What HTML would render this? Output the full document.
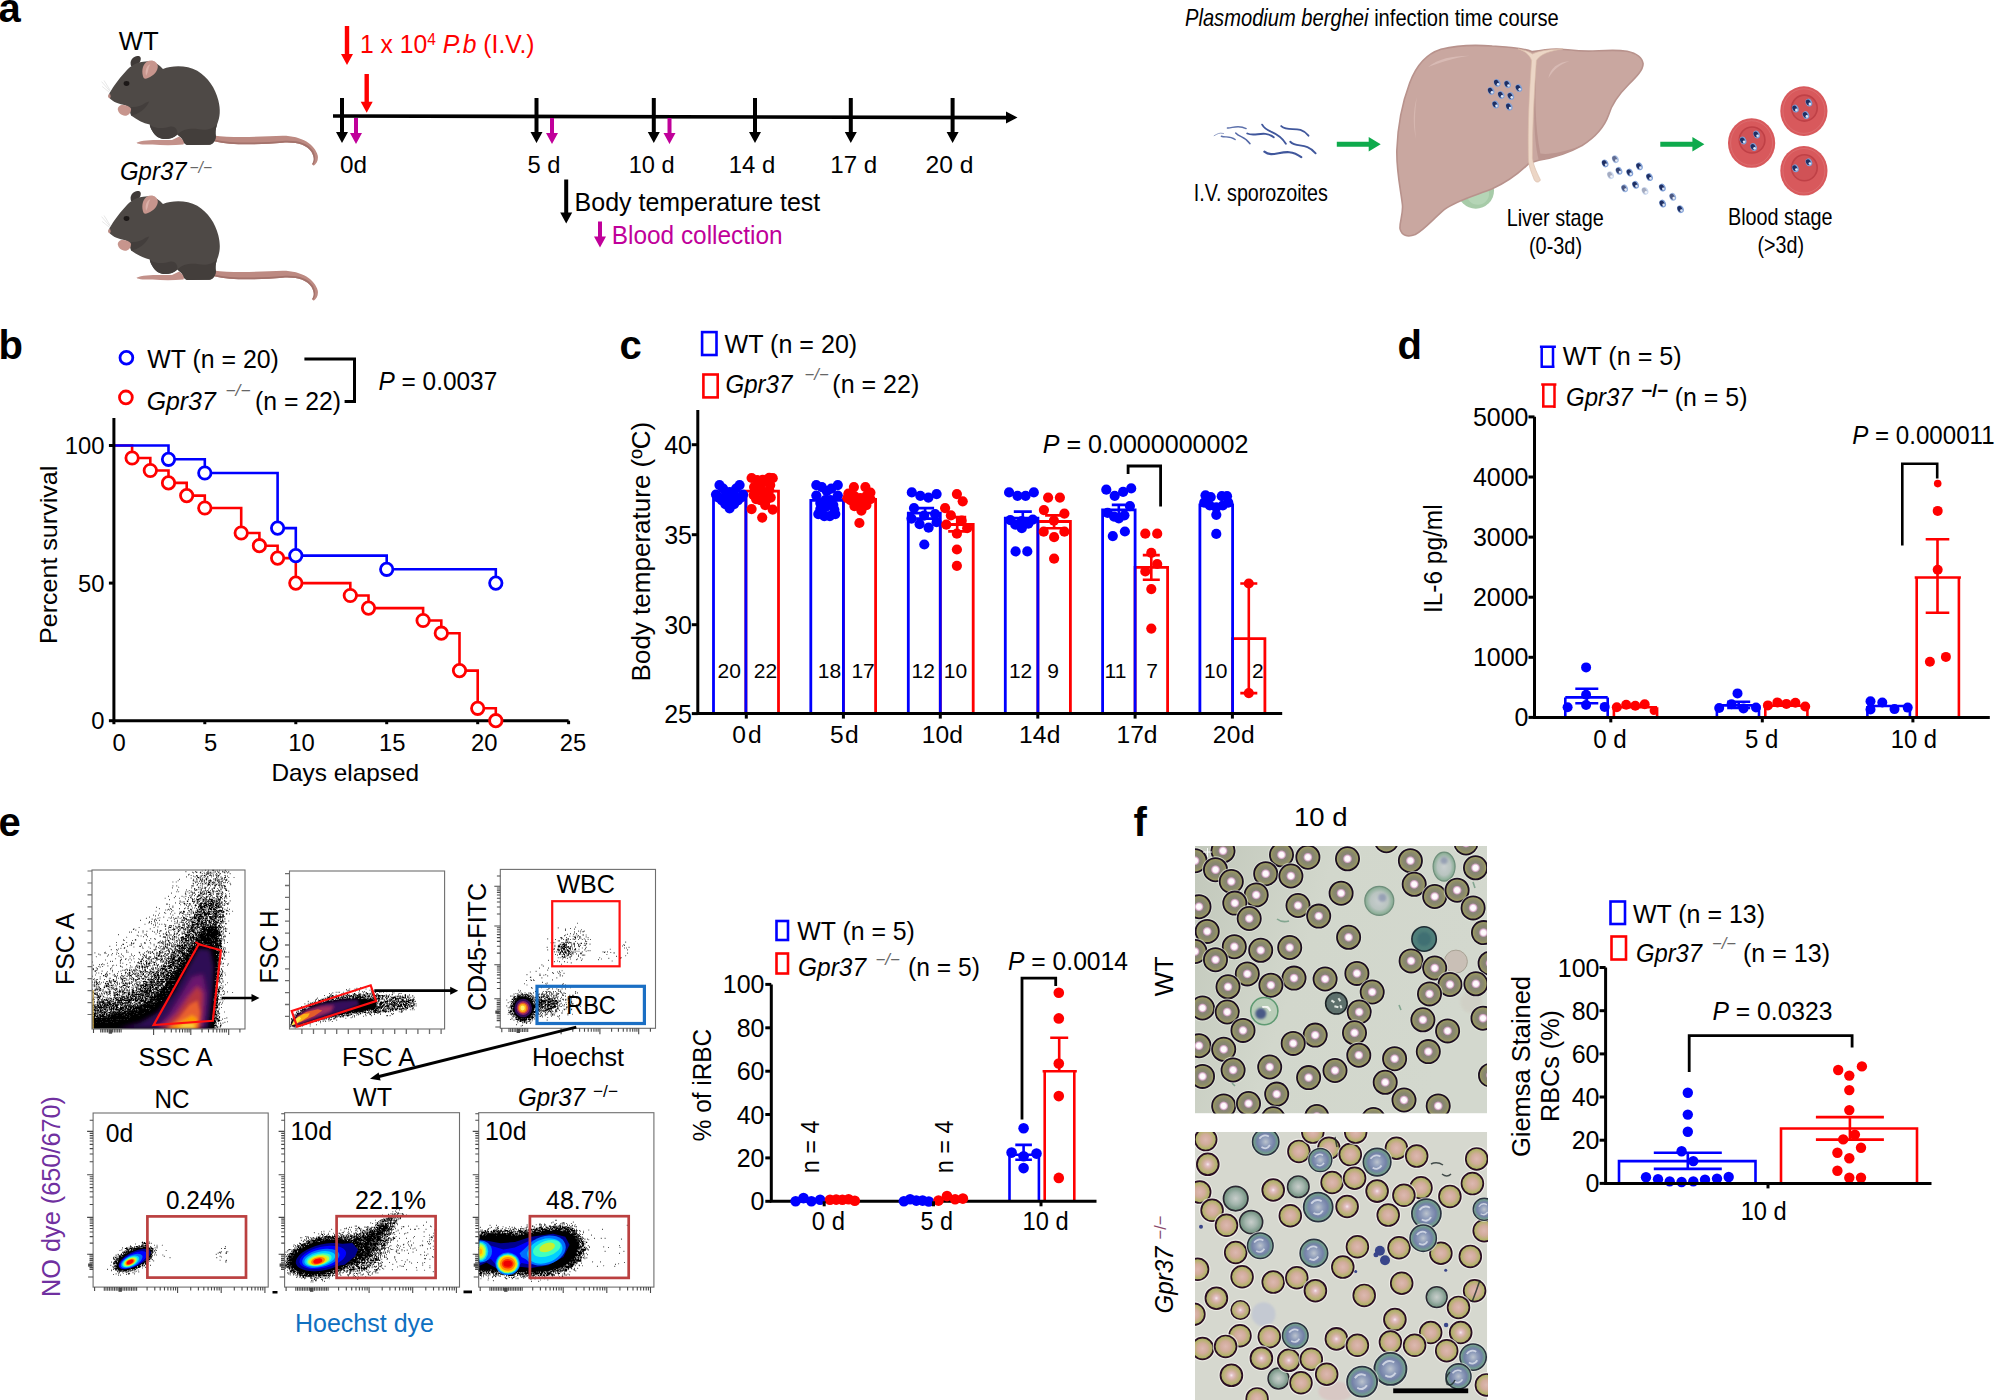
<!DOCTYPE html><html><head><meta charset="utf-8"><title>Figure</title><style>html,body{margin:0;padding:0;background:#fff}svg{display:block}text{font-family:"Liberation Sans",sans-serif}</style></head><body><svg width="1995" height="1400" viewBox="0 0 1995 1400"><rect width="1995" height="1400" fill="#fff"/>
<text x="-1.5" y="21.8" font-size="40" font-weight="bold">a</text>
<text x="118.8" y="49.5" font-size="25.6" textLength="40.0" lengthAdjust="spacingAndGlyphs">WT</text>
<g transform="translate(95 45) scale(0.12030)">
<path d="M985 752 C1150 775 1400 760 1560 755 C1720 755 1830 830 1852 920 C1858 960 1840 990 1818 1003 L1805 990 C1825 960 1822 930 1800 890 C1760 830 1680 805 1560 812 C1400 825 1150 840 990 800 Z" fill="#bd8a82"/>
<path d="M990 800 C1150 840 1400 825 1560 812 C1680 805 1760 830 1800 890 C1822 930 1825 960 1805 990 L1812 998 C1835 960 1835 925 1812 880 C1770 815 1680 790 1560 798 C1400 810 1150 825 990 785 Z" fill="#a3726b"/>
<path d="M300 175 C285 135 310 100 350 92 C378 90 385 105 378 130 L350 190 Z" fill="#3f3a38"/>
<path d="M345 812 C400 785 520 790 640 790 L700 760 L745 800 L735 828 C650 835 560 835 480 828 C420 828 360 828 345 812 Z" fill="#c3918a"/>
<path d="M113 418 C135 370 190 290 260 215 C290 180 330 150 400 140 C450 125 500 140 540 175 L565 200 C640 170 760 165 850 215 C940 270 1000 360 1025 460 C1045 540 1040 600 1015 660 C1000 700 1000 730 1005 760 C1000 800 980 825 950 830 L780 832 C750 830 740 815 735 795 C720 770 700 760 685 745 C640 790 560 790 520 765 C480 730 460 690 455 660 C400 650 350 620 300 585 L288 525 C270 505 240 495 215 492 C190 485 165 475 150 465 C125 450 113 435 113 418 Z" fill="#4e4946"/>
<path d="M685 745 C720 700 800 690 860 700 C920 710 980 700 1015 660 C1000 700 1000 730 1005 760 C1000 800 980 825 950 830 L780 832 C750 830 740 815 735 795 C720 770 700 760 685 745 Z" fill="#433e3b"/>
<path d="M455 660 C480 690 560 700 620 680 C660 670 690 700 685 745 C640 790 560 790 520 765 C480 730 460 690 455 660 Z" fill="#433e3c"/>
<path d="M300 585 C290 560 290 530 300 515 C340 520 380 510 420 480 L450 470 C430 520 380 560 340 575 Z" fill="#433e3c"/>
<path d="M405 275 C385 230 390 170 430 140 C470 115 515 135 522 175 C525 215 490 255 440 275 C425 282 412 282 405 275 Z" fill="#c7958d"/>
<path d="M425 255 C415 215 425 175 460 160 C440 190 445 225 425 255 Z" fill="#dcb1a9"/>
<ellipse cx="262" cy="320" rx="24" ry="20" fill="#1c1817"/>
<ellipse cx="120" cy="425" rx="10" ry="18" fill="#b98880"/>
<path d="M190 540 C185 515 205 498 230 498 C260 500 290 510 300 530 C300 560 285 580 260 588 C230 588 200 575 190 540 Z" fill="#c7958d"/>
<path d="M125 385 L55 305 M128 380 L75 295 M122 395 L60 345" stroke="#bbb" stroke-width="3" fill="none"/>
</g>
<text x="120.0" y="179.8" font-size="25.6" font-style="italic" textLength="66.5" lengthAdjust="spacingAndGlyphs">Gpr37</text>
<text x="189.5" y="172.5" font-size="16" fill="#666" font-style="italic" textLength="22.5" lengthAdjust="spacingAndGlyphs">−/−</text>
<g transform="translate(95 180) scale(0.12030)">
<path d="M985 752 C1150 775 1400 760 1560 755 C1720 755 1830 830 1852 920 C1858 960 1840 990 1818 1003 L1805 990 C1825 960 1822 930 1800 890 C1760 830 1680 805 1560 812 C1400 825 1150 840 990 800 Z" fill="#bd8a82"/>
<path d="M990 800 C1150 840 1400 825 1560 812 C1680 805 1760 830 1800 890 C1822 930 1825 960 1805 990 L1812 998 C1835 960 1835 925 1812 880 C1770 815 1680 790 1560 798 C1400 810 1150 825 990 785 Z" fill="#a3726b"/>
<path d="M300 175 C285 135 310 100 350 92 C378 90 385 105 378 130 L350 190 Z" fill="#3f3a38"/>
<path d="M345 812 C400 785 520 790 640 790 L700 760 L745 800 L735 828 C650 835 560 835 480 828 C420 828 360 828 345 812 Z" fill="#c3918a"/>
<path d="M113 418 C135 370 190 290 260 215 C290 180 330 150 400 140 C450 125 500 140 540 175 L565 200 C640 170 760 165 850 215 C940 270 1000 360 1025 460 C1045 540 1040 600 1015 660 C1000 700 1000 730 1005 760 C1000 800 980 825 950 830 L780 832 C750 830 740 815 735 795 C720 770 700 760 685 745 C640 790 560 790 520 765 C480 730 460 690 455 660 C400 650 350 620 300 585 L288 525 C270 505 240 495 215 492 C190 485 165 475 150 465 C125 450 113 435 113 418 Z" fill="#4e4946"/>
<path d="M685 745 C720 700 800 690 860 700 C920 710 980 700 1015 660 C1000 700 1000 730 1005 760 C1000 800 980 825 950 830 L780 832 C750 830 740 815 735 795 C720 770 700 760 685 745 Z" fill="#433e3b"/>
<path d="M455 660 C480 690 560 700 620 680 C660 670 690 700 685 745 C640 790 560 790 520 765 C480 730 460 690 455 660 Z" fill="#433e3c"/>
<path d="M300 585 C290 560 290 530 300 515 C340 520 380 510 420 480 L450 470 C430 520 380 560 340 575 Z" fill="#433e3c"/>
<path d="M405 275 C385 230 390 170 430 140 C470 115 515 135 522 175 C525 215 490 255 440 275 C425 282 412 282 405 275 Z" fill="#c7958d"/>
<path d="M425 255 C415 215 425 175 460 160 C440 190 445 225 425 255 Z" fill="#dcb1a9"/>
<ellipse cx="262" cy="320" rx="24" ry="20" fill="#1c1817"/>
<ellipse cx="120" cy="425" rx="10" ry="18" fill="#b98880"/>
<path d="M190 540 C185 515 205 498 230 498 C260 500 290 510 300 530 C300 560 285 580 260 588 C230 588 200 575 190 540 Z" fill="#c7958d"/>
<path d="M125 385 L55 305 M128 380 L75 295 M122 395 L60 345" stroke="#bbb" stroke-width="3" fill="none"/>
</g>
<path d="M333 114.2L1006 115.8V111.5L1017.5 117.5L1006 123.5V119.4L333 117.8Z" fill="#000"/>
<path d="M340.0 98.0H344.0V132.0H348.0L342.0 143.0L336.0 132.0H340.0Z" fill="#000"/>
<path d="M534.5 98.0H538.5V132.0H542.5L536.5 143.0L530.5 132.0H534.5Z" fill="#000"/>
<path d="M651.8 98.0H655.8V132.0H659.8L653.8 143.0L647.8 132.0H651.8Z" fill="#000"/>
<path d="M753.0 98.0H757.0V132.0H761.0L755.0 143.0L749.0 132.0H753.0Z" fill="#000"/>
<path d="M848.8 98.0H852.8V132.0H856.8L850.8 143.0L844.8 132.0H848.8Z" fill="#000"/>
<path d="M950.6 98.0H954.6V132.0H958.6L952.6 143.0L946.6 132.0H950.6Z" fill="#000"/>
<path d="M354.0 118.0H358.0V133.0H362.0L356.0 144.0L350.0 133.0H354.0Z" fill="#c0009a"/>
<path d="M550.0 118.0H554.0V133.0H558.0L552.0 144.0L546.0 133.0H550.0Z" fill="#c0009a"/>
<path d="M667.5 118.0H671.5V133.0H675.5L669.5 144.0L663.5 133.0H667.5Z" fill="#c0009a"/>
<path d="M344.8 26.0H349.2V54.0H353.0L347.0 65.0L341.0 54.0H344.8Z" fill="#ff0000"/>
<path d="M364.5 74.0H368.9V101.7H372.7L366.7 112.7L360.7 101.7H364.5Z" fill="#ff0000"/>
<text x="360.0" y="53.2" font-size="25.5" fill="#ff0000" textLength="174.5" lengthAdjust="spacingAndGlyphs">1 x 10<tspan dy="-8" font-size="16">4</tspan><tspan dy="8"> </tspan><tspan font-style="italic">P.b</tspan> (I.V.)</text>
<text x="340.0" y="172.5" font-size="24.5" textLength="27.0" lengthAdjust="spacingAndGlyphs">0d</text>
<text x="527.5" y="172.5" font-size="24.5" textLength="33.0" lengthAdjust="spacingAndGlyphs">5 d</text>
<text x="628.7" y="172.5" font-size="24.5" textLength="46.0" lengthAdjust="spacingAndGlyphs">10 d</text>
<text x="728.7" y="172.5" font-size="24.5" textLength="46.5" lengthAdjust="spacingAndGlyphs">14 d</text>
<text x="830.3" y="172.5" font-size="24.5" textLength="47.0" lengthAdjust="spacingAndGlyphs">17 d</text>
<text x="925.5" y="172.5" font-size="24.5" textLength="48.0" lengthAdjust="spacingAndGlyphs">20 d</text>
<path d="M564.2 179.4H568.2V212.5H572.2L566.2 223.5L560.2 212.5H564.2Z" fill="#000"/>
<text x="574.6" y="210.5" font-size="25" textLength="245.7" lengthAdjust="spacingAndGlyphs">Body temperature test</text>
<path d="M598.0 221.5H602.0V236.6H606.0L600.0 247.6L594.0 236.6H598.0Z" fill="#c0009a"/>
<text x="611.7" y="243.6" font-size="25" fill="#c0009a" textLength="171.0" lengthAdjust="spacingAndGlyphs">Blood collection</text>
<text x="1185.0" y="25.5" font-size="23.8" textLength="373.8" lengthAdjust="spacingAndGlyphs"><tspan font-style="italic">Plasmodium berghei</tspan> infection time course</text>
<g transform="translate(1180 80) scale(0.11028)" fill="none" stroke="#40579c" stroke-width="17" stroke-linecap="round">
<path d="M430 435 C470 440 520 400 600 440" stroke-width="13" opacity=".85"/>
<path d="M310 505 C340 490 350 475 395 485" stroke-width="9" opacity=".55"/>
<path d="M375 510 C410 525 450 500 500 540" stroke-width="13" opacity=".85"/>
<path d="M505 480 C540 520 590 510 635 578" stroke-width="13" opacity=".9"/>
<path d="M610 485 C680 520 760 450 850 520"/>
<path d="M745 405 C790 490 880 450 960 578"/>
<path d="M918 418 C990 480 1080 400 1165 505"/>
<path d="M1000 560 C1060 620 1140 560 1230 665"/>
<path d="M765 650 C850 720 960 590 1100 700" stroke-width="19"/>
</g>
<text x="1193.8" y="201.3" font-size="24" textLength="134.0" lengthAdjust="spacingAndGlyphs">I.V. sporozoites</text>
<path d="M1336.8 141.8V146.8H1368.7V151.6L1380.7 144.3L1368.7 137.1V141.8Z" fill="#0eaa4c"/>
<g transform="translate(1380 30) scale(0.16041)">
<circle cx="597" cy="1000" r="114" fill="#a7cba8"/>
<circle cx="610" cy="1020" r="70" fill="#b5d5b6"/>
<path d="M950 135 C880 110 800 105 700 100 C600 92 480 95 380 120 C300 145 230 210 185 330 C140 450 110 600 105 750 C102 880 130 1000 140 1090 C145 1150 120 1200 125 1240 C135 1280 170 1295 220 1275 C270 1250 320 1190 400 1120 C480 1060 600 1030 700 990 C800 945 880 880 930 830 L990 812 C1060 800 1160 775 1260 720 C1340 670 1400 600 1425 530 C1445 460 1490 400 1550 340 C1600 290 1640 250 1640 210 C1635 170 1600 145 1540 132 C1460 120 1380 130 1300 132 C1200 130 1150 118 1100 118 C1040 120 990 128 950 135 Z" fill="#c9a7a0" stroke="#b8928c" stroke-width="10"/>
<path d="M975 190 C960 400 950 650 990 812 C1060 800 1160 775 1260 720 C1150 760 1050 780 1000 770 C965 600 965 400 975 190 Z" fill="#bb958f"/>
<path d="M300 230 C360 180 450 160 560 160 C470 170 380 200 300 230 Z" fill="#d8bab4"/>
<path d="M1050 300 C1060 240 1110 200 1180 195 C1120 215 1080 250 1050 300 Z" fill="#d8bab4"/>
<path d="M230 420 C215 520 215 600 225 680 C205 600 205 500 230 420 Z" fill="#d6b7b0"/>
<path d="M860 118 C900 125 930 135 950 150 C990 130 1050 120 1140 118 C1060 130 1000 150 975 190 C960 400 950 600 950 800 C960 860 985 900 1000 935 C990 955 970 950 962 935 C945 890 925 850 925 800 C920 600 930 400 945 190 C930 150 900 130 860 118 Z" fill="#ecd6c6" stroke="#d9bba9" stroke-width="4"/>
<g opacity="1"><ellipse cx="730" cy="330" rx="20" ry="25" fill="#7f9fd6" transform="rotate(-25 730 330)"/><ellipse cx="727" cy="327" rx="14" ry="18" fill="#1f2f63" transform="rotate(-25 730 330)"/><circle cx="736" cy="338" r="8" fill="#dfe8f7"/></g>
<g opacity="1"><ellipse cx="795" cy="338" rx="20" ry="25" fill="#7f9fd6" transform="rotate(-25 795 338)"/><ellipse cx="792" cy="335" rx="14" ry="18" fill="#1f2f63" transform="rotate(-25 795 338)"/><circle cx="801" cy="346" r="8" fill="#dfe8f7"/></g>
<g opacity="1"><ellipse cx="865" cy="362" rx="20" ry="25" fill="#7f9fd6" transform="rotate(-25 865 362)"/><ellipse cx="862" cy="359" rx="14" ry="18" fill="#1f2f63" transform="rotate(-25 865 362)"/><circle cx="871" cy="370" r="8" fill="#dfe8f7"/></g>
<g opacity="1"><ellipse cx="692" cy="380" rx="20" ry="25" fill="#7f9fd6" transform="rotate(-25 692 380)"/><ellipse cx="689" cy="377" rx="14" ry="18" fill="#1f2f63" transform="rotate(-25 692 380)"/><circle cx="698" cy="388" r="8" fill="#dfe8f7"/></g>
<g opacity="1"><ellipse cx="755" cy="405" rx="20" ry="25" fill="#7f9fd6" transform="rotate(-25 755 405)"/><ellipse cx="752" cy="402" rx="14" ry="18" fill="#1f2f63" transform="rotate(-25 755 405)"/><circle cx="761" cy="413" r="8" fill="#dfe8f7"/></g>
<g opacity="1"><ellipse cx="815" cy="412" rx="20" ry="25" fill="#7f9fd6" transform="rotate(-25 815 412)"/><ellipse cx="812" cy="409" rx="14" ry="18" fill="#1f2f63" transform="rotate(-25 815 412)"/><circle cx="821" cy="420" r="8" fill="#dfe8f7"/></g>
<g opacity="1"><ellipse cx="720" cy="465" rx="20" ry="25" fill="#7f9fd6" transform="rotate(-25 720 465)"/><ellipse cx="717" cy="462" rx="14" ry="18" fill="#1f2f63" transform="rotate(-25 720 465)"/><circle cx="726" cy="473" r="8" fill="#dfe8f7"/></g>
<g opacity="1"><ellipse cx="805" cy="478" rx="20" ry="25" fill="#7f9fd6" transform="rotate(-25 805 478)"/><ellipse cx="802" cy="475" rx="14" ry="18" fill="#1f2f63" transform="rotate(-25 805 478)"/><circle cx="811" cy="486" r="8" fill="#dfe8f7"/></g>
<g opacity="1"><ellipse cx="1403" cy="832" rx="20" ry="25" fill="#7f9fd6" transform="rotate(-25 1403 832)"/><ellipse cx="1400" cy="829" rx="14" ry="18" fill="#1f2f63" transform="rotate(-25 1403 832)"/><circle cx="1409" cy="840" r="8" fill="#dfe8f7"/></g>
<g opacity="0.7"><ellipse cx="1467" cy="805" rx="20" ry="25" fill="#7f9fd6" transform="rotate(-25 1467 805)"/><ellipse cx="1464" cy="802" rx="14" ry="18" fill="#1f2f63" transform="rotate(-25 1467 805)"/><circle cx="1473" cy="813" r="8" fill="#dfe8f7"/></g>
<g opacity="0.9"><ellipse cx="1490" cy="878" rx="20" ry="25" fill="#7f9fd6" transform="rotate(-25 1490 878)"/><ellipse cx="1487" cy="875" rx="14" ry="18" fill="#1f2f63" transform="rotate(-25 1490 878)"/><circle cx="1496" cy="886" r="8" fill="#dfe8f7"/></g>
<g opacity="0.4"><ellipse cx="1437" cy="905" rx="20" ry="25" fill="#7f9fd6" transform="rotate(-25 1437 905)"/><ellipse cx="1434" cy="902" rx="14" ry="18" fill="#1f2f63" transform="rotate(-25 1437 905)"/><circle cx="1443" cy="913" r="8" fill="#dfe8f7"/></g>
<g opacity="1"><ellipse cx="1557" cy="889" rx="20" ry="25" fill="#7f9fd6" transform="rotate(-25 1557 889)"/><ellipse cx="1554" cy="886" rx="14" ry="18" fill="#1f2f63" transform="rotate(-25 1557 889)"/><circle cx="1563" cy="897" r="8" fill="#dfe8f7"/></g>
<g opacity="1"><ellipse cx="1617" cy="850" rx="20" ry="25" fill="#7f9fd6" transform="rotate(-25 1617 850)"/><ellipse cx="1614" cy="847" rx="14" ry="18" fill="#1f2f63" transform="rotate(-25 1617 850)"/><circle cx="1623" cy="858" r="8" fill="#dfe8f7"/></g>
<g opacity="1"><ellipse cx="1680" cy="917" rx="20" ry="25" fill="#7f9fd6" transform="rotate(-25 1680 917)"/><ellipse cx="1677" cy="914" rx="14" ry="18" fill="#1f2f63" transform="rotate(-25 1680 917)"/><circle cx="1686" cy="925" r="8" fill="#dfe8f7"/></g>
<g opacity="1"><ellipse cx="1593" cy="965" rx="20" ry="25" fill="#7f9fd6" transform="rotate(-25 1593 965)"/><ellipse cx="1590" cy="962" rx="14" ry="18" fill="#1f2f63" transform="rotate(-25 1593 965)"/><circle cx="1599" cy="973" r="8" fill="#dfe8f7"/></g>
<g opacity="0.8"><ellipse cx="1525" cy="987" rx="20" ry="25" fill="#7f9fd6" transform="rotate(-25 1525 987)"/><ellipse cx="1522" cy="984" rx="14" ry="18" fill="#1f2f63" transform="rotate(-25 1525 987)"/><circle cx="1531" cy="995" r="8" fill="#dfe8f7"/></g>
<g opacity="0.4"><ellipse cx="1652" cy="1003" rx="20" ry="25" fill="#7f9fd6" transform="rotate(-25 1652 1003)"/><ellipse cx="1649" cy="1000" rx="14" ry="18" fill="#1f2f63" transform="rotate(-25 1652 1003)"/><circle cx="1658" cy="1011" r="8" fill="#dfe8f7"/></g>
<g opacity="1"><ellipse cx="1760" cy="982" rx="20" ry="25" fill="#7f9fd6" transform="rotate(-25 1760 982)"/><ellipse cx="1757" cy="979" rx="14" ry="18" fill="#1f2f63" transform="rotate(-25 1760 982)"/><circle cx="1766" cy="990" r="8" fill="#dfe8f7"/></g>
<g opacity="0.8"><ellipse cx="1825" cy="1040" rx="20" ry="25" fill="#7f9fd6" transform="rotate(-25 1825 1040)"/><ellipse cx="1822" cy="1037" rx="14" ry="18" fill="#1f2f63" transform="rotate(-25 1825 1040)"/><circle cx="1831" cy="1048" r="8" fill="#dfe8f7"/></g>
<g opacity="1"><ellipse cx="1762" cy="1082" rx="20" ry="25" fill="#7f9fd6" transform="rotate(-25 1762 1082)"/><ellipse cx="1759" cy="1079" rx="14" ry="18" fill="#1f2f63" transform="rotate(-25 1762 1082)"/><circle cx="1768" cy="1090" r="8" fill="#dfe8f7"/></g>
<g opacity="1"><ellipse cx="1873" cy="1117" rx="20" ry="25" fill="#7f9fd6" transform="rotate(-25 1873 1117)"/><ellipse cx="1870" cy="1114" rx="14" ry="18" fill="#1f2f63" transform="rotate(-25 1873 1117)"/><circle cx="1879" cy="1125" r="8" fill="#dfe8f7"/></g>
</g>
<path d="M1660.3 141.7V146.7H1692.4V151.4L1704.4 144.2L1692.4 136.9V141.7Z" fill="#0eaa4c"/>
<text x="1506.7" y="225.7" font-size="24" textLength="97.0" lengthAdjust="spacingAndGlyphs">Liver stage</text>
<text x="1529.0" y="254.0" font-size="24" textLength="53.0" lengthAdjust="spacingAndGlyphs">(0-3d)</text>
<ellipse cx="1751.6" cy="143" rx="23.6" ry="24.8" fill="#d8595c"/>
<ellipse cx="1751.6" cy="143" rx="21" ry="22.3" fill="none" stroke="#e0787a" stroke-width="1" opacity=".6"/>
<ellipse cx="1752.1" cy="140" rx="12.8" ry="13" fill="#d05256" stroke="#bf4046" stroke-width="1.6"/>
<g transform="translate(1743.1 140.5) scale(0.16)">
<g opacity="1"><ellipse cx="0" cy="0" rx="20" ry="25" fill="#7f9fd6" transform="rotate(-25 0 0)"/><ellipse cx="-3" cy="-3" rx="14" ry="18" fill="#1f2f63" transform="rotate(-25 0 0)"/><circle cx="6" cy="8" r="8" fill="#dfe8f7"/></g>
</g>
<g transform="translate(1756.6 134.5) scale(0.16)">
<g opacity="1"><ellipse cx="0" cy="0" rx="20" ry="25" fill="#7f9fd6" transform="rotate(-25 0 0)"/><ellipse cx="-3" cy="-3" rx="14" ry="18" fill="#1f2f63" transform="rotate(-25 0 0)"/><circle cx="6" cy="8" r="8" fill="#dfe8f7"/></g>
</g>
<g transform="translate(1753.6 147.0) scale(0.16)">
<g opacity="1"><ellipse cx="0" cy="0" rx="20" ry="25" fill="#7f9fd6" transform="rotate(-25 0 0)"/><ellipse cx="-3" cy="-3" rx="14" ry="18" fill="#1f2f63" transform="rotate(-25 0 0)"/><circle cx="6" cy="8" r="8" fill="#dfe8f7"/></g>
</g>
<ellipse cx="1803.9" cy="111.1" rx="23.6" ry="24.8" fill="#d8595c"/>
<ellipse cx="1803.9" cy="111.1" rx="21" ry="22.3" fill="none" stroke="#e0787a" stroke-width="1" opacity=".6"/>
<ellipse cx="1804.4" cy="108.1" rx="12.8" ry="13" fill="#d05256" stroke="#bf4046" stroke-width="1.6"/>
<g transform="translate(1795.4 108.6) scale(0.16)">
<g opacity="1"><ellipse cx="0" cy="0" rx="20" ry="25" fill="#7f9fd6" transform="rotate(-25 0 0)"/><ellipse cx="-3" cy="-3" rx="14" ry="18" fill="#1f2f63" transform="rotate(-25 0 0)"/><circle cx="6" cy="8" r="8" fill="#dfe8f7"/></g>
</g>
<g transform="translate(1808.9 102.6) scale(0.16)">
<g opacity="1"><ellipse cx="0" cy="0" rx="20" ry="25" fill="#7f9fd6" transform="rotate(-25 0 0)"/><ellipse cx="-3" cy="-3" rx="14" ry="18" fill="#1f2f63" transform="rotate(-25 0 0)"/><circle cx="6" cy="8" r="8" fill="#dfe8f7"/></g>
</g>
<g transform="translate(1805.9 115.1) scale(0.16)">
<g opacity="1"><ellipse cx="0" cy="0" rx="20" ry="25" fill="#7f9fd6" transform="rotate(-25 0 0)"/><ellipse cx="-3" cy="-3" rx="14" ry="18" fill="#1f2f63" transform="rotate(-25 0 0)"/><circle cx="6" cy="8" r="8" fill="#dfe8f7"/></g>
</g>
<ellipse cx="1803.9" cy="170.8" rx="23.6" ry="24.8" fill="#d8595c"/>
<ellipse cx="1803.9" cy="170.8" rx="21" ry="22.3" fill="none" stroke="#e0787a" stroke-width="1" opacity=".6"/>
<ellipse cx="1804.4" cy="167.8" rx="12.8" ry="13" fill="#d05256" stroke="#bf4046" stroke-width="1.6"/>
<g transform="translate(1795.4 168.3) scale(0.16)">
<g opacity="1"><ellipse cx="0" cy="0" rx="20" ry="25" fill="#7f9fd6" transform="rotate(-25 0 0)"/><ellipse cx="-3" cy="-3" rx="14" ry="18" fill="#1f2f63" transform="rotate(-25 0 0)"/><circle cx="6" cy="8" r="8" fill="#dfe8f7"/></g>
</g>
<g transform="translate(1808.9 162.3) scale(0.16)">
<g opacity="1"><ellipse cx="0" cy="0" rx="20" ry="25" fill="#7f9fd6" transform="rotate(-25 0 0)"/><ellipse cx="-3" cy="-3" rx="14" ry="18" fill="#1f2f63" transform="rotate(-25 0 0)"/><circle cx="6" cy="8" r="8" fill="#dfe8f7"/></g>
</g>
<text x="1728.0" y="225.0" font-size="24" textLength="104.5" lengthAdjust="spacingAndGlyphs">Blood stage</text>
<text x="1757.5" y="252.5" font-size="24" textLength="46.5" lengthAdjust="spacingAndGlyphs">(&gt;3d)</text>
<text x="-1.5" y="359.0" font-size="40" font-weight="bold">b</text>
<circle cx="126.4" cy="357.8" r="6.4" fill="#fff" stroke="#0000ff" stroke-width="2.8"/>
<circle cx="125.9" cy="397.4" r="6.4" fill="#fff" stroke="#ff0000" stroke-width="2.8"/>
<text x="147.3" y="367.7" font-size="25.8" textLength="131.6" lengthAdjust="spacingAndGlyphs">WT (n = 20)</text>
<text x="146.7" y="410.0" font-size="25.8" font-style="italic" textLength="69.0" lengthAdjust="spacingAndGlyphs">Gpr37</text>
<text x="225.5" y="396.0" font-size="16" fill="#666" font-style="italic" textLength="25.0" lengthAdjust="spacingAndGlyphs">−/−</text>
<text x="255.0" y="410.0" font-size="25.8" textLength="86.0" lengthAdjust="spacingAndGlyphs">(n = 22)</text>
<path d="M304.4 359.1H354.5V401.6H344.6" fill="none" stroke="#000" stroke-width="3"/>
<text x="378.5" y="390.4" font-size="25.8" textLength="118.8" lengthAdjust="spacingAndGlyphs"><tspan font-style="italic">P</tspan> = 0.0037</text>
<path d="M113.9 445.5H132.1V458.0H150.3V470.5H168.5V482.9H186.7V495.6H204.8V508.0H241.2V533.0H259.4V545.7H277.6V558.1H295.8V583.1H350.3V595.5H368.5V608.1H423.1V620.5H441.3V633.2H459.5V670.6H477.7V708.3H495.8V720.7" fill="none" stroke="#ff0000" stroke-width="2.6"/>
<path d="M113.9 445.5H168.5V459.3H204.8V473.0H277.6V528.1H295.8V555.6H386.7V569.3H495.8V583.1" fill="none" stroke="#0000ff" stroke-width="2.6"/>
<path d="M113.9 418V720.7H568.6" fill="none" stroke="#000" stroke-width="3"/>
<line x1="108.9" y1="720.7" x2="113.9" y2="720.7" stroke="#000" stroke-width="3" />
<line x1="108.9" y1="583.1" x2="113.9" y2="583.1" stroke="#000" stroke-width="3" />
<line x1="108.9" y1="445.5" x2="113.9" y2="445.5" stroke="#000" stroke-width="3" />
<line x1="113.9" y1="720.7" x2="113.9" y2="724.2" stroke="#000" stroke-width="3" />
<line x1="204.8" y1="720.7" x2="204.8" y2="724.2" stroke="#000" stroke-width="3" />
<line x1="295.8" y1="720.7" x2="295.8" y2="724.2" stroke="#000" stroke-width="3" />
<line x1="386.7" y1="720.7" x2="386.7" y2="724.2" stroke="#000" stroke-width="3" />
<line x1="477.7" y1="720.7" x2="477.7" y2="724.2" stroke="#000" stroke-width="3" />
<line x1="568.6" y1="720.7" x2="568.6" y2="724.2" stroke="#000" stroke-width="3" />
<circle cx="132.1" cy="458.0" r="6.2" fill="#fff" stroke="#ff0000" stroke-width="2.8"/>
<circle cx="150.3" cy="470.5" r="6.2" fill="#fff" stroke="#ff0000" stroke-width="2.8"/>
<circle cx="168.5" cy="482.9" r="6.2" fill="#fff" stroke="#ff0000" stroke-width="2.8"/>
<circle cx="186.7" cy="495.6" r="6.2" fill="#fff" stroke="#ff0000" stroke-width="2.8"/>
<circle cx="204.8" cy="508.0" r="6.2" fill="#fff" stroke="#ff0000" stroke-width="2.8"/>
<circle cx="241.2" cy="533.0" r="6.2" fill="#fff" stroke="#ff0000" stroke-width="2.8"/>
<circle cx="259.4" cy="545.7" r="6.2" fill="#fff" stroke="#ff0000" stroke-width="2.8"/>
<circle cx="277.6" cy="558.1" r="6.2" fill="#fff" stroke="#ff0000" stroke-width="2.8"/>
<circle cx="295.8" cy="583.1" r="6.2" fill="#fff" stroke="#ff0000" stroke-width="2.8"/>
<circle cx="350.3" cy="595.5" r="6.2" fill="#fff" stroke="#ff0000" stroke-width="2.8"/>
<circle cx="368.5" cy="608.1" r="6.2" fill="#fff" stroke="#ff0000" stroke-width="2.8"/>
<circle cx="423.1" cy="620.5" r="6.2" fill="#fff" stroke="#ff0000" stroke-width="2.8"/>
<circle cx="441.3" cy="633.2" r="6.2" fill="#fff" stroke="#ff0000" stroke-width="2.8"/>
<circle cx="459.5" cy="670.6" r="6.2" fill="#fff" stroke="#ff0000" stroke-width="2.8"/>
<circle cx="477.7" cy="708.3" r="6.2" fill="#fff" stroke="#ff0000" stroke-width="2.8"/>
<circle cx="495.8" cy="720.7" r="6.2" fill="#fff" stroke="#ff0000" stroke-width="2.8"/>
<circle cx="168.5" cy="459.3" r="6.2" fill="#fff" stroke="#0000ff" stroke-width="2.8"/>
<circle cx="204.8" cy="473.0" r="6.2" fill="#fff" stroke="#0000ff" stroke-width="2.8"/>
<circle cx="277.6" cy="528.1" r="6.2" fill="#fff" stroke="#0000ff" stroke-width="2.8"/>
<circle cx="295.8" cy="555.6" r="6.2" fill="#fff" stroke="#0000ff" stroke-width="2.8"/>
<circle cx="386.7" cy="569.3" r="6.2" fill="#fff" stroke="#0000ff" stroke-width="2.8"/>
<circle cx="495.8" cy="583.1" r="6.2" fill="#fff" stroke="#0000ff" stroke-width="2.8"/>
<text x="104.5" y="454.1" font-size="23.8" text-anchor="end">100</text>
<text x="104.5" y="591.7" font-size="23.8" text-anchor="end">50</text>
<text x="104.5" y="729.3" font-size="23.8" text-anchor="end">0</text>
<text x="119.1" y="750.9" font-size="23.8" text-anchor="middle">0</text>
<text x="210.6" y="750.9" font-size="23.8" text-anchor="middle">5</text>
<text x="301.4" y="750.9" font-size="23.8" text-anchor="middle">10</text>
<text x="392.3" y="750.9" font-size="23.8" text-anchor="middle">15</text>
<text x="484.3" y="750.9" font-size="23.8" text-anchor="middle">20</text>
<text x="572.9" y="750.9" font-size="23.8" text-anchor="middle">25</text>
<text x="271.4" y="781.4" font-size="24" textLength="147.7" lengthAdjust="spacingAndGlyphs">Days elapsed</text>
<text x="56.6" y="644.0" font-size="24" textLength="178.3" lengthAdjust="spacingAndGlyphs" transform="rotate(-90 56.6 644.0)">Percent survival</text>
<text x="619.5" y="359.0" font-size="40" font-weight="bold">c</text>
<rect x="702.1" y="332.1" width="14.4" height="22.9" fill="none" stroke="#0000ff" stroke-width="2.6"/>
<rect x="703.4" y="374.5" width="14.3" height="22.9" fill="none" stroke="#ff0000" stroke-width="2.6"/>
<text x="724.6" y="352.6" font-size="25.8" textLength="132.6" lengthAdjust="spacingAndGlyphs">WT (n = 20)</text>
<text x="725.6" y="392.6" font-size="25.8" font-style="italic" textLength="66.7" lengthAdjust="spacingAndGlyphs">Gpr37</text>
<text x="804.6" y="379.5" font-size="16" fill="#666" font-style="italic" textLength="24.0" lengthAdjust="spacingAndGlyphs">−/−</text>
<text x="832.3" y="392.6" font-size="25.8" textLength="87.0" lengthAdjust="spacingAndGlyphs">(n = 22)</text>
<text x="1042.8" y="452.6" font-size="25.8" textLength="205.6" lengthAdjust="spacingAndGlyphs"><tspan font-style="italic">P</tspan> = 0.0000000002</text>
<path d="M1128.1 474V466H1160.6V506.5" fill="none" stroke="#000" stroke-width="2.8"/>
<path d="M745.9 713.6V491.1H778.5V713.6" fill="none" stroke="#ff0000" stroke-width="2.8"/>
<path d="M843.4 713.6V499.3H875.6V713.6" fill="none" stroke="#ff0000" stroke-width="2.8"/>
<path d="M940.3 713.6V524.5H973.2V713.6" fill="none" stroke="#ff0000" stroke-width="2.8"/>
<path d="M1037.9 713.6V521.5H1070.4V713.6" fill="none" stroke="#ff0000" stroke-width="2.8"/>
<path d="M1135.1 713.6V567.3H1167.6V713.6" fill="none" stroke="#ff0000" stroke-width="2.8"/>
<path d="M1232.6 713.6V638.6H1264.9V713.6" fill="none" stroke="#ff0000" stroke-width="2.8"/>
<path d="M713.5 713.6V494.6H745.9V713.6" fill="none" stroke="#0000ff" stroke-width="2.8"/>
<path d="M810.8 713.6V500.3H843.4V713.6" fill="none" stroke="#0000ff" stroke-width="2.8"/>
<path d="M908.3 713.6V513.1H940.3V713.6" fill="none" stroke="#0000ff" stroke-width="2.8"/>
<path d="M1005.3 713.6V518.1H1037.9V713.6" fill="none" stroke="#0000ff" stroke-width="2.8"/>
<path d="M1102.6 713.6V509.8H1135.1V713.6" fill="none" stroke="#0000ff" stroke-width="2.8"/>
<path d="M1199.9 713.6V504.9H1232.6V713.6" fill="none" stroke="#0000ff" stroke-width="2.8"/>
<path d="M916.1 508.1H934.1M916.1 518.6H934.1M925.1 508.1V518.6" fill="none" stroke="#0000ff" stroke-width="2.6"/>
<path d="M948.2 517.1H966.2M948.2 531.4H966.2M957.2 517.1V531.4" fill="none" stroke="#ff0000" stroke-width="2.6"/>
<path d="M1013.8 511.6H1031.8M1013.8 525.2H1031.8M1022.8 511.6V525.2" fill="none" stroke="#0000ff" stroke-width="2.6"/>
<path d="M1045.1 515.4H1063.1M1045.1 528.2H1063.1M1054.1 515.4V528.2" fill="none" stroke="#ff0000" stroke-width="2.6"/>
<path d="M1111.8 504.9H1125.8M1111.8 514.8H1125.8M1118.8 504.9V514.8" fill="none" stroke="#0000ff" stroke-width="2.6"/>
<path d="M1142.8 555.1H1159.8M1142.8 579.8H1159.8M1151.3 555.1V579.8" fill="none" stroke="#ff0000" stroke-width="2.6"/>
<path d="M1240.3 583.5H1257.3M1240.3 693.1H1257.3M1248.8 583.5V693.1" fill="none" stroke="#ff0000" stroke-width="2.6"/>
<g fill="#0000ff"><circle cx="719.5" cy="485.1" r="5.1"/><circle cx="723.1" cy="488.6" r="5.1"/><circle cx="739.6" cy="485.1" r="5.1"/><circle cx="736.1" cy="488.6" r="5.1"/><circle cx="726.3" cy="493.1" r="5.1"/><circle cx="733.1" cy="493.1" r="5.1"/><circle cx="729.6" cy="496.6" r="5.1"/><circle cx="718.0" cy="497.3" r="5.1"/><circle cx="721.9" cy="500.3" r="5.1"/><circle cx="725.3" cy="504.1" r="5.1"/><circle cx="729.6" cy="508.3" r="5.1"/><circle cx="734.1" cy="504.1" r="5.1"/><circle cx="737.9" cy="500.3" r="5.1"/><circle cx="741.3" cy="497.3" r="5.1"/><circle cx="716.0" cy="494.6" r="5.1"/><circle cx="743.1" cy="494.6" r="5.1"/><circle cx="729.6" cy="502.1" r="5.1"/><circle cx="726.1" cy="498.6" r="5.1"/><circle cx="733.1" cy="498.6" r="5.1"/><circle cx="729.6" cy="492.1" r="5.1"/></g>
<g fill="#ff0000"><circle cx="751.6" cy="478.0" r="5.1"/><circle cx="757.1" cy="480.1" r="5.1"/><circle cx="762.7" cy="479.8" r="5.1"/><circle cx="769.2" cy="477.8" r="5.1"/><circle cx="772.7" cy="478.2" r="5.1"/><circle cx="754.1" cy="487.1" r="5.1"/><circle cx="760.2" cy="485.1" r="5.1"/><circle cx="770.2" cy="485.1" r="5.1"/><circle cx="766.2" cy="481.6" r="5.1"/><circle cx="753.6" cy="495.1" r="5.1"/><circle cx="757.1" cy="491.1" r="5.1"/><circle cx="764.2" cy="493.1" r="5.1"/><circle cx="770.7" cy="497.6" r="5.1"/><circle cx="760.2" cy="500.1" r="5.1"/><circle cx="756.1" cy="499.1" r="5.1"/><circle cx="765.2" cy="505.1" r="5.1"/><circle cx="769.2" cy="490.1" r="5.1"/><circle cx="751.6" cy="509.1" r="5.1"/><circle cx="772.7" cy="509.6" r="5.1"/><circle cx="762.2" cy="517.6" r="5.1"/><circle cx="761.2" cy="490.1" r="5.1"/><circle cx="766.2" cy="500.1" r="5.1"/></g>
<g fill="#0000ff"><circle cx="816.3" cy="485.1" r="5.1"/><circle cx="821.8" cy="487.1" r="5.1"/><circle cx="837.8" cy="485.1" r="5.1"/><circle cx="831.3" cy="488.6" r="5.1"/><circle cx="826.8" cy="491.1" r="5.1"/><circle cx="816.3" cy="495.6" r="5.1"/><circle cx="837.8" cy="495.6" r="5.1"/><circle cx="830.3" cy="500.1" r="5.1"/><circle cx="820.3" cy="503.1" r="5.1"/><circle cx="833.3" cy="505.1" r="5.1"/><circle cx="825.3" cy="507.1" r="5.1"/><circle cx="818.3" cy="514.1" r="5.1"/><circle cx="824.3" cy="516.1" r="5.1"/><circle cx="829.8" cy="516.1" r="5.1"/><circle cx="835.3" cy="514.1" r="5.1"/><circle cx="825.3" cy="500.1" r="5.1"/><circle cx="820.3" cy="509.1" r="5.1"/><circle cx="834.3" cy="509.6" r="5.1"/></g>
<g fill="#ff0000"><circle cx="853.9" cy="487.1" r="5.1"/><circle cx="865.4" cy="487.1" r="5.1"/><circle cx="848.4" cy="493.6" r="5.1"/><circle cx="870.4" cy="492.6" r="5.1"/><circle cx="854.4" cy="496.1" r="5.1"/><circle cx="860.4" cy="498.1" r="5.1"/><circle cx="866.4" cy="496.1" r="5.1"/><circle cx="850.4" cy="500.1" r="5.1"/><circle cx="856.4" cy="502.1" r="5.1"/><circle cx="864.4" cy="502.1" r="5.1"/><circle cx="870.4" cy="499.1" r="5.1"/><circle cx="854.4" cy="506.1" r="5.1"/><circle cx="860.4" cy="507.1" r="5.1"/><circle cx="866.4" cy="505.1" r="5.1"/><circle cx="861.4" cy="510.6" r="5.1"/><circle cx="859.4" cy="523.0" r="5.1"/><circle cx="847.4" cy="498.1" r="5.1"/></g>
<g fill="#0000ff"><circle cx="911.8" cy="492.4" r="5.1"/><circle cx="920.3" cy="495.8" r="5.1"/><circle cx="928.4" cy="497.6" r="5.1"/><circle cx="936.6" cy="494.1" r="5.1"/><circle cx="914.0" cy="508.1" r="5.1"/><circle cx="911.5" cy="518.6" r="5.1"/><circle cx="919.6" cy="524.2" r="5.1"/><circle cx="928.6" cy="527.7" r="5.1"/><circle cx="936.6" cy="522.2" r="5.1"/><circle cx="935.1" cy="514.1" r="5.1"/><circle cx="924.1" cy="515.6" r="5.1"/><circle cx="924.3" cy="544.5" r="5.1"/></g>
<g fill="#ff0000"><circle cx="956.9" cy="494.1" r="5.1"/><circle cx="962.7" cy="501.3" r="5.1"/><circle cx="945.1" cy="508.1" r="5.1"/><circle cx="950.9" cy="515.4" r="5.1"/><circle cx="961.7" cy="520.7" r="5.1"/><circle cx="946.3" cy="524.7" r="5.1"/><circle cx="967.2" cy="528.2" r="5.1"/><circle cx="956.9" cy="533.7" r="5.1"/><circle cx="956.9" cy="549.5" r="5.1"/><circle cx="956.9" cy="565.8" r="5.1"/></g>
<g fill="#0000ff"><circle cx="1009.1" cy="492.4" r="5.1"/><circle cx="1017.5" cy="495.8" r="5.1"/><circle cx="1025.6" cy="495.8" r="5.1"/><circle cx="1033.8" cy="492.4" r="5.1"/><circle cx="1010.3" cy="520.2" r="5.1"/><circle cx="1015.3" cy="524.7" r="5.1"/><circle cx="1021.8" cy="528.2" r="5.1"/><circle cx="1028.3" cy="523.7" r="5.1"/><circle cx="1032.8" cy="519.6" r="5.1"/><circle cx="1021.8" cy="521.2" r="5.1"/><circle cx="1015.6" cy="551.4" r="5.1"/><circle cx="1027.3" cy="551.4" r="5.1"/></g>
<g fill="#ff0000"><circle cx="1048.1" cy="497.6" r="5.1"/><circle cx="1059.9" cy="497.6" r="5.1"/><circle cx="1043.9" cy="510.1" r="5.1"/><circle cx="1064.4" cy="513.6" r="5.1"/><circle cx="1053.9" cy="520.7" r="5.1"/><circle cx="1043.7" cy="531.7" r="5.1"/><circle cx="1064.4" cy="531.7" r="5.1"/><circle cx="1054.1" cy="537.2" r="5.1"/><circle cx="1054.1" cy="558.7" r="5.1"/></g>
<g fill="#0000ff"><circle cx="1106.3" cy="489.7" r="5.1"/><circle cx="1114.7" cy="495.8" r="5.1"/><circle cx="1123.1" cy="491.9" r="5.1"/><circle cx="1131.2" cy="488.4" r="5.1"/><circle cx="1129.9" cy="506.1" r="5.1"/><circle cx="1107.6" cy="512.9" r="5.1"/><circle cx="1114.1" cy="516.6" r="5.1"/><circle cx="1118.8" cy="518.5" r="5.1"/><circle cx="1124.4" cy="515.3" r="5.1"/><circle cx="1124.9" cy="531.5" r="5.1"/><circle cx="1112.8" cy="536.1" r="5.1"/></g>
<g fill="#ff0000"><circle cx="1145.3" cy="533.7" r="5.1"/><circle cx="1157.2" cy="533.7" r="5.1"/><circle cx="1151.3" cy="552.9" r="5.1"/><circle cx="1157.2" cy="564.0" r="5.1"/><circle cx="1145.3" cy="571.4" r="5.1"/><circle cx="1151.3" cy="589.1" r="5.1"/><circle cx="1151.3" cy="628.6" r="5.1"/></g>
<g fill="#0000ff"><circle cx="1205.5" cy="495.3" r="5.1"/><circle cx="1210.7" cy="497.1" r="5.1"/><circle cx="1221.8" cy="496.2" r="5.1"/><circle cx="1227.0" cy="496.2" r="5.1"/><circle cx="1204.2" cy="502.7" r="5.1"/><circle cx="1209.8" cy="505.5" r="5.1"/><circle cx="1216.3" cy="507.4" r="5.1"/><circle cx="1222.8" cy="505.5" r="5.1"/><circle cx="1228.3" cy="502.7" r="5.1"/><circle cx="1216.3" cy="514.8" r="5.1"/><circle cx="1216.3" cy="533.9" r="5.1"/></g>
<g fill="#ff0000"><circle cx="1248.8" cy="583.5" r="5.1"/><circle cx="1248.8" cy="693.1" r="5.1"/></g>
<path d="M697.8 410V713.6H1282.2" fill="none" stroke="#000" stroke-width="3"/>
<line x1="691.8" y1="444.7" x2="697.8" y2="444.7" stroke="#000" stroke-width="3" />
<text x="692.0" y="453.7" font-size="25" text-anchor="end">40</text>
<line x1="691.8" y1="534.7" x2="697.8" y2="534.7" stroke="#000" stroke-width="3" />
<text x="692.0" y="543.7" font-size="25" text-anchor="end">35</text>
<line x1="691.8" y1="624.7" x2="697.8" y2="624.7" stroke="#000" stroke-width="3" />
<text x="692.0" y="633.7" font-size="25" text-anchor="end">30</text>
<line x1="691.8" y1="713.6" x2="697.8" y2="713.6" stroke="#000" stroke-width="3" />
<text x="692.0" y="722.6" font-size="25" text-anchor="end">25</text>
<line x1="746.3" y1="713.6" x2="746.3" y2="718.6" stroke="#000" stroke-width="3" />
<line x1="843.4" y1="713.6" x2="843.4" y2="718.6" stroke="#000" stroke-width="3" />
<line x1="940.3" y1="713.6" x2="940.3" y2="718.6" stroke="#000" stroke-width="3" />
<line x1="1037.8" y1="713.6" x2="1037.8" y2="718.6" stroke="#000" stroke-width="3" />
<line x1="1135.1" y1="713.6" x2="1135.1" y2="718.6" stroke="#000" stroke-width="3" />
<line x1="1232.4" y1="713.6" x2="1232.4" y2="718.6" stroke="#000" stroke-width="3" />
<text x="732.3" y="742.9" font-size="24.6" textLength="29.4" lengthAdjust="spacing">0d</text>
<text x="830.1" y="742.9" font-size="24.6" textLength="28.5" lengthAdjust="spacing">5d</text>
<text x="921.8" y="742.9" font-size="24.6" textLength="41.1" lengthAdjust="spacing">10d</text>
<text x="1018.9" y="742.9" font-size="24.6" textLength="41.5" lengthAdjust="spacing">14d</text>
<text x="1116.5" y="742.9" font-size="24.6" textLength="41.0" lengthAdjust="spacing">17d</text>
<text x="1212.7" y="742.9" font-size="24.6" textLength="41.9" lengthAdjust="spacing">20d</text>
<text x="729.3" y="677.8" font-size="21" text-anchor="middle">20</text>
<text x="765.4" y="677.8" font-size="21" text-anchor="middle">22</text>
<text x="829.5" y="677.8" font-size="21" text-anchor="middle">18</text>
<text x="863.1" y="677.8" font-size="21" text-anchor="middle">17</text>
<text x="923.2" y="677.8" font-size="21" text-anchor="middle">12</text>
<text x="955.4" y="677.8" font-size="21" text-anchor="middle">10</text>
<text x="1020.6" y="677.8" font-size="21" text-anchor="middle">12</text>
<text x="1053.0" y="677.8" font-size="21" text-anchor="middle">9</text>
<text x="1115.5" y="677.8" font-size="21" text-anchor="middle">11</text>
<text x="1152.0" y="677.8" font-size="21" text-anchor="middle">7</text>
<text x="1215.8" y="677.8" font-size="21" text-anchor="middle">10</text>
<text x="1257.8" y="677.8" font-size="21" text-anchor="middle">2</text>
<text x="650.2" y="681.4" font-size="26" textLength="259.6" lengthAdjust="spacingAndGlyphs" transform="rotate(-90 650.2 681.4)">Body temperature (ºC)</text>
<text x="1397.5" y="358.9" font-size="40" font-weight="bold">d</text>
<path d="M1539.9 346.8H1555.9M1540.5 366.8H1554.5M1541.7 346.8V366.8M1553 346.8V368" fill="none" stroke="#0000ff" stroke-width="2.5"/>
<path d="M1541.2 384.5H1556.4M1542 406.5H1555.5M1543.3 384.5V406.5M1554.5 384.5V408" fill="none" stroke="#ff0000" stroke-width="2.5"/>
<text x="1562.7" y="364.6" font-size="25.5" textLength="119.0" lengthAdjust="spacingAndGlyphs">WT (n = 5)</text>
<text x="1566.1" y="405.7" font-size="25.5" font-style="italic" textLength="66.6" lengthAdjust="spacingAndGlyphs">Gpr37</text>
<text x="1641.2" y="397.0" font-size="19" font-weight="bold" textLength="27.0" lengthAdjust="spacingAndGlyphs">−/−</text>
<text x="1674.8" y="405.7" font-size="25.5" textLength="72.7" lengthAdjust="spacingAndGlyphs">(n = 5)</text>
<text x="1852.3" y="444.2" font-size="25.5" textLength="142.3" lengthAdjust="spacingAndGlyphs"><tspan font-style="italic">P</tspan> = 0.000011</text>
<path d="M1902.3 545.6V463.8H1937.2V478.4" fill="none" stroke="#000" stroke-width="2.6"/>
<path d="M1565.3 717.4V697.4M1565.3 697.4H1607.7M1607.7 697.4V717.4" fill="none" stroke="#0000ff" stroke-width="2.6"/>
<path d="M1613.9 717.4V707.2M1613.9 707.2H1657.1M1657.1 707.2V717.4" fill="none" stroke="#ff0000" stroke-width="2.6"/>
<path d="M1716.9 717.4V705.4M1716.9 705.4H1759.0M1759.0 705.4V717.4" fill="none" stroke="#0000ff" stroke-width="2.6"/>
<path d="M1765.3 717.4V705.7M1765.3 705.7H1807.4M1807.4 705.7V717.4" fill="none" stroke="#ff0000" stroke-width="2.6"/>
<path d="M1867.4 717.4V706.0M1867.4 706.0H1909.9M1909.9 706.0V717.4" fill="none" stroke="#0000ff" stroke-width="2.6"/>
<path d="M1916.7 717.4V577.5M1914.7 577.5H1960.9M1958.9 577.5V717.4" fill="none" stroke="#ff0000" stroke-width="2.6"/>
<path d="M1575.3 688.7H1598.3M1575.3 703.2H1598.3M1586.8 688.7V703.2" fill="none" stroke="#0000ff" stroke-width="2.6"/>
<path d="M1727.2 701.7H1750.2M1727.2 708.0H1750.2M1738.7 701.7V708.0" fill="none" stroke="#0000ff" stroke-width="2.6"/>
<path d="M1925.7 539.2H1949.3M1925.7 612.8H1949.3M1937.5 539.2V612.8" fill="none" stroke="#ff0000" stroke-width="2.6"/>
<g fill="#0000ff"><circle cx="1586.1" cy="667.4" r="5"/><circle cx="1586.1" cy="694.7" r="5"/><circle cx="1586.1" cy="705.0" r="5"/><circle cx="1567.6" cy="707.2" r="5"/><circle cx="1604.7" cy="706.9" r="5"/></g>
<g fill="#ff0000"><circle cx="1616.8" cy="707.2" r="5"/><circle cx="1626.2" cy="704.7" r="5"/><circle cx="1635.3" cy="705.7" r="5"/><circle cx="1644.7" cy="704.2" r="5"/></g>
<g fill="#ff0000"><circle cx="1653.8" cy="710.7" r="4.2"/></g>
<g fill="#0000ff"><circle cx="1737.5" cy="693.4" r="5"/><circle cx="1719.2" cy="708.0" r="5"/><circle cx="1731.5" cy="704.2" r="5"/><circle cx="1743.5" cy="708.4" r="5"/><circle cx="1756.0" cy="707.5" r="5"/></g>
<g fill="#ff0000"><circle cx="1767.9" cy="705.4" r="5"/><circle cx="1777.4" cy="702.4" r="5"/><circle cx="1786.4" cy="703.9" r="5"/><circle cx="1795.4" cy="702.7" r="5"/><circle cx="1805.2" cy="706.5" r="5"/></g>
<g fill="#0000ff"><circle cx="1870.5" cy="701.3" r="5"/><circle cx="1870.5" cy="709.5" r="5"/><circle cx="1882.3" cy="702.5" r="5"/><circle cx="1894.5" cy="709.1" r="5"/><circle cx="1907.7" cy="707.6" r="5"/></g>
<g fill="#ff0000"><circle cx="1937.7" cy="510.9" r="5"/><circle cx="1937.7" cy="569.7" r="5"/><circle cx="1929.9" cy="661.7" r="5"/><circle cx="1945.9" cy="656.9" r="5"/></g>
<g fill="#ff0000"><circle cx="1937.7" cy="483.6" r="3.8"/></g>
<path d="M1534.5 416.7V717.4H1989.8" fill="none" stroke="#000" stroke-width="3"/>
<line x1="1528.5" y1="717.4" x2="1534.5" y2="717.4" stroke="#000" stroke-width="3" />
<text x="1528.5" y="726.4" font-size="25" text-anchor="end">0</text>
<line x1="1528.5" y1="657.3" x2="1534.5" y2="657.3" stroke="#000" stroke-width="3" />
<text x="1528.5" y="666.3" font-size="25" text-anchor="end" textLength="55.5" lengthAdjust="spacingAndGlyphs">1000</text>
<line x1="1528.5" y1="597.2" x2="1534.5" y2="597.2" stroke="#000" stroke-width="3" />
<text x="1528.5" y="606.2" font-size="25" text-anchor="end" textLength="55.5" lengthAdjust="spacingAndGlyphs">2000</text>
<line x1="1528.5" y1="537.1" x2="1534.5" y2="537.1" stroke="#000" stroke-width="3" />
<text x="1528.5" y="546.1" font-size="25" text-anchor="end" textLength="55.5" lengthAdjust="spacingAndGlyphs">3000</text>
<line x1="1528.5" y1="477.0" x2="1534.5" y2="477.0" stroke="#000" stroke-width="3" />
<text x="1528.5" y="486.0" font-size="25" text-anchor="end" textLength="55.5" lengthAdjust="spacingAndGlyphs">4000</text>
<line x1="1528.5" y1="416.9" x2="1534.5" y2="416.9" stroke="#000" stroke-width="3" />
<text x="1528.5" y="425.9" font-size="25" text-anchor="end" textLength="55.5" lengthAdjust="spacingAndGlyphs">5000</text>
<line x1="1610.8" y1="717.4" x2="1610.8" y2="722.4" stroke="#000" stroke-width="3" />
<line x1="1762.3" y1="717.4" x2="1762.3" y2="722.4" stroke="#000" stroke-width="3" />
<line x1="1912.9" y1="717.4" x2="1912.9" y2="722.4" stroke="#000" stroke-width="3" />
<text x="1593.2" y="747.8" font-size="25" textLength="33.6" lengthAdjust="spacingAndGlyphs">0 d</text>
<text x="1745.1" y="747.8" font-size="25" textLength="33.3" lengthAdjust="spacingAndGlyphs">5 d</text>
<text x="1890.8" y="747.8" font-size="25" textLength="46.3" lengthAdjust="spacingAndGlyphs">10 d</text>
<text x="1441.7" y="613.1" font-size="25" textLength="108.7" lengthAdjust="spacingAndGlyphs" transform="rotate(-90 1441.7 613.1)">IL-6 pg/ml</text>
<defs><filter id="b1" x="-20%" y="-20%" width="140%" height="140%"><feGaussianBlur stdDeviation="0.7"/></filter><filter id="b03" x="-2%" y="-2%" width="104%" height="104%"><feGaussianBlur stdDeviation="0.3"/></filter><filter id="b15" x="-20%" y="-20%" width="140%" height="140%"><feGaussianBlur stdDeviation="1.5"/></filter><filter id="b2" x="-20%" y="-20%" width="140%" height="140%"><feGaussianBlur stdDeviation="2"/></filter></defs>
<text x="-1.5" y="835.7" font-size="40" font-weight="bold">e</text>
<path transform="translate(92 870) scale(0.65)" d="M174 0.5h1M179 0.5h1M185 0.5h3M192 0.5h1M196 0.5h1M205 0.5h1M169 1.5h1M187 1.5h1M189 1.5h1M196 1.5h1M200 1.5h1M204 1.5h1M144 2.5h1M159 2.5h1M178 2.5h1M189 2.5h1M193 2.5h1M201 2.5h1M206 2.5h1M210 2.5h1M154 3.5h1M160 3.5h2M166 3.5h2M172 3.5h1M177 3.5h1M179 3.5h1M181 3.5h2M184 3.5h1M189 3.5h1M194 3.5h1M201 3.5h1M203 3.5h1M210 3.5h1M156 4.5h1M166 4.5h1M176 4.5h1M181 4.5h1M187 4.5h1M195 4.5h1M204 4.5h1M208 4.5h1M169 5.5h1M173 5.5h1M177 5.5h1M179 5.5h1M181 5.5h1M184 5.5h1M191 5.5h1M197 5.5h1M212 5.5h1M149 6.5h1M175 6.5h1M178 6.5h1M182 6.5h1M192 6.5h1M196 6.5h1M148 7.5h1M176 7.5h1M186 7.5h1M190 7.5h1M152 8.5h1M160 8.5h1M169 8.5h1M172 8.5h2M180 8.5h1M182 8.5h2M191 8.5h1M194 8.5h2M204 8.5h1M156 9.5h1M161 9.5h2M166 9.5h1M168 9.5h1M172 9.5h1M174 9.5h1M186 9.5h1M191 9.5h1M193 9.5h1M205 9.5h1M208 9.5h1M145 10.5h1M158 10.5h1M177 10.5h2M183 10.5h1M194 10.5h1M198 10.5h1M162 11.5h3M166 11.5h1M172 11.5h1M191 11.5h1M198 11.5h1M204 11.5h2M210 11.5h1M218 11.5h1M152 12.5h1M164 12.5h1M169 12.5h1M175 12.5h1M192 12.5h1M200 12.5h1M203 12.5h1M160 13.5h1M166 13.5h1M175 13.5h2M178 13.5h1M187 13.5h1M189 13.5h2M199 13.5h2M134 14.5h1M156 14.5h1M161 14.5h1M167 14.5h1M170 14.5h1M175 14.5h2M187 14.5h1M192 14.5h1M195 14.5h1M198 14.5h1M203 14.5h1M207 14.5h1M166 15.5h1M169 15.5h1M173 15.5h1M181 15.5h2M189 15.5h2M192 15.5h1M194 15.5h1M201 15.5h1M205 15.5h3M132 16.5h1M155 16.5h2M161 16.5h1M168 16.5h1M172 16.5h1M176 16.5h1M179 16.5h2M183 16.5h1M193 16.5h1M196 16.5h1M158 17.5h1M165 17.5h1M169 17.5h1M182 17.5h1M187 17.5h1M193 17.5h1M199 17.5h2M210 17.5h1M124 18.5h1M129 18.5h1M160 18.5h1M162 18.5h1M168 18.5h1M172 18.5h2M179 18.5h2M184 18.5h1M190 18.5h1M194 18.5h4M199 18.5h1M205 18.5h1M159 19.5h1M176 19.5h1M180 19.5h2M185 19.5h2M188 19.5h1M194 19.5h1M202 19.5h1M204 19.5h1M208 19.5h1M155 20.5h1M163 20.5h1M166 20.5h1M169 20.5h1M174 20.5h1M179 20.5h1M187 20.5h1M199 20.5h1M212 20.5h1M156 21.5h1M169 21.5h2M172 21.5h1M175 21.5h1M178 21.5h1M181 21.5h1M184 21.5h1M187 21.5h1M190 21.5h1M192 21.5h1M195 21.5h3M199 21.5h1M162 22.5h1M178 22.5h3M185 22.5h1M191 22.5h1M213 22.5h1M161 23.5h1M166 23.5h1M179 23.5h1M188 23.5h3M194 23.5h2M198 23.5h1M202 23.5h1M124 24.5h1M130 24.5h1M153 24.5h2M156 24.5h1M169 24.5h1M177 24.5h1M182 24.5h1M189 24.5h1M196 24.5h1M199 24.5h2M203 24.5h2M189 25.5h1M203 25.5h1M205 25.5h1M133 26.5h1M163 26.5h2M166 26.5h1M169 26.5h1M173 26.5h1M175 26.5h1M188 26.5h1M196 26.5h1M198 26.5h1M200 26.5h1M203 26.5h1M123 27.5h1M153 27.5h1M174 27.5h1M180 27.5h1M187 27.5h1M200 27.5h1M157 28.5h1M170 28.5h1M173 28.5h1M187 28.5h2M193 28.5h1M203 28.5h1M205 28.5h1M158 29.5h1M164 29.5h1M167 29.5h2M174 29.5h1M179 29.5h1M184 29.5h2M197 29.5h1M199 29.5h1M206 29.5h1M131 30.5h1M145 30.5h1M157 30.5h1M160 30.5h2M194 30.5h1M205 30.5h2M149 31.5h1M159 31.5h1M168 31.5h1M174 31.5h1M177 31.5h1M182 31.5h1M185 31.5h1M187 31.5h1M195 31.5h1M206 31.5h2M152 32.5h1M166 32.5h1M171 32.5h1M173 32.5h1M176 32.5h1M179 32.5h1M185 32.5h1M187 32.5h1M191 32.5h1M193 32.5h1M196 32.5h1M198 32.5h1M210 32.5h1M130 33.5h1M133 33.5h1M144 33.5h1M147 33.5h1M169 33.5h1M176 33.5h1M181 33.5h1M186 33.5h1M189 33.5h1M192 33.5h1M196 33.5h1M200 33.5h1M152 34.5h1M154 34.5h1M157 34.5h1M163 34.5h1M166 34.5h1M170 34.5h1M176 34.5h1M178 34.5h4M186 34.5h1M200 34.5h1M122 35.5h1M143 35.5h1M149 35.5h1M156 35.5h2M167 35.5h2M172 35.5h2M182 35.5h1M184 35.5h1M194 35.5h1M198 35.5h1M201 35.5h1M143 36.5h1M154 36.5h1M166 36.5h2M169 36.5h1M175 36.5h2M182 36.5h1M186 36.5h1M191 36.5h3M196 36.5h1M199 36.5h1M205 36.5h1M211 36.5h1M144 37.5h1M154 37.5h1M159 37.5h1M169 37.5h1M171 37.5h2M175 37.5h1M180 37.5h2M186 37.5h1M194 37.5h1M200 37.5h1M152 38.5h1M154 38.5h1M163 38.5h3M167 38.5h1M169 38.5h1M179 38.5h1M182 38.5h2M191 38.5h1M193 38.5h1M199 38.5h1M206 38.5h1M150 39.5h1M157 39.5h1M164 39.5h2M167 39.5h1M184 39.5h1M199 39.5h1M205 39.5h1M117 40.5h1M128 40.5h1M138 40.5h1M144 40.5h1M152 40.5h1M162 40.5h2M169 40.5h1M176 40.5h1M178 40.5h1M182 40.5h1M191 40.5h1M193 40.5h1M195 40.5h1M197 40.5h1M200 40.5h1M205 40.5h2M211 40.5h1M141 41.5h1M152 41.5h1M161 41.5h2M167 41.5h1M171 41.5h1M175 41.5h1M177 41.5h1M180 41.5h1M185 41.5h1M192 41.5h1M204 41.5h1M206 41.5h1M126 42.5h1M148 42.5h1M151 42.5h1M168 42.5h1M173 42.5h1M176 42.5h1M186 42.5h1M188 42.5h1M193 42.5h1M197 42.5h3M204 42.5h1M112 43.5h1M134 43.5h1M153 43.5h1M166 43.5h2M170 43.5h1M172 43.5h1M175 43.5h1M180 43.5h2M184 43.5h1M186 43.5h1M193 43.5h2M203 43.5h1M207 43.5h1M143 44.5h1M154 44.5h1M157 44.5h1M160 44.5h1M164 44.5h2M167 44.5h1M174 44.5h2M181 44.5h1M189 44.5h1M191 44.5h1M195 44.5h1M197 44.5h1M200 44.5h1M119 45.5h1M148 45.5h1M154 45.5h2M161 45.5h4M170 45.5h3M176 45.5h1M178 45.5h1M180 45.5h1M182 45.5h4M192 45.5h1M194 45.5h4M154 46.5h1M161 46.5h2M167 46.5h1M170 46.5h1M173 46.5h2M178 46.5h1M181 46.5h1M183 46.5h1M185 46.5h2M188 46.5h1M192 46.5h1M194 46.5h4M203 46.5h1M135 47.5h1M146 47.5h1M154 47.5h1M158 47.5h1M164 47.5h1M171 47.5h1M176 47.5h1M178 47.5h2M183 47.5h2M187 47.5h2M190 47.5h3M203 47.5h2M212 47.5h1M141 48.5h1M146 48.5h2M154 48.5h2M157 48.5h1M162 48.5h1M165 48.5h1M170 48.5h2M174 48.5h1M176 48.5h2M180 48.5h1M182 48.5h4M188 48.5h1M190 48.5h2M193 48.5h1M196 48.5h1M206 48.5h1M135 49.5h1M138 49.5h1M141 49.5h1M156 49.5h2M161 49.5h1M163 49.5h1M170 49.5h1M173 49.5h1M176 49.5h1M179 49.5h1M185 49.5h2M188 49.5h1M190 49.5h1M195 49.5h1M198 49.5h3M205 49.5h1M128 50.5h1M162 50.5h1M167 50.5h2M170 50.5h1M173 50.5h3M178 50.5h1M181 50.5h2M184 50.5h4M190 50.5h2M193 50.5h2M196 50.5h1M210 50.5h1M134 51.5h1M141 51.5h2M146 51.5h1M150 51.5h1M156 51.5h1M161 51.5h1M166 51.5h1M169 51.5h1M172 51.5h3M178 51.5h1M180 51.5h2M183 51.5h1M191 51.5h3M195 51.5h1M197 51.5h1M199 51.5h1M203 51.5h1M206 51.5h1M208 51.5h1M114 52.5h1M116 52.5h1M144 52.5h1M149 52.5h1M151 52.5h1M163 52.5h1M165 52.5h1M167 52.5h2M171 52.5h2M175 52.5h2M178 52.5h2M182 52.5h3M186 52.5h2M189 52.5h1M191 52.5h1M193 52.5h1M195 52.5h1M200 52.5h1M208 52.5h2M119 53.5h1M136 53.5h1M142 53.5h1M159 53.5h1M165 53.5h2M168 53.5h1M174 53.5h1M177 53.5h1M182 53.5h2M185 53.5h1M190 53.5h1M193 53.5h1M195 53.5h3M204 53.5h1M145 54.5h1M150 54.5h1M158 54.5h3M165 54.5h3M172 54.5h5M179 54.5h4M184 54.5h1M186 54.5h1M189 54.5h4M194 54.5h2M201 54.5h1M203 54.5h1M124 55.5h1M148 55.5h1M153 55.5h1M164 55.5h3M168 55.5h2M171 55.5h3M176 55.5h1M178 55.5h1M180 55.5h1M182 55.5h2M185 55.5h3M191 55.5h2M194 55.5h2M197 55.5h1M199 55.5h1M119 56.5h1M147 56.5h1M159 56.5h1M163 56.5h2M167 56.5h2M170 56.5h2M173 56.5h1M175 56.5h1M177 56.5h2M181 56.5h1M185 56.5h1M188 56.5h1M191 56.5h5M197 56.5h1M99 57.5h1M124 57.5h1M163 57.5h1M166 57.5h4M172 57.5h3M178 57.5h1M180 57.5h2M183 57.5h3M189 57.5h3M193 57.5h2M196 57.5h2M199 57.5h1M143 58.5h1M148 58.5h1M154 58.5h1M157 58.5h1M164 58.5h1M166 58.5h2M169 58.5h2M172 58.5h1M174 58.5h1M176 58.5h1M180 58.5h2M183 58.5h1M186 58.5h2M190 58.5h2M195 58.5h1M200 58.5h2M208 58.5h1M103 59.5h1M120 59.5h1M134 59.5h1M142 59.5h1M147 59.5h1M160 59.5h1M167 59.5h2M178 59.5h1M180 59.5h3M184 59.5h1M186 59.5h1M188 59.5h1M191 59.5h1M193 59.5h1M200 59.5h1M117 60.5h1M122 60.5h1M151 60.5h2M162 60.5h1M164 60.5h3M169 60.5h4M175 60.5h1M179 60.5h1M181 60.5h4M186 60.5h5M200 60.5h1M204 60.5h1M211 60.5h1M113 61.5h1M116 61.5h1M119 61.5h1M153 61.5h1M164 61.5h1M168 61.5h1M171 61.5h1M173 61.5h2M178 61.5h2M183 61.5h1M186 61.5h1M188 61.5h1M196 61.5h2M200 61.5h1M207 61.5h1M124 62.5h1M148 62.5h1M150 62.5h1M153 62.5h1M161 62.5h2M164 62.5h1M167 62.5h2M170 62.5h2M175 62.5h1M183 62.5h1M188 62.5h1M190 62.5h3M194 62.5h7M206 62.5h1M208 62.5h1M98 63.5h1M140 63.5h2M153 63.5h1M155 63.5h1M159 63.5h1M161 63.5h2M164 63.5h1M167 63.5h1M171 63.5h3M178 63.5h4M185 63.5h1M187 63.5h5M194 63.5h6M201 63.5h2M210 63.5h1M216 63.5h1M122 64.5h1M135 64.5h1M137 64.5h1M140 64.5h3M150 64.5h1M155 64.5h1M162 64.5h7M171 64.5h1M173 64.5h1M176 64.5h1M178 64.5h3M182 64.5h2M186 64.5h2M189 64.5h1M192 64.5h2M195 64.5h1M199 64.5h1M201 64.5h3M111 65.5h1M136 65.5h1M147 65.5h1M152 65.5h1M156 65.5h1M159 65.5h3M165 65.5h1M170 65.5h5M177 65.5h1M179 65.5h2M186 65.5h2M189 65.5h1M191 65.5h2M194 65.5h2M199 65.5h2M202 65.5h1M103 66.5h1M113 66.5h1M127 66.5h1M134 66.5h1M138 66.5h3M147 66.5h1M155 66.5h2M158 66.5h1M166 66.5h1M168 66.5h2M172 66.5h1M174 66.5h1M176 66.5h2M181 66.5h1M183 66.5h1M185 66.5h1M188 66.5h1M190 66.5h3M195 66.5h1M197 66.5h1M120 67.5h1M134 67.5h1M152 67.5h1M162 67.5h2M166 67.5h1M170 67.5h1M172 67.5h10M185 67.5h1M187 67.5h6M195 67.5h1M206 67.5h2M211 67.5h1M141 68.5h1M144 68.5h1M147 68.5h1M149 68.5h1M157 68.5h1M159 68.5h2M162 68.5h1M164 68.5h2M167 68.5h2M170 68.5h1M172 68.5h1M175 68.5h1M178 68.5h3M182 68.5h2M187 68.5h1M189 68.5h3M196 68.5h1M198 68.5h1M200 68.5h1M202 68.5h1M94 69.5h1M102 69.5h1M124 69.5h1M150 69.5h1M157 69.5h2M160 69.5h2M163 69.5h1M166 69.5h2M172 69.5h3M176 69.5h1M178 69.5h1M186 69.5h2M190 69.5h1M193 69.5h2M197 69.5h1M202 69.5h1M97 70.5h1M139 70.5h1M144 70.5h1M157 70.5h2M160 70.5h3M165 70.5h5M172 70.5h1M174 70.5h2M179 70.5h1M185 70.5h1M188 70.5h5M197 70.5h1M200 70.5h3M132 71.5h1M146 71.5h1M155 71.5h1M160 71.5h1M164 71.5h3M168 71.5h3M172 71.5h1M176 71.5h2M180 71.5h4M185 71.5h2M188 71.5h4M193 71.5h1M195 71.5h2M198 71.5h1M200 71.5h1M203 71.5h1M88 72.5h1M110 72.5h1M122 72.5h1M140 72.5h1M150 72.5h1M152 72.5h1M157 72.5h4M163 72.5h2M167 72.5h1M171 72.5h1M176 72.5h2M181 72.5h2M184 72.5h2M187 72.5h1M189 72.5h3M193 72.5h1M196 72.5h2M199 72.5h2M202 72.5h1M104 73.5h1M118 73.5h1M125 73.5h1M132 73.5h1M137 73.5h1M141 73.5h2M151 73.5h2M154 73.5h3M158 73.5h1M162 73.5h2M165 73.5h1M167 73.5h5M174 73.5h1M176 73.5h2M180 73.5h1M183 73.5h2M186 73.5h1M190 73.5h2M194 73.5h2M197 73.5h2M200 73.5h1M83 74.5h1M101 74.5h1M121 74.5h1M128 74.5h1M130 74.5h1M135 74.5h1M140 74.5h1M143 74.5h1M145 74.5h1M154 74.5h1M157 74.5h4M163 74.5h4M168 74.5h1M170 74.5h3M174 74.5h4M181 74.5h4M186 74.5h1M188 74.5h3M204 74.5h1M92 75.5h1M97 75.5h1M126 75.5h1M142 75.5h1M144 75.5h2M153 75.5h1M155 75.5h1M158 75.5h1M161 75.5h1M163 75.5h1M165 75.5h3M174 75.5h1M182 75.5h5M191 75.5h1M195 75.5h1M197 75.5h1M200 75.5h1M96 76.5h1M126 76.5h1M138 76.5h1M145 76.5h2M148 76.5h2M151 76.5h3M161 76.5h4M169 76.5h2M173 76.5h1M176 76.5h2M184 76.5h6M193 76.5h1M195 76.5h1M197 76.5h1M200 76.5h1M204 76.5h1M74 77.5h1M96 77.5h1M99 77.5h1M103 77.5h1M116 77.5h1M131 77.5h1M139 77.5h2M142 77.5h1M147 77.5h1M149 77.5h1M157 77.5h1M161 77.5h5M168 77.5h1M171 77.5h1M173 77.5h3M177 77.5h2M180 77.5h2M187 77.5h3M194 77.5h2M200 77.5h2M122 78.5h1M137 78.5h1M149 78.5h1M151 78.5h2M154 78.5h1M156 78.5h1M159 78.5h1M163 78.5h1M166 78.5h1M170 78.5h1M175 78.5h1M179 78.5h1M181 78.5h1M183 78.5h2M186 78.5h1M191 78.5h1M193 78.5h2M198 78.5h1M210 78.5h1M88 79.5h1M91 79.5h1M96 79.5h1M127 79.5h1M131 79.5h1M145 79.5h1M149 79.5h1M153 79.5h2M156 79.5h1M161 79.5h1M163 79.5h3M168 79.5h3M174 79.5h1M176 79.5h1M179 79.5h3M183 79.5h1M186 79.5h2M189 79.5h3M197 79.5h4M202 79.5h1M204 79.5h1M88 80.5h1M135 80.5h1M137 80.5h1M139 80.5h2M143 80.5h1M148 80.5h1M153 80.5h6M162 80.5h2M167 80.5h2M170 80.5h1M172 80.5h3M176 80.5h1M180 80.5h4M187 80.5h2M191 80.5h4M199 80.5h1M87 81.5h1M97 81.5h1M100 81.5h1M129 81.5h1M131 81.5h1M150 81.5h1M153 81.5h1M157 81.5h1M159 81.5h1M163 81.5h1M165 81.5h1M167 81.5h3M171 81.5h1M174 81.5h2M179 81.5h2M182 81.5h2M189 81.5h2M196 81.5h1M199 81.5h2M202 81.5h1M91 82.5h1M127 82.5h1M141 82.5h1M145 82.5h2M150 82.5h1M154 82.5h1M160 82.5h4M165 82.5h1M167 82.5h4M172 82.5h1M176 82.5h1M180 82.5h1M182 82.5h1M184 82.5h1M186 82.5h2M189 82.5h1M191 82.5h1M193 82.5h1M196 82.5h2M205 82.5h2M81 83.5h1M103 83.5h1M107 83.5h1M111 83.5h1M133 83.5h2M139 83.5h1M142 83.5h1M145 83.5h1M147 83.5h1M154 83.5h3M158 83.5h3M163 83.5h2M166 83.5h2M171 83.5h2M174 83.5h3M185 83.5h1M187 83.5h2M190 83.5h2M196 83.5h1M198 83.5h1M94 84.5h1M97 84.5h1M113 84.5h1M140 84.5h1M142 84.5h1M147 84.5h1M149 84.5h1M153 84.5h6M161 84.5h4M167 84.5h2M170 84.5h2M173 84.5h2M177 84.5h3M181 84.5h2M185 84.5h2M188 84.5h4M97 85.5h1M119 85.5h2M122 85.5h1M125 85.5h1M139 85.5h1M141 85.5h1M148 85.5h2M151 85.5h1M153 85.5h3M158 85.5h1M162 85.5h2M167 85.5h2M171 85.5h1M174 85.5h1M176 85.5h2M179 85.5h1M181 85.5h3M185 85.5h2M188 85.5h2M194 85.5h3M199 85.5h1M112 86.5h2M122 86.5h1M128 86.5h1M132 86.5h4M147 86.5h2M154 86.5h3M158 86.5h1M160 86.5h1M163 86.5h1M166 86.5h8M175 86.5h1M177 86.5h1M181 86.5h3M186 86.5h1M188 86.5h4M194 86.5h3M203 86.5h1M101 87.5h1M118 87.5h1M129 87.5h1M135 87.5h1M142 87.5h1M145 87.5h1M149 87.5h1M152 87.5h2M156 87.5h1M158 87.5h1M161 87.5h3M165 87.5h1M169 87.5h1M171 87.5h1M173 87.5h2M177 87.5h1M179 87.5h9M189 87.5h3M193 87.5h1M195 87.5h1M197 87.5h1M200 87.5h2M72 88.5h1M95 88.5h1M119 88.5h3M129 88.5h1M132 88.5h1M137 88.5h3M146 88.5h2M149 88.5h1M152 88.5h1M154 88.5h2M158 88.5h2M162 88.5h4M169 88.5h5M175 88.5h4M181 88.5h13M196 88.5h3M117 89.5h1M125 89.5h1M129 89.5h1M131 89.5h1M134 89.5h1M137 89.5h1M139 89.5h3M146 89.5h1M148 89.5h1M151 89.5h5M157 89.5h4M162 89.5h1M167 89.5h1M169 89.5h5M175 89.5h2M178 89.5h9M188 89.5h5M194 89.5h1M199 89.5h1M202 89.5h1M205 89.5h1M64 90.5h1M89 90.5h1M113 90.5h1M125 90.5h1M127 90.5h1M136 90.5h1M143 90.5h2M146 90.5h1M152 90.5h2M155 90.5h1M159 90.5h2M162 90.5h1M165 90.5h2M168 90.5h2M171 90.5h6M178 90.5h4M183 90.5h5M189 90.5h3M194 90.5h2M197 90.5h1M204 90.5h2M207 90.5h1M63 91.5h1M113 91.5h1M123 91.5h1M126 91.5h2M133 91.5h1M140 91.5h1M142 91.5h1M149 91.5h1M151 91.5h1M154 91.5h1M156 91.5h2M160 91.5h1M168 91.5h24M194 91.5h1M197 91.5h1M202 91.5h1M67 92.5h1M100 92.5h1M118 92.5h1M121 92.5h1M125 92.5h1M132 92.5h1M135 92.5h1M143 92.5h1M146 92.5h1M148 92.5h1M150 92.5h1M153 92.5h2M156 92.5h1M164 92.5h1M166 92.5h1M168 92.5h1M171 92.5h4M176 92.5h10M187 92.5h7M196 92.5h1M78 93.5h1M100 93.5h1M105 93.5h2M134 93.5h1M141 93.5h1M149 93.5h1M152 93.5h7M161 93.5h2M166 93.5h3M171 93.5h22M194 93.5h1M201 93.5h1M205 93.5h1M78 94.5h1M84 94.5h1M93 94.5h1M104 94.5h1M117 94.5h1M127 94.5h1M132 94.5h2M141 94.5h1M146 94.5h1M150 94.5h2M153 94.5h4M162 94.5h1M166 94.5h1M168 94.5h7M176 94.5h9M186 94.5h9M196 94.5h1M198 94.5h2M201 94.5h1M205 94.5h2M57 95.5h1M60 95.5h1M71 95.5h1M96 95.5h1M100 95.5h1M114 95.5h1M117 95.5h1M132 95.5h1M138 95.5h1M142 95.5h1M146 95.5h5M156 95.5h2M159 95.5h1M162 95.5h5M168 95.5h1M170 95.5h2M173 95.5h2M177 95.5h17M195 95.5h2M199 95.5h1M78 96.5h1M114 96.5h1M119 96.5h1M126 96.5h1M144 96.5h1M146 96.5h2M150 96.5h1M155 96.5h4M161 96.5h2M165 96.5h11M177 96.5h13M191 96.5h7M202 96.5h1M103 97.5h1M113 97.5h1M126 97.5h1M130 97.5h2M138 97.5h1M140 97.5h1M142 97.5h1M151 97.5h1M153 97.5h1M158 97.5h3M162 97.5h1M164 97.5h2M167 97.5h3M171 97.5h4M176 97.5h6M183 97.5h12M196 97.5h1M201 97.5h1M211 97.5h1M83 98.5h1M98 98.5h1M109 98.5h2M113 98.5h1M119 98.5h1M126 98.5h2M138 98.5h2M142 98.5h2M147 98.5h3M152 98.5h1M159 98.5h1M164 98.5h2M167 98.5h10M179 98.5h7M187 98.5h6M194 98.5h2M197 98.5h1M201 98.5h1M40 99.5h1M81 99.5h1M114 99.5h2M121 99.5h1M126 99.5h1M130 99.5h1M134 99.5h1M143 99.5h3M147 99.5h1M149 99.5h2M154 99.5h2M158 99.5h1M160 99.5h2M163 99.5h2M166 99.5h8M175 99.5h19M195 99.5h2M198 99.5h1M201 99.5h1M69 100.5h1M83 100.5h1M114 100.5h1M118 100.5h1M121 100.5h1M125 100.5h1M133 100.5h1M144 100.5h3M148 100.5h1M150 100.5h1M152 100.5h1M155 100.5h2M159 100.5h1M161 100.5h1M163 100.5h1M165 100.5h7M173 100.5h19M194 100.5h5M204 100.5h1M71 101.5h1M75 101.5h1M104 101.5h2M116 101.5h1M118 101.5h1M144 101.5h2M147 101.5h1M149 101.5h1M155 101.5h2M160 101.5h1M162 101.5h15M178 101.5h6M186 101.5h3M190 101.5h3M194 101.5h1M196 101.5h1M199 101.5h1M79 102.5h1M85 102.5h1M110 102.5h1M112 102.5h1M123 102.5h1M126 102.5h2M129 102.5h1M139 102.5h2M143 102.5h3M147 102.5h2M151 102.5h2M154 102.5h3M162 102.5h1M164 102.5h1M166 102.5h10M177 102.5h3M181 102.5h9M191 102.5h4M196 102.5h1M199 102.5h1M202 102.5h2M205 102.5h1M53 103.5h1M109 103.5h1M111 103.5h2M119 103.5h1M126 103.5h1M132 103.5h1M137 103.5h2M140 103.5h1M144 103.5h1M146 103.5h2M150 103.5h1M152 103.5h1M154 103.5h1M157 103.5h5M163 103.5h6M170 103.5h1M172 103.5h4M177 103.5h7M185 103.5h1M187 103.5h1M189 103.5h3M194 103.5h1M199 103.5h1M202 103.5h1M113 104.5h1M116 104.5h1M119 104.5h1M124 104.5h1M126 104.5h1M129 104.5h1M136 104.5h6M147 104.5h2M150 104.5h8M160 104.5h2M163 104.5h1M165 104.5h16M183 104.5h10M194 104.5h1M90 105.5h1M96 105.5h1M120 105.5h1M124 105.5h1M133 105.5h1M137 105.5h1M140 105.5h1M142 105.5h4M148 105.5h1M150 105.5h2M155 105.5h3M159 105.5h4M164 105.5h1M167 105.5h16M184 105.5h2M187 105.5h9M197 105.5h1M199 105.5h1M201 105.5h1M97 106.5h1M116 106.5h1M121 106.5h1M123 106.5h1M126 106.5h1M139 106.5h3M144 106.5h2M148 106.5h1M152 106.5h2M155 106.5h1M157 106.5h1M162 106.5h29M192 106.5h2M195 106.5h2M198 106.5h1M48 107.5h1M66 107.5h2M83 107.5h1M113 107.5h1M124 107.5h1M126 107.5h1M132 107.5h1M134 107.5h1M137 107.5h2M141 107.5h1M143 107.5h1M145 107.5h1M148 107.5h2M151 107.5h2M156 107.5h1M158 107.5h6M165 107.5h1M167 107.5h16M184 107.5h1M186 107.5h2M189 107.5h4M195 107.5h1M201 107.5h1M203 107.5h1M49 108.5h1M62 108.5h1M88 108.5h1M115 108.5h1M117 108.5h2M129 108.5h1M137 108.5h2M141 108.5h1M143 108.5h2M146 108.5h2M149 108.5h1M152 108.5h2M155 108.5h1M158 108.5h1M160 108.5h18M179 108.5h5M186 108.5h2M189 108.5h5M195 108.5h4M105 109.5h1M108 109.5h1M113 109.5h1M117 109.5h1M130 109.5h2M134 109.5h1M136 109.5h1M139 109.5h1M141 109.5h1M143 109.5h1M145 109.5h2M148 109.5h1M153 109.5h3M160 109.5h2M163 109.5h7M171 109.5h10M182 109.5h13M196 109.5h2M199 109.5h1M203 109.5h1M103 110.5h1M109 110.5h1M112 110.5h1M118 110.5h1M127 110.5h1M138 110.5h2M141 110.5h1M143 110.5h1M145 110.5h1M148 110.5h2M152 110.5h1M156 110.5h1M158 110.5h3M162 110.5h5M168 110.5h2M171 110.5h6M178 110.5h14M193 110.5h1M195 110.5h1M197 110.5h2M37 111.5h1M53 111.5h1M60 111.5h1M80 111.5h1M89 111.5h1M102 111.5h1M106 111.5h1M119 111.5h1M123 111.5h1M127 111.5h1M130 111.5h1M134 111.5h1M137 111.5h1M141 111.5h2M144 111.5h1M147 111.5h1M151 111.5h1M153 111.5h2M157 111.5h1M159 111.5h11M171 111.5h21M193 111.5h1M195 111.5h1M208 111.5h1M60 112.5h1M64 112.5h1M80 112.5h1M82 112.5h1M101 112.5h1M104 112.5h1M107 112.5h2M110 112.5h1M113 112.5h1M119 112.5h2M134 112.5h2M137 112.5h1M140 112.5h2M146 112.5h2M153 112.5h2M156 112.5h4M161 112.5h2M164 112.5h3M168 112.5h3M173 112.5h12M187 112.5h7M196 112.5h3M203 112.5h1M61 113.5h1M63 113.5h1M75 113.5h1M90 113.5h1M116 113.5h1M122 113.5h1M125 113.5h1M131 113.5h1M142 113.5h1M145 113.5h1M148 113.5h2M151 113.5h2M155 113.5h33M189 113.5h2M192 113.5h5M198 113.5h2M47 114.5h2M95 114.5h1M109 114.5h1M113 114.5h1M115 114.5h1M118 114.5h1M126 114.5h1M128 114.5h1M139 114.5h1M142 114.5h2M146 114.5h1M148 114.5h1M150 114.5h1M152 114.5h1M154 114.5h1M157 114.5h2M160 114.5h15M176 114.5h1M178 114.5h1M181 114.5h4M186 114.5h2M189 114.5h5M195 114.5h1M197 114.5h1M37 115.5h1M58 115.5h1M60 115.5h1M76 115.5h1M112 115.5h1M116 115.5h1M118 115.5h2M122 115.5h1M124 115.5h1M126 115.5h1M130 115.5h2M133 115.5h3M137 115.5h3M141 115.5h5M149 115.5h1M152 115.5h3M157 115.5h2M160 115.5h7M168 115.5h7M176 115.5h10M187 115.5h1M189 115.5h10M45 116.5h1M95 116.5h1M103 116.5h1M112 116.5h1M126 116.5h1M131 116.5h2M134 116.5h1M137 116.5h2M141 116.5h5M147 116.5h3M151 116.5h5M157 116.5h15M173 116.5h10M184 116.5h1M186 116.5h12M27 117.5h1M54 117.5h1M73 117.5h2M99 117.5h1M106 117.5h1M109 117.5h1M112 117.5h2M115 117.5h1M122 117.5h1M124 117.5h1M128 117.5h1M130 117.5h2M133 117.5h1M135 117.5h2M139 117.5h1M141 117.5h2M144 117.5h1M150 117.5h2M153 117.5h1M155 117.5h4M161 117.5h14M176 117.5h3M180 117.5h9M190 117.5h3M194 117.5h2M197 117.5h3M64 118.5h1M77 118.5h1M87 118.5h1M98 118.5h1M105 118.5h1M123 118.5h1M125 118.5h1M127 118.5h2M131 118.5h1M133 118.5h3M138 118.5h5M144 118.5h2M147 118.5h1M149 118.5h1M153 118.5h9M163 118.5h5M169 118.5h2M173 118.5h6M180 118.5h3M184 118.5h11M197 118.5h1M201 118.5h1M50 119.5h1M98 119.5h1M102 119.5h1M110 119.5h1M112 119.5h1M114 119.5h1M116 119.5h1M128 119.5h1M135 119.5h1M137 119.5h4M144 119.5h1M146 119.5h1M150 119.5h2M153 119.5h28M182 119.5h10M193 119.5h3M198 119.5h1M204 119.5h1M44 120.5h1M49 120.5h1M78 120.5h1M89 120.5h1M104 120.5h1M109 120.5h1M111 120.5h1M115 120.5h1M118 120.5h1M121 120.5h1M128 120.5h1M133 120.5h3M137 120.5h1M139 120.5h6M147 120.5h34M182 120.5h14M198 120.5h2M202 120.5h1M40 121.5h1M97 121.5h1M107 121.5h2M111 121.5h1M118 121.5h1M120 121.5h1M126 121.5h4M134 121.5h5M141 121.5h2M147 121.5h50M198 121.5h1M205 121.5h1M29 122.5h1M37 122.5h1M95 122.5h1M98 122.5h1M110 122.5h1M117 122.5h1M122 122.5h1M130 122.5h2M139 122.5h1M142 122.5h1M145 122.5h1M148 122.5h2M153 122.5h8M162 122.5h34M198 122.5h1M202 122.5h1M39 123.5h1M53 123.5h1M96 123.5h1M105 123.5h1M107 123.5h1M116 123.5h1M123 123.5h2M128 123.5h1M133 123.5h2M136 123.5h2M140 123.5h2M144 123.5h4M149 123.5h43M193 123.5h4M200 123.5h1M203 123.5h1M53 124.5h1M85 124.5h1M114 124.5h1M117 124.5h1M119 124.5h1M127 124.5h1M129 124.5h1M131 124.5h5M138 124.5h3M146 124.5h3M151 124.5h3M155 124.5h36M194 124.5h1M197 124.5h1M83 125.5h1M87 125.5h1M89 125.5h1M93 125.5h1M103 125.5h2M108 125.5h1M112 125.5h1M118 125.5h1M123 125.5h1M126 125.5h2M130 125.5h1M132 125.5h1M135 125.5h3M142 125.5h1M145 125.5h1M147 125.5h8M156 125.5h2M159 125.5h35M195 125.5h2M200 125.5h1M203 125.5h2M20 126.5h1M38 126.5h1M53 126.5h1M55 126.5h1M72 126.5h1M87 126.5h1M92 126.5h2M99 126.5h1M105 126.5h2M110 126.5h1M119 126.5h1M123 126.5h3M132 126.5h4M137 126.5h3M142 126.5h1M145 126.5h1M148 126.5h44M193 126.5h5M201 126.5h1M203 126.5h1M206 126.5h1M210 126.5h1M4 127.5h1M19 127.5h1M73 127.5h1M80 127.5h1M86 127.5h1M90 127.5h1M100 127.5h1M103 127.5h1M105 127.5h2M108 127.5h1M119 127.5h1M122 127.5h1M124 127.5h4M130 127.5h1M134 127.5h1M137 127.5h7M145 127.5h1M150 127.5h6M157 127.5h1M159 127.5h37M204 127.5h1M21 128.5h1M31 128.5h1M40 128.5h1M89 128.5h1M94 128.5h1M99 128.5h1M113 128.5h1M116 128.5h2M124 128.5h1M127 128.5h2M130 128.5h1M133 128.5h2M136 128.5h1M138 128.5h2M141 128.5h3M146 128.5h2M149 128.5h43M193 128.5h1M195 128.5h1M202 128.5h1M10 129.5h1M37 129.5h1M45 129.5h1M60 129.5h1M78 129.5h1M95 129.5h1M99 129.5h1M101 129.5h1M103 129.5h2M111 129.5h2M117 129.5h1M121 129.5h1M124 129.5h1M127 129.5h2M133 129.5h1M136 129.5h1M139 129.5h12M152 129.5h39M192 129.5h3M196 129.5h2M12 130.5h1M25 130.5h1M30 130.5h1M74 130.5h1M79 130.5h1M83 130.5h1M104 130.5h1M114 130.5h1M116 130.5h1M121 130.5h5M127 130.5h1M130 130.5h2M133 130.5h1M138 130.5h5M146 130.5h3M150 130.5h2M153 130.5h38M192 130.5h3M197 130.5h2M202 130.5h2M47 131.5h1M61 131.5h1M65 131.5h1M80 131.5h1M99 131.5h1M101 131.5h3M106 131.5h1M110 131.5h1M114 131.5h1M116 131.5h1M126 131.5h1M131 131.5h3M136 131.5h1M138 131.5h2M142 131.5h4M148 131.5h5M154 131.5h41M196 131.5h2M23 132.5h1M41 132.5h1M81 132.5h1M83 132.5h1M96 132.5h1M101 132.5h3M106 132.5h2M109 132.5h1M112 132.5h1M120 132.5h1M122 132.5h1M125 132.5h1M128 132.5h2M138 132.5h3M144 132.5h50M195 132.5h1M197 132.5h2M203 132.5h1M6 133.5h1M48 133.5h1M58 133.5h1M63 133.5h1M77 133.5h1M88 133.5h1M90 133.5h1M105 133.5h1M111 133.5h1M117 133.5h2M121 133.5h1M123 133.5h1M126 133.5h3M131 133.5h2M134 133.5h2M137 133.5h2M140 133.5h9M150 133.5h44M195 133.5h1M44 134.5h1M79 134.5h1M82 134.5h2M87 134.5h1M89 134.5h1M96 134.5h1M99 134.5h1M107 134.5h1M113 134.5h1M121 134.5h2M124 134.5h4M129 134.5h1M134 134.5h3M141 134.5h2M144 134.5h5M150 134.5h2M153 134.5h42M83 135.5h1M97 135.5h4M115 135.5h1M117 135.5h2M121 135.5h1M124 135.5h2M127 135.5h1M132 135.5h5M140 135.5h11M152 135.5h40M193 135.5h2M196 135.5h1M199 135.5h3M36 136.5h1M52 136.5h1M58 136.5h1M64 136.5h1M71 136.5h1M77 136.5h2M85 136.5h4M93 136.5h3M105 136.5h1M107 136.5h2M111 136.5h2M116 136.5h2M119 136.5h9M133 136.5h2M136 136.5h4M142 136.5h4M147 136.5h47M195 136.5h1M200 136.5h1M45 137.5h1M51 137.5h1M73 137.5h1M76 137.5h2M91 137.5h1M99 137.5h2M102 137.5h2M106 137.5h2M112 137.5h1M114 137.5h1M117 137.5h1M120 137.5h1M123 137.5h3M127 137.5h1M130 137.5h1M132 137.5h4M137 137.5h2M140 137.5h1M143 137.5h53M197 137.5h1M200 137.5h1M204 137.5h1M20 138.5h1M44 138.5h1M56 138.5h1M60 138.5h1M76 138.5h1M87 138.5h1M89 138.5h1M91 138.5h1M100 138.5h1M108 138.5h1M114 138.5h1M120 138.5h1M122 138.5h3M126 138.5h1M128 138.5h1M131 138.5h1M133 138.5h1M135 138.5h4M140 138.5h53M196 138.5h2M43 139.5h1M79 139.5h1M83 139.5h1M91 139.5h1M98 139.5h1M105 139.5h2M110 139.5h1M114 139.5h2M119 139.5h2M122 139.5h2M127 139.5h6M134 139.5h2M137 139.5h6M144 139.5h5M150 139.5h46M28 140.5h1M31 140.5h1M74 140.5h3M82 140.5h1M84 140.5h1M91 140.5h1M110 140.5h1M113 140.5h1M115 140.5h1M117 140.5h2M124 140.5h2M127 140.5h2M132 140.5h4M137 140.5h3M141 140.5h1M144 140.5h48M193 140.5h1M195 140.5h1M0 141.5h1M43 141.5h1M65 141.5h1M71 141.5h1M88 141.5h2M93 141.5h2M97 141.5h1M105 141.5h1M107 141.5h3M118 141.5h2M121 141.5h4M126 141.5h2M130 141.5h2M133 141.5h1M137 141.5h1M140 141.5h8M149 141.5h2M152 141.5h44M197 141.5h1M199 141.5h1M58 142.5h1M70 142.5h2M75 142.5h1M83 142.5h2M95 142.5h2M112 142.5h1M114 142.5h1M117 142.5h1M120 142.5h3M124 142.5h2M127 142.5h1M130 142.5h1M132 142.5h1M135 142.5h3M139 142.5h54M195 142.5h1M23 143.5h1M43 143.5h1M47 143.5h1M72 143.5h2M79 143.5h1M83 143.5h1M87 143.5h3M91 143.5h1M95 143.5h1M99 143.5h1M111 143.5h1M113 143.5h3M117 143.5h3M123 143.5h1M126 143.5h3M130 143.5h3M135 143.5h1M138 143.5h7M146 143.5h47M194 143.5h2M202 143.5h1M16 144.5h1M75 144.5h2M79 144.5h1M83 144.5h2M86 144.5h3M99 144.5h1M111 144.5h1M114 144.5h1M117 144.5h1M123 144.5h3M127 144.5h1M129 144.5h1M131 144.5h1M133 144.5h1M135 144.5h60M197 144.5h2M201 144.5h1M209 144.5h1M11 145.5h1M14 145.5h1M18 145.5h1M53 145.5h1M80 145.5h1M84 145.5h1M95 145.5h2M102 145.5h1M109 145.5h1M114 145.5h1M120 145.5h3M124 145.5h2M127 145.5h1M129 145.5h1M132 145.5h4M138 145.5h5M144 145.5h49M194 145.5h2M2 146.5h1M33 146.5h1M37 146.5h1M68 146.5h1M70 146.5h1M81 146.5h1M86 146.5h1M88 146.5h1M95 146.5h1M98 146.5h1M100 146.5h2M107 146.5h1M110 146.5h1M118 146.5h2M121 146.5h1M123 146.5h1M126 146.5h3M131 146.5h1M133 146.5h1M135 146.5h57M193 146.5h2M196 146.5h1M208 146.5h1M24 147.5h1M31 147.5h1M43 147.5h1M59 147.5h1M68 147.5h1M72 147.5h1M76 147.5h2M83 147.5h1M89 147.5h1M93 147.5h1M100 147.5h1M106 147.5h1M109 147.5h1M111 147.5h3M116 147.5h6M124 147.5h2M129 147.5h1M131 147.5h1M134 147.5h5M140 147.5h53M194 147.5h1M10 148.5h1M16 148.5h1M44 148.5h1M67 148.5h1M73 148.5h1M76 148.5h1M78 148.5h1M83 148.5h1M85 148.5h2M104 148.5h1M107 148.5h1M110 148.5h2M113 148.5h2M116 148.5h2M119 148.5h1M122 148.5h1M127 148.5h2M130 148.5h2M133 148.5h3M137 148.5h57M201 148.5h1M12 149.5h1M46 149.5h1M61 149.5h1M69 149.5h2M72 149.5h1M76 149.5h3M80 149.5h3M84 149.5h2M100 149.5h1M109 149.5h1M111 149.5h3M116 149.5h1M118 149.5h6M126 149.5h2M129 149.5h6M136 149.5h53M190 149.5h3M194 149.5h1M6 150.5h1M30 150.5h1M58 150.5h1M66 150.5h1M73 150.5h1M77 150.5h1M80 150.5h1M92 150.5h1M94 150.5h1M97 150.5h2M104 150.5h1M106 150.5h1M108 150.5h1M118 150.5h1M120 150.5h3M126 150.5h2M129 150.5h1M131 150.5h2M134 150.5h1M136 150.5h55M193 150.5h1M195 150.5h1M1 151.5h1M8 151.5h1M28 151.5h1M72 151.5h1M77 151.5h1M85 151.5h1M91 151.5h1M102 151.5h1M106 151.5h6M115 151.5h1M117 151.5h3M123 151.5h1M126 151.5h1M128 151.5h1M130 151.5h63M194 151.5h1M196 151.5h1M199 151.5h1M1 152.5h2M53 152.5h1M67 152.5h1M77 152.5h1M82 152.5h1M93 152.5h2M98 152.5h1M100 152.5h1M105 152.5h1M108 152.5h8M124 152.5h1M126 152.5h2M132 152.5h62M196 152.5h1M199 152.5h1M1 153.5h1M8 153.5h1M28 153.5h1M51 153.5h1M54 153.5h1M57 153.5h1M60 153.5h1M64 153.5h1M68 153.5h1M80 153.5h1M88 153.5h1M90 153.5h1M92 153.5h1M94 153.5h1M102 153.5h1M104 153.5h1M107 153.5h1M109 153.5h1M121 153.5h1M125 153.5h1M127 153.5h1M130 153.5h62M193 153.5h4M199 153.5h1M6 154.5h1M31 154.5h1M47 154.5h1M50 154.5h1M54 154.5h1M57 154.5h2M63 154.5h1M65 154.5h1M67 154.5h1M70 154.5h1M73 154.5h1M81 154.5h2M102 154.5h1M105 154.5h1M108 154.5h1M112 154.5h3M118 154.5h5M127 154.5h1M129 154.5h8M138 154.5h3M142 154.5h51M194 154.5h1M196 154.5h1M200 154.5h1M4 155.5h2M15 155.5h1M44 155.5h1M61 155.5h1M74 155.5h1M78 155.5h1M89 155.5h2M95 155.5h1M100 155.5h2M103 155.5h1M106 155.5h1M108 155.5h1M111 155.5h1M113 155.5h4M121 155.5h2M125 155.5h5M131 155.5h59M191 155.5h1M194 155.5h2M23 156.5h1M31 156.5h1M40 156.5h1M62 156.5h1M65 156.5h1M67 156.5h1M72 156.5h1M75 156.5h2M79 156.5h1M81 156.5h5M89 156.5h1M91 156.5h2M98 156.5h2M106 156.5h1M111 156.5h1M114 156.5h1M116 156.5h2M119 156.5h1M123 156.5h2M126 156.5h2M129 156.5h4M134 156.5h4M139 156.5h53M193 156.5h2M197 156.5h1M200 156.5h2M51 157.5h2M57 157.5h2M62 157.5h1M74 157.5h1M77 157.5h1M81 157.5h1M86 157.5h1M88 157.5h2M93 157.5h3M98 157.5h1M101 157.5h2M105 157.5h2M109 157.5h3M113 157.5h1M117 157.5h2M120 157.5h2M123 157.5h1M125 157.5h1M127 157.5h7M135 157.5h55M191 157.5h2M195 157.5h1M6 158.5h1M10 158.5h1M22 158.5h1M56 158.5h3M64 158.5h1M68 158.5h1M70 158.5h1M75 158.5h1M89 158.5h1M92 158.5h1M95 158.5h1M98 158.5h3M102 158.5h1M105 158.5h4M115 158.5h6M123 158.5h4M128 158.5h9M138 158.5h55M194 158.5h2M199 158.5h2M204 158.5h1M14 159.5h1M22 159.5h1M27 159.5h1M39 159.5h1M45 159.5h1M51 159.5h1M54 159.5h1M58 159.5h1M63 159.5h1M66 159.5h1M71 159.5h1M75 159.5h1M78 159.5h2M84 159.5h1M88 159.5h1M91 159.5h1M95 159.5h1M97 159.5h1M100 159.5h1M105 159.5h1M107 159.5h4M112 159.5h1M115 159.5h1M117 159.5h1M121 159.5h2M124 159.5h69M196 159.5h1M20 160.5h1M23 160.5h1M34 160.5h1M57 160.5h1M62 160.5h1M65 160.5h1M67 160.5h1M70 160.5h1M75 160.5h1M78 160.5h2M86 160.5h1M89 160.5h1M94 160.5h1M96 160.5h1M98 160.5h1M100 160.5h3M105 160.5h2M110 160.5h1M112 160.5h1M114 160.5h4M120 160.5h1M122 160.5h2M126 160.5h1M128 160.5h67M196 160.5h1M198 160.5h2M5 161.5h1M21 161.5h1M32 161.5h1M55 161.5h3M60 161.5h1M67 161.5h1M73 161.5h1M77 161.5h2M82 161.5h1M86 161.5h2M91 161.5h1M94 161.5h2M101 161.5h1M105 161.5h2M108 161.5h2M113 161.5h1M115 161.5h2M121 161.5h1M123 161.5h2M126 161.5h6M133 161.5h56M190 161.5h1M192 161.5h1M194 161.5h2M198 161.5h1M200 161.5h1M205 161.5h1M17 162.5h2M23 162.5h1M35 162.5h1M39 162.5h1M45 162.5h2M50 162.5h1M58 162.5h3M70 162.5h2M80 162.5h1M86 162.5h1M96 162.5h3M100 162.5h4M105 162.5h2M110 162.5h2M114 162.5h6M121 162.5h5M127 162.5h8M136 162.5h55M192 162.5h1M197 162.5h1M0 163.5h1M20 163.5h2M34 163.5h1M36 163.5h1M48 163.5h1M53 163.5h2M67 163.5h3M74 163.5h2M80 163.5h1M85 163.5h1M89 163.5h1M91 163.5h3M95 163.5h3M99 163.5h1M102 163.5h2M106 163.5h2M110 163.5h1M112 163.5h4M117 163.5h2M120 163.5h5M126 163.5h3M130 163.5h65M197 163.5h2M200 163.5h1M12 164.5h1M22 164.5h1M37 164.5h1M43 164.5h1M47 164.5h1M57 164.5h1M60 164.5h1M72 164.5h1M76 164.5h1M81 164.5h3M92 164.5h1M96 164.5h1M99 164.5h1M101 164.5h1M103 164.5h1M106 164.5h1M109 164.5h3M117 164.5h2M120 164.5h3M124 164.5h3M128 164.5h66M195 164.5h1M37 165.5h1M44 165.5h1M62 165.5h1M70 165.5h1M84 165.5h1M87 165.5h1M91 165.5h1M96 165.5h3M101 165.5h2M104 165.5h1M108 165.5h1M110 165.5h2M113 165.5h4M120 165.5h1M122 165.5h68M191 165.5h1M193 165.5h2M196 165.5h1M26 166.5h1M28 166.5h1M37 166.5h1M40 166.5h1M48 166.5h4M59 166.5h1M63 166.5h1M72 166.5h1M76 166.5h1M79 166.5h1M81 166.5h1M94 166.5h3M98 166.5h2M101 166.5h3M110 166.5h2M113 166.5h9M123 166.5h7M131 166.5h64M196 166.5h1M199 166.5h1M3 167.5h1M12 167.5h1M44 167.5h3M53 167.5h1M57 167.5h1M60 167.5h1M63 167.5h2M71 167.5h3M77 167.5h3M81 167.5h1M87 167.5h1M89 167.5h1M91 167.5h1M101 167.5h2M107 167.5h1M112 167.5h1M115 167.5h1M117 167.5h1M119 167.5h5M125 167.5h66M194 167.5h1M196 167.5h1M198 167.5h1M200 167.5h1M2 168.5h1M6 168.5h1M8 168.5h1M19 168.5h1M32 168.5h2M47 168.5h1M61 168.5h1M66 168.5h1M69 168.5h2M82 168.5h1M85 168.5h3M89 168.5h1M91 168.5h3M95 168.5h1M97 168.5h2M100 168.5h3M104 168.5h7M112 168.5h5M118 168.5h2M121 168.5h4M126 168.5h3M130 168.5h61M192 168.5h2M26 169.5h1M37 169.5h1M46 169.5h2M52 169.5h1M55 169.5h1M63 169.5h1M66 169.5h3M86 169.5h1M88 169.5h1M90 169.5h2M93 169.5h3M100 169.5h1M105 169.5h2M108 169.5h1M113 169.5h3M119 169.5h4M124 169.5h2M128 169.5h61M190 169.5h4M195 169.5h1M4 170.5h1M6 170.5h1M26 170.5h2M29 170.5h1M32 170.5h2M35 170.5h1M49 170.5h2M63 170.5h1M75 170.5h1M81 170.5h1M88 170.5h1M90 170.5h1M93 170.5h1M96 170.5h1M99 170.5h1M101 170.5h2M107 170.5h1M109 170.5h1M112 170.5h1M114 170.5h1M116 170.5h5M123 170.5h1M126 170.5h63M190 170.5h1M193 170.5h1M196 170.5h1M201 170.5h1M6 171.5h1M11 171.5h1M22 171.5h2M34 171.5h1M36 171.5h1M46 171.5h1M60 171.5h1M66 171.5h1M72 171.5h1M78 171.5h5M84 171.5h1M89 171.5h1M91 171.5h2M94 171.5h1M99 171.5h5M105 171.5h8M115 171.5h1M117 171.5h73M191 171.5h4M196 171.5h1M0 172.5h1M4 172.5h1M6 172.5h2M17 172.5h1M26 172.5h1M28 172.5h2M35 172.5h1M39 172.5h1M47 172.5h1M57 172.5h1M62 172.5h1M68 172.5h1M70 172.5h1M72 172.5h1M79 172.5h1M83 172.5h1M86 172.5h1M90 172.5h3M95 172.5h2M99 172.5h2M102 172.5h3M106 172.5h1M108 172.5h4M114 172.5h15M130 172.5h62M193 172.5h1M197 172.5h1M201 172.5h1M3 173.5h1M7 173.5h1M9 173.5h1M11 173.5h1M14 173.5h1M28 173.5h1M37 173.5h1M45 173.5h1M51 173.5h2M55 173.5h1M60 173.5h1M74 173.5h1M82 173.5h4M88 173.5h10M99 173.5h1M102 173.5h1M108 173.5h2M114 173.5h4M121 173.5h2M125 173.5h63M189 173.5h3M193 173.5h1M196 173.5h1M208 173.5h1M8 174.5h1M20 174.5h2M23 174.5h1M25 174.5h1M29 174.5h1M34 174.5h1M39 174.5h1M42 174.5h1M47 174.5h2M51 174.5h2M55 174.5h1M57 174.5h2M60 174.5h1M67 174.5h1M73 174.5h1M79 174.5h2M89 174.5h1M91 174.5h2M97 174.5h1M100 174.5h2M103 174.5h1M105 174.5h4M113 174.5h77M192 174.5h1M199 174.5h1M3 175.5h1M6 175.5h2M12 175.5h1M21 175.5h1M24 175.5h2M39 175.5h1M42 175.5h1M50 175.5h1M53 175.5h2M57 175.5h1M65 175.5h1M68 175.5h2M79 175.5h1M81 175.5h4M87 175.5h1M89 175.5h1M92 175.5h1M94 175.5h1M98 175.5h3M102 175.5h1M105 175.5h2M108 175.5h1M112 175.5h1M114 175.5h4M119 175.5h5M125 175.5h67M193 175.5h1M1 176.5h1M7 176.5h1M9 176.5h2M25 176.5h1M32 176.5h1M36 176.5h1M39 176.5h1M62 176.5h1M65 176.5h1M69 176.5h3M73 176.5h1M75 176.5h1M77 176.5h1M85 176.5h2M88 176.5h4M93 176.5h1M95 176.5h3M102 176.5h2M106 176.5h3M112 176.5h5M118 176.5h6M125 176.5h63M189 176.5h3M205 176.5h1M4 177.5h1M21 177.5h2M24 177.5h1M27 177.5h1M29 177.5h2M32 177.5h1M47 177.5h5M62 177.5h1M69 177.5h1M71 177.5h1M74 177.5h1M76 177.5h4M81 177.5h4M86 177.5h1M88 177.5h1M90 177.5h4M95 177.5h3M99 177.5h2M102 177.5h4M107 177.5h1M110 177.5h1M112 177.5h6M119 177.5h71M192 177.5h1M198 177.5h1M1 178.5h1M3 178.5h1M7 178.5h1M19 178.5h1M22 178.5h3M27 178.5h1M31 178.5h1M35 178.5h1M37 178.5h1M53 178.5h2M63 178.5h1M66 178.5h1M71 178.5h2M74 178.5h3M78 178.5h2M81 178.5h3M85 178.5h1M88 178.5h1M90 178.5h1M92 178.5h1M96 178.5h1M100 178.5h2M105 178.5h1M108 178.5h3M112 178.5h3M116 178.5h3M120 178.5h69M192 178.5h2M201 178.5h1M4 179.5h1M7 179.5h1M10 179.5h1M21 179.5h2M24 179.5h2M42 179.5h1M45 179.5h2M52 179.5h1M55 179.5h1M57 179.5h1M69 179.5h1M74 179.5h1M80 179.5h3M85 179.5h2M88 179.5h3M92 179.5h3M102 179.5h1M104 179.5h1M110 179.5h2M113 179.5h3M118 179.5h72M191 179.5h1M193 179.5h1M196 179.5h1M7 180.5h1M11 180.5h1M18 180.5h2M27 180.5h1M30 180.5h1M33 180.5h1M43 180.5h1M45 180.5h1M48 180.5h1M55 180.5h2M61 180.5h1M66 180.5h1M68 180.5h2M75 180.5h2M78 180.5h2M83 180.5h1M86 180.5h1M88 180.5h3M92 180.5h3M97 180.5h4M102 180.5h1M106 180.5h2M109 180.5h85M197 180.5h1M201 180.5h1M10 181.5h1M18 181.5h1M29 181.5h1M31 181.5h1M37 181.5h1M45 181.5h1M51 181.5h2M63 181.5h1M71 181.5h1M75 181.5h1M79 181.5h1M82 181.5h1M85 181.5h2M88 181.5h2M91 181.5h1M94 181.5h1M97 181.5h6M106 181.5h6M113 181.5h2M117 181.5h75M195 181.5h2M198 181.5h1M7 182.5h1M12 182.5h2M24 182.5h1M31 182.5h1M33 182.5h1M36 182.5h1M38 182.5h1M49 182.5h1M63 182.5h1M68 182.5h2M72 182.5h1M74 182.5h2M77 182.5h1M80 182.5h4M85 182.5h3M89 182.5h2M94 182.5h1M96 182.5h1M98 182.5h2M101 182.5h1M106 182.5h1M108 182.5h8M117 182.5h6M124 182.5h65M190 182.5h3M195 182.5h1M200 182.5h1M0 183.5h1M4 183.5h3M8 183.5h2M11 183.5h2M25 183.5h2M29 183.5h1M33 183.5h2M37 183.5h1M42 183.5h1M46 183.5h1M49 183.5h2M53 183.5h1M57 183.5h1M61 183.5h3M68 183.5h2M71 183.5h4M78 183.5h1M84 183.5h1M86 183.5h1M92 183.5h8M103 183.5h18M122 183.5h69M193 183.5h2M198 183.5h1M6 184.5h1M8 184.5h1M12 184.5h1M15 184.5h1M17 184.5h1M26 184.5h1M35 184.5h1M38 184.5h1M45 184.5h1M54 184.5h1M61 184.5h1M68 184.5h1M72 184.5h1M74 184.5h2M78 184.5h1M81 184.5h2M85 184.5h2M88 184.5h3M93 184.5h1M98 184.5h4M103 184.5h1M105 184.5h13M119 184.5h70M194 184.5h2M3 185.5h1M5 185.5h1M11 185.5h1M13 185.5h1M36 185.5h1M42 185.5h2M46 185.5h1M48 185.5h1M50 185.5h1M53 185.5h1M55 185.5h1M57 185.5h1M62 185.5h3M67 185.5h2M74 185.5h5M80 185.5h1M83 185.5h3M87 185.5h5M94 185.5h1M100 185.5h4M105 185.5h2M108 185.5h5M114 185.5h4M119 185.5h73M194 185.5h2M202 185.5h1M9 186.5h1M16 186.5h1M20 186.5h1M26 186.5h3M39 186.5h1M41 186.5h1M57 186.5h1M64 186.5h1M67 186.5h1M69 186.5h1M71 186.5h1M74 186.5h3M78 186.5h2M81 186.5h3M87 186.5h1M89 186.5h1M94 186.5h2M97 186.5h1M103 186.5h8M112 186.5h1M114 186.5h1M116 186.5h75M193 186.5h2M196 186.5h1M200 186.5h1M0 187.5h2M18 187.5h1M22 187.5h1M24 187.5h1M26 187.5h1M33 187.5h1M38 187.5h1M41 187.5h4M46 187.5h3M55 187.5h1M61 187.5h3M70 187.5h1M72 187.5h2M76 187.5h2M79 187.5h2M82 187.5h4M87 187.5h5M96 187.5h2M99 187.5h2M102 187.5h1M104 187.5h86M191 187.5h2M194 187.5h3M203 187.5h1M208 187.5h1M2 188.5h1M7 188.5h1M21 188.5h2M24 188.5h1M35 188.5h1M37 188.5h1M41 188.5h1M46 188.5h1M49 188.5h3M53 188.5h1M55 188.5h1M57 188.5h1M61 188.5h5M67 188.5h2M70 188.5h1M73 188.5h1M81 188.5h1M83 188.5h3M92 188.5h4M98 188.5h1M100 188.5h3M104 188.5h12M117 188.5h73M191 188.5h2M216 188.5h1M0 189.5h1M3 189.5h1M5 189.5h1M8 189.5h1M14 189.5h1M18 189.5h1M26 189.5h3M33 189.5h2M36 189.5h1M49 189.5h1M55 189.5h2M58 189.5h1M61 189.5h3M65 189.5h1M67 189.5h2M73 189.5h1M75 189.5h1M77 189.5h1M79 189.5h2M82 189.5h2M85 189.5h4M91 189.5h1M94 189.5h2M99 189.5h4M104 189.5h11M116 189.5h72M190 189.5h1M192 189.5h1M194 189.5h1M3 190.5h2M6 190.5h1M8 190.5h1M11 190.5h1M15 190.5h1M19 190.5h1M22 190.5h2M34 190.5h1M38 190.5h2M42 190.5h1M46 190.5h1M48 190.5h1M50 190.5h1M52 190.5h1M55 190.5h3M61 190.5h1M63 190.5h1M65 190.5h1M68 190.5h1M70 190.5h2M74 190.5h4M79 190.5h1M82 190.5h6M89 190.5h1M91 190.5h3M95 190.5h6M102 190.5h6M109 190.5h4M114 190.5h78M195 190.5h1M203 190.5h1M5 191.5h1M7 191.5h1M15 191.5h1M25 191.5h1M27 191.5h1M34 191.5h1M36 191.5h2M40 191.5h1M47 191.5h1M55 191.5h4M61 191.5h2M65 191.5h10M76 191.5h2M81 191.5h3M87 191.5h2M91 191.5h1M95 191.5h1M97 191.5h1M99 191.5h89M189 191.5h2M193 191.5h1M198 191.5h1M202 191.5h1M8 192.5h1M12 192.5h1M33 192.5h2M38 192.5h2M42 192.5h1M55 192.5h2M60 192.5h2M63 192.5h1M66 192.5h1M68 192.5h1M71 192.5h1M76 192.5h4M82 192.5h2M85 192.5h1M87 192.5h2M91 192.5h2M95 192.5h3M99 192.5h15M115 192.5h78M198 192.5h1M2 193.5h1M7 193.5h1M9 193.5h2M15 193.5h1M23 193.5h1M28 193.5h1M34 193.5h3M39 193.5h1M41 193.5h1M44 193.5h1M46 193.5h1M52 193.5h2M58 193.5h1M61 193.5h5M68 193.5h1M71 193.5h1M73 193.5h5M79 193.5h2M86 193.5h1M90 193.5h2M98 193.5h7M106 193.5h86M194 193.5h1M10 194.5h1M12 194.5h2M17 194.5h1M45 194.5h2M48 194.5h2M52 194.5h1M55 194.5h1M58 194.5h2M62 194.5h1M64 194.5h3M68 194.5h1M70 194.5h1M72 194.5h3M78 194.5h1M80 194.5h1M82 194.5h6M89 194.5h1M92 194.5h2M95 194.5h14M110 194.5h78M190 194.5h2M193 194.5h2M1 195.5h1M4 195.5h1M8 195.5h2M11 195.5h2M18 195.5h1M34 195.5h2M41 195.5h1M46 195.5h3M50 195.5h1M53 195.5h4M58 195.5h2M61 195.5h1M63 195.5h1M66 195.5h3M71 195.5h1M73 195.5h2M77 195.5h2M80 195.5h1M82 195.5h1M87 195.5h12M100 195.5h3M104 195.5h86M192 195.5h2M4 196.5h1M6 196.5h1M8 196.5h3M21 196.5h1M23 196.5h1M26 196.5h1M33 196.5h1M35 196.5h1M37 196.5h3M42 196.5h2M45 196.5h2M49 196.5h2M54 196.5h2M58 196.5h1M60 196.5h1M67 196.5h2M70 196.5h2M75 196.5h1M81 196.5h2M85 196.5h1M87 196.5h1M89 196.5h6M96 196.5h13M110 196.5h81M197 196.5h1M204 196.5h1M1 197.5h2M11 197.5h1M16 197.5h1M28 197.5h2M35 197.5h2M40 197.5h1M43 197.5h2M46 197.5h1M49 197.5h1M51 197.5h1M53 197.5h1M55 197.5h1M58 197.5h1M60 197.5h3M66 197.5h3M70 197.5h2M73 197.5h2M76 197.5h3M81 197.5h4M91 197.5h2M95 197.5h2M99 197.5h87M187 197.5h3M191 197.5h3M8 198.5h1M12 198.5h1M16 198.5h1M22 198.5h1M24 198.5h3M29 198.5h2M33 198.5h1M35 198.5h1M37 198.5h2M44 198.5h4M49 198.5h2M52 198.5h1M54 198.5h3M59 198.5h1M63 198.5h4M70 198.5h3M77 198.5h1M81 198.5h5M87 198.5h5M93 198.5h97M193 198.5h2M200 198.5h1M203 198.5h1M0 199.5h4M9 199.5h2M14 199.5h1M16 199.5h1M18 199.5h2M21 199.5h2M32 199.5h2M37 199.5h4M43 199.5h1M46 199.5h3M52 199.5h1M56 199.5h3M60 199.5h2M63 199.5h2M66 199.5h2M69 199.5h1M71 199.5h1M73 199.5h1M75 199.5h2M79 199.5h1M82 199.5h1M84 199.5h1M87 199.5h1M89 199.5h98M188 199.5h1M190 199.5h3M195 199.5h1M198 199.5h1M0 200.5h1M18 200.5h1M20 200.5h1M22 200.5h3M28 200.5h2M36 200.5h2M39 200.5h8M49 200.5h7M57 200.5h4M62 200.5h3M66 200.5h5M73 200.5h7M81 200.5h3M86 200.5h1M89 200.5h3M93 200.5h2M96 200.5h2M99 200.5h7M107 200.5h80M188 200.5h6M8 201.5h2M11 201.5h1M14 201.5h4M23 201.5h1M26 201.5h4M31 201.5h1M33 201.5h1M36 201.5h1M41 201.5h1M44 201.5h1M48 201.5h1M51 201.5h1M55 201.5h4M60 201.5h1M66 201.5h5M74 201.5h2M77 201.5h2M80 201.5h1M85 201.5h2M88 201.5h6M95 201.5h1M97 201.5h9M107 201.5h87M201 201.5h1M3 202.5h1M9 202.5h1M11 202.5h1M13 202.5h1M16 202.5h3M23 202.5h1M25 202.5h2M30 202.5h1M32 202.5h1M39 202.5h2M42 202.5h1M44 202.5h2M52 202.5h1M55 202.5h4M66 202.5h1M68 202.5h1M72 202.5h1M75 202.5h3M79 202.5h4M85 202.5h9M95 202.5h1M97 202.5h3M101 202.5h89M192 202.5h1M1 203.5h1M3 203.5h1M7 203.5h2M12 203.5h5M18 203.5h1M20 203.5h1M24 203.5h4M30 203.5h1M32 203.5h1M35 203.5h2M40 203.5h1M42 203.5h3M47 203.5h1M52 203.5h1M54 203.5h1M56 203.5h2M59 203.5h2M65 203.5h2M73 203.5h2M83 203.5h7M92 203.5h5M98 203.5h91M190 203.5h1M192 203.5h2M197 203.5h1M8 204.5h2M11 204.5h2M15 204.5h3M19 204.5h1M22 204.5h2M25 204.5h4M32 204.5h1M34 204.5h3M38 204.5h5M44 204.5h3M49 204.5h5M55 204.5h2M58 204.5h1M60 204.5h1M64 204.5h1M70 204.5h5M79 204.5h13M93 204.5h1M96 204.5h2M99 204.5h95M196 204.5h1M200 204.5h1M9 205.5h1M11 205.5h2M17 205.5h2M20 205.5h1M23 205.5h1M25 205.5h4M31 205.5h4M36 205.5h1M38 205.5h1M43 205.5h1M46 205.5h3M50 205.5h1M52 205.5h1M54 205.5h1M59 205.5h1M62 205.5h1M67 205.5h2M70 205.5h1M73 205.5h2M77 205.5h1M79 205.5h1M81 205.5h1M83 205.5h4M88 205.5h2M91 205.5h101M195 205.5h1M1 206.5h3M7 206.5h2M11 206.5h3M16 206.5h1M18 206.5h2M21 206.5h2M24 206.5h1M27 206.5h4M32 206.5h1M34 206.5h1M38 206.5h1M41 206.5h1M47 206.5h1M50 206.5h3M56 206.5h2M59 206.5h1M61 206.5h1M65 206.5h2M68 206.5h1M70 206.5h1M72 206.5h1M74 206.5h2M77 206.5h1M79 206.5h5M86 206.5h3M90 206.5h8M99 206.5h92M193 206.5h1M199 206.5h1M5 207.5h1M8 207.5h1M10 207.5h1M13 207.5h1M15 207.5h2M19 207.5h2M23 207.5h2M26 207.5h3M30 207.5h1M33 207.5h1M35 207.5h7M43 207.5h4M54 207.5h1M56 207.5h1M58 207.5h1M64 207.5h1M66 207.5h1M69 207.5h1M72 207.5h1M75 207.5h2M78 207.5h5M84 207.5h6M91 207.5h1M93 207.5h3M97 207.5h95M194 207.5h1M196 207.5h1M0 208.5h4M8 208.5h3M12 208.5h2M15 208.5h1M18 208.5h3M22 208.5h4M30 208.5h3M36 208.5h2M39 208.5h1M45 208.5h2M50 208.5h2M53 208.5h2M57 208.5h1M59 208.5h2M63 208.5h2M66 208.5h1M70 208.5h1M72 208.5h1M74 208.5h2M77 208.5h4M82 208.5h7M90 208.5h103M0 209.5h1M4 209.5h1M7 209.5h4M13 209.5h2M17 209.5h1M19 209.5h4M28 209.5h1M31 209.5h3M35 209.5h1M37 209.5h3M46 209.5h1M48 209.5h3M52 209.5h2M55 209.5h3M59 209.5h1M61 209.5h2M64 209.5h4M69 209.5h1M71 209.5h1M73 209.5h22M96 209.5h93M190 209.5h1M193 209.5h1M0 210.5h2M3 210.5h4M9 210.5h1M11 210.5h5M17 210.5h3M21 210.5h1M23 210.5h1M25 210.5h3M29 210.5h2M34 210.5h1M36 210.5h3M43 210.5h2M46 210.5h1M50 210.5h4M56 210.5h9M67 210.5h10M78 210.5h109M188 210.5h1M191 210.5h3M0 211.5h1M2 211.5h1M4 211.5h1M7 211.5h1M9 211.5h8M21 211.5h3M26 211.5h1M32 211.5h3M37 211.5h1M39 211.5h2M43 211.5h1M45 211.5h4M53 211.5h1M56 211.5h1M59 211.5h3M63 211.5h2M66 211.5h3M71 211.5h3M75 211.5h3M79 211.5h9M89 211.5h105M199 211.5h1M0 212.5h1M4 212.5h2M7 212.5h2M11 212.5h1M15 212.5h1M17 212.5h1M19 212.5h2M24 212.5h1M26 212.5h2M29 212.5h2M32 212.5h2M37 212.5h2M43 212.5h7M51 212.5h3M55 212.5h1M58 212.5h2M61 212.5h1M63 212.5h15M79 212.5h4M84 212.5h2M88 212.5h101M191 212.5h2M195 212.5h1M0 213.5h1M2 213.5h1M4 213.5h1M6 213.5h1M11 213.5h4M17 213.5h1M19 213.5h2M22 213.5h1M30 213.5h2M34 213.5h1M36 213.5h1M38 213.5h1M41 213.5h3M48 213.5h1M53 213.5h2M56 213.5h1M60 213.5h2M63 213.5h6M70 213.5h1M74 213.5h7M82 213.5h1M85 213.5h103M189 213.5h2M195 213.5h1M2 214.5h3M6 214.5h1M8 214.5h1M10 214.5h1M13 214.5h1M15 214.5h1M18 214.5h4M24 214.5h1M26 214.5h1M28 214.5h3M32 214.5h2M35 214.5h6M43 214.5h4M50 214.5h2M54 214.5h6M62 214.5h4M67 214.5h3M71 214.5h18M90 214.5h96M187 214.5h2M190 214.5h1M195 214.5h1M0 215.5h7M8 215.5h3M12 215.5h2M15 215.5h2M20 215.5h1M23 215.5h1M27 215.5h1M29 215.5h2M33 215.5h1M37 215.5h1M39 215.5h1M41 215.5h3M46 215.5h4M52 215.5h1M54 215.5h1M56 215.5h2M59 215.5h1M61 215.5h2M64 215.5h2M67 215.5h3M72 215.5h16M89 215.5h100M190 215.5h2M0 216.5h1M5 216.5h1M7 216.5h4M12 216.5h4M17 216.5h1M20 216.5h1M22 216.5h3M27 216.5h1M33 216.5h1M36 216.5h2M40 216.5h1M42 216.5h1M44 216.5h1M46 216.5h4M51 216.5h2M55 216.5h1M57 216.5h7M65 216.5h2M68 216.5h21M90 216.5h99M190 216.5h1M193 216.5h2M0 217.5h1M4 217.5h1M8 217.5h1M10 217.5h1M12 217.5h2M15 217.5h1M19 217.5h1M22 217.5h1M28 217.5h2M32 217.5h1M34 217.5h1M39 217.5h1M41 217.5h2M45 217.5h1M49 217.5h6M56 217.5h14M71 217.5h120M193 217.5h2M0 218.5h2M4 218.5h3M11 218.5h2M14 218.5h1M17 218.5h2M20 218.5h2M23 218.5h1M28 218.5h1M30 218.5h8M40 218.5h6M47 218.5h1M50 218.5h2M54 218.5h8M63 218.5h5M69 218.5h121M192 218.5h1M203 218.5h1M0 219.5h3M4 219.5h1M8 219.5h2M11 219.5h1M13 219.5h1M15 219.5h2M18 219.5h4M25 219.5h4M30 219.5h1M32 219.5h2M35 219.5h2M38 219.5h3M42 219.5h3M46 219.5h1M48 219.5h5M54 219.5h4M59 219.5h6M66 219.5h14M81 219.5h107M190 219.5h1M192 219.5h1M194 219.5h1M0 220.5h2M3 220.5h4M8 220.5h1M10 220.5h1M14 220.5h1M18 220.5h2M22 220.5h2M26 220.5h1M28 220.5h2M31 220.5h1M33 220.5h2M36 220.5h3M40 220.5h4M45 220.5h7M53 220.5h15M70 220.5h8M79 220.5h111M192 220.5h1M194 220.5h1M196 220.5h1M0 221.5h2M4 221.5h5M10 221.5h1M13 221.5h1M16 221.5h3M21 221.5h1M26 221.5h1M28 221.5h1M30 221.5h1M32 221.5h4M37 221.5h8M46 221.5h14M61 221.5h130M192 221.5h1M196 221.5h1M0 222.5h5M11 222.5h2M15 222.5h2M18 222.5h2M21 222.5h3M25 222.5h3M29 222.5h1M31 222.5h2M34 222.5h15M50 222.5h4M55 222.5h8M64 222.5h128M0 223.5h1M3 223.5h1M5 223.5h1M8 223.5h2M11 223.5h1M13 223.5h2M16 223.5h2M22 223.5h2M25 223.5h3M29 223.5h7M38 223.5h5M46 223.5h3M50 223.5h9M60 223.5h15M76 223.5h113M190 223.5h1M193 223.5h2M3 224.5h3M7 224.5h3M11 224.5h3M15 224.5h4M21 224.5h1M23 224.5h15M39 224.5h7M47 224.5h10M58 224.5h14M73 224.5h112M186 224.5h1M188 224.5h1M191 224.5h1M0 225.5h5M6 225.5h4M12 225.5h9M22 225.5h1M24 225.5h4M29 225.5h23M54 225.5h4M59 225.5h129M189 225.5h1M191 225.5h1M193 225.5h1M196 225.5h1M0 226.5h2M3 226.5h2M6 226.5h1M8 226.5h6M15 226.5h8M24 226.5h3M28 226.5h8M37 226.5h6M45 226.5h10M56 226.5h131M195 226.5h1M1 227.5h3M6 227.5h1M8 227.5h3M12 227.5h2M17 227.5h1M19 227.5h2M22 227.5h4M27 227.5h30M58 227.5h129M188 227.5h4M196 227.5h1M207 227.5h1M0 228.5h13M14 228.5h38M53 228.5h137M191 228.5h3M204 228.5h1M0 229.5h7M8 229.5h6M15 229.5h13M29 229.5h2M32 229.5h6M39 229.5h5M45 229.5h9M55 229.5h135M192 229.5h1M194 229.5h1M200 229.5h1M0 230.5h22M23 230.5h17M41 230.5h8M50 230.5h138M189 230.5h1M191 230.5h1M193 230.5h1M195 230.5h1M0 231.5h4M6 231.5h1M8 231.5h36M46 231.5h140M187 231.5h3M194 231.5h1M196 231.5h1M198 231.5h1M0 232.5h16M17 232.5h12M30 232.5h8M39 232.5h147M187 232.5h4M193 232.5h1M195 232.5h1M0 233.5h4M5 233.5h17M23 233.5h5M29 233.5h158M188 233.5h2M194 233.5h1M208 233.5h1M0 234.5h6M7 234.5h6M14 234.5h7M22 234.5h1M24 234.5h9M34 234.5h155M190 234.5h1M204 234.5h1M0 235.5h2M3 235.5h187M191 235.5h1M197 235.5h1M201 235.5h1M0 236.5h6M7 236.5h182M194 236.5h1M0 237.5h188M189 237.5h1M198 237.5h1M0 238.5h188M189 238.5h1M191 238.5h1M0 239.5h192M197 239.5h2M0 240.5h1M2 240.5h186M191 240.5h1M193 240.5h1M197 240.5h1M0 241.5h189M193 241.5h1M195 241.5h1M197 241.5h1M0 242.5h188M190 242.5h1M192 242.5h1M0 243.5h2M3 243.5h186M190 243.5h1" stroke="#000" stroke-width="1.77" fill="none" filter="url(#b03)"/>
<clipPath id="c1"><rect x="92" y="870" width="153" height="159"/></clipPath>
<g clip-path="url(#c1)" filter="url(#b2)">
<polygon points="117.7,1028.6 139.9,1022.7 158.2,1012.3 173.9,992.7 186.9,969.1 198.7,948.2 210.4,949.5 213.7,966.5 212.4,992.7 209.8,1016.2 207.8,1028.6" fill="#2f0a55" />
<polygon points="155.6,1028.6 168.6,1014.9 181.7,994.0 192.1,977.0 202.6,974.4 206.5,992.7 205.2,1012.3 202.6,1028.6" fill="#6a176e" />
<polygon points="160.8,1028.6 176.5,1013.6 188.2,996.6 197.4,986.1 202.6,992.7 201.9,1012.3 200.0,1028.6" fill="#b5353f" />
</g><g clip-path="url(#c1)" filter="url(#b15)">
<polygon points="166.0,1028.6 179.1,1017.5 189.5,1004.4 197.4,1000.5 200.0,1012.3 198.7,1028.6" fill="#e8602d" />
<polygon points="169.9,1028.6 181.7,1020.8 192.1,1014.9 197.4,1018.8 196.1,1028.6" fill="#fb9b06" />
<polygon points="176.5,1028.6 184.3,1024.0 193.5,1023.4 194.8,1028.6" fill="#f7d03c" />
</g>
<line x1="93.0" y1="1029.0" x2="93.0" y2="990.0" stroke="#d8b04a" stroke-width="1.4" />
<polygon points="153.6,1025.1 198.7,944.3 220.9,950.2 212.8,1020.8" fill="none" stroke="#ff1010" stroke-width="2.2" />
<line x1="195.4" y1="942.0" x2="200.0" y2="944.6" stroke="#ff1010" stroke-width="2" />
<rect x="92.0" y="870.0" width="153.0" height="159.0" fill="none" stroke="#6e6e6e" stroke-width="1.1"/>
<path d="M92 871.0h-4.5M92 883.0h-4.5M92 894.9h-4.5M92 906.9h-4.5M92 918.8h-4.5M92 930.8h-4.5M92 942.8h-4.5M92 954.7h-4.5M92 966.7h-4.5M92 978.6h-4.5M92 990.6h-4.5M92 1002.6h-4.5M92 1014.5h-4.5" fill="none" stroke="#6e6e6e" stroke-width="1.2"/>
<rect x="108.7" y="1029.5" width="3.4" height="4.2" fill="#4a4a4a"/>
<path d="M93.5 1029v4M100.7 1029v3.6M102.4 1029v3.6M104.1 1029v3.6M105.8 1029v3.6M107.5 1029v3.6M109.2 1029v3.6M110.9 1029v3.6M112.6 1029v3.6M114.3 1029v3.6M116.0 1029v3.6M117.7 1029v3.6M119.4 1029v3.6M121.1 1029v3.6M153.6 1029v6M164.8 1029v3.4M171.3 1029v3.4M176.0 1029v3.4M179.6 1029v3.4M182.5 1029v3.4M185.0 1029v3.4M187.2 1029v3.4M189.1 1029v3.4M190.8 1029v6M202.0 1029v3.4M208.5 1029v3.4M213.2 1029v3.4M216.8 1029v3.4M219.7 1029v3.4M222.2 1029v3.4M224.4 1029v3.4M226.3 1029v3.4M228.7 1029v6M239.9 1029v3.4" fill="none" stroke="#4a4a4a" stroke-width="1.1"/>
<path transform="translate(289 871) scale(0.65)" d="M110 179.5h1M104 180.5h1M93 181.5h1M101 181.5h1M118 181.5h1M88 182.5h1M103 182.5h1M126 182.5h1M91 183.5h1M103 183.5h1M108 183.5h1M124 183.5h1M89 184.5h1M93 184.5h1M98 184.5h1M102 184.5h1M108 184.5h1M129 184.5h1M133 184.5h1M145 184.5h1M154 184.5h1M113 185.5h1M116 185.5h1M127 185.5h1M132 185.5h1M150 185.5h1M72 186.5h1M75 186.5h1M77 186.5h1M83 186.5h1M126 186.5h1M132 186.5h2M139 186.5h1M141 186.5h1M145 186.5h1M159 186.5h1M67 187.5h1M107 187.5h1M114 187.5h1M118 187.5h2M161 187.5h1M62 188.5h1M81 188.5h1M100 188.5h2M120 188.5h2M124 188.5h1M127 188.5h1M129 188.5h1M136 188.5h1M170 188.5h1M172 188.5h1M65 189.5h1M89 189.5h2M98 189.5h1M108 189.5h3M118 189.5h1M120 189.5h1M125 189.5h1M128 189.5h2M134 189.5h1M136 189.5h1M159 189.5h1M168 189.5h1M63 190.5h1M72 190.5h1M89 190.5h1M92 190.5h1M99 190.5h5M106 190.5h3M112 190.5h1M114 190.5h3M118 190.5h1M121 190.5h1M123 190.5h1M127 190.5h2M134 190.5h1M136 190.5h2M149 190.5h1M154 190.5h1M158 190.5h1M178 190.5h2M185 190.5h1M54 191.5h1M66 191.5h2M74 191.5h1M78 191.5h1M80 191.5h1M84 191.5h1M86 191.5h1M88 191.5h2M91 191.5h2M95 191.5h2M99 191.5h1M101 191.5h1M104 191.5h3M109 191.5h1M115 191.5h2M121 191.5h1M127 191.5h1M129 191.5h6M136 191.5h1M138 191.5h3M142 191.5h3M147 191.5h1M150 191.5h1M178 191.5h1M190 191.5h1M62 192.5h2M65 192.5h1M68 192.5h1M72 192.5h1M74 192.5h1M76 192.5h1M80 192.5h1M83 192.5h1M89 192.5h1M92 192.5h3M98 192.5h2M101 192.5h1M104 192.5h1M106 192.5h1M108 192.5h3M113 192.5h1M117 192.5h2M121 192.5h4M127 192.5h1M130 192.5h1M134 192.5h1M137 192.5h3M143 192.5h1M145 192.5h2M150 192.5h1M152 192.5h2M164 192.5h1M167 192.5h2M170 192.5h2M174 192.5h1M179 192.5h1M182 192.5h1M184 192.5h1M59 193.5h1M66 193.5h2M82 193.5h3M88 193.5h3M94 193.5h4M99 193.5h1M101 193.5h2M104 193.5h2M107 193.5h2M110 193.5h1M112 193.5h1M114 193.5h1M116 193.5h2M120 193.5h1M123 193.5h1M126 193.5h1M131 193.5h2M134 193.5h2M137 193.5h2M140 193.5h1M144 193.5h1M149 193.5h2M152 193.5h2M156 193.5h1M162 193.5h1M164 193.5h1M166 193.5h1M170 193.5h1M172 193.5h1M178 193.5h1M182 193.5h1M190 193.5h1M60 194.5h3M65 194.5h1M67 194.5h1M69 194.5h5M75 194.5h2M78 194.5h1M80 194.5h1M82 194.5h2M85 194.5h3M89 194.5h2M93 194.5h1M98 194.5h2M101 194.5h1M103 194.5h5M109 194.5h6M116 194.5h1M118 194.5h1M122 194.5h1M128 194.5h1M130 194.5h4M137 194.5h1M141 194.5h1M143 194.5h1M148 194.5h1M153 194.5h1M157 194.5h1M159 194.5h5M172 194.5h1M174 194.5h3M178 194.5h2M182 194.5h2M187 194.5h1M192 194.5h1M43 195.5h1M55 195.5h1M58 195.5h5M69 195.5h1M72 195.5h2M75 195.5h2M79 195.5h1M81 195.5h3M87 195.5h1M90 195.5h1M92 195.5h2M97 195.5h1M99 195.5h1M101 195.5h5M108 195.5h3M115 195.5h1M120 195.5h1M124 195.5h3M129 195.5h2M135 195.5h1M137 195.5h3M144 195.5h1M150 195.5h2M158 195.5h1M160 195.5h1M163 195.5h2M167 195.5h1M169 195.5h4M175 195.5h1M177 195.5h1M179 195.5h1M185 195.5h1M53 196.5h1M56 196.5h1M58 196.5h4M67 196.5h1M73 196.5h2M77 196.5h1M79 196.5h1M81 196.5h3M85 196.5h1M88 196.5h8M97 196.5h4M102 196.5h2M105 196.5h2M108 196.5h3M112 196.5h1M114 196.5h5M120 196.5h3M124 196.5h1M128 196.5h1M134 196.5h1M136 196.5h4M142 196.5h3M149 196.5h1M155 196.5h1M159 196.5h3M164 196.5h3M168 196.5h1M170 196.5h1M172 196.5h1M180 196.5h1M183 196.5h1M191 196.5h1M42 197.5h1M50 197.5h2M53 197.5h1M56 197.5h1M58 197.5h2M62 197.5h1M64 197.5h1M66 197.5h3M71 197.5h1M74 197.5h1M76 197.5h5M82 197.5h13M96 197.5h24M121 197.5h1M123 197.5h6M130 197.5h6M141 197.5h1M144 197.5h1M146 197.5h1M150 197.5h1M154 197.5h1M156 197.5h3M163 197.5h2M167 197.5h2M172 197.5h1M174 197.5h2M181 197.5h1M183 197.5h1M186 197.5h1M190 197.5h1M192 197.5h1M40 198.5h1M45 198.5h1M48 198.5h1M50 198.5h7M60 198.5h2M65 198.5h1M68 198.5h1M71 198.5h2M74 198.5h1M76 198.5h1M78 198.5h54M133 198.5h2M137 198.5h3M152 198.5h1M154 198.5h1M156 198.5h2M165 198.5h1M167 198.5h1M173 198.5h2M176 198.5h1M180 198.5h2M183 198.5h2M186 198.5h4M191 198.5h1M40 199.5h1M46 199.5h3M51 199.5h1M53 199.5h1M55 199.5h3M59 199.5h2M63 199.5h1M65 199.5h2M68 199.5h66M137 199.5h1M146 199.5h1M151 199.5h1M155 199.5h1M158 199.5h1M160 199.5h1M162 199.5h2M167 199.5h2M174 199.5h2M178 199.5h1M183 199.5h1M185 199.5h3M190 199.5h2M29 200.5h1M40 200.5h1M45 200.5h2M52 200.5h2M56 200.5h1M58 200.5h8M67 200.5h64M132 200.5h1M134 200.5h2M138 200.5h1M141 200.5h1M147 200.5h6M154 200.5h1M156 200.5h1M159 200.5h2M162 200.5h1M165 200.5h1M168 200.5h2M171 200.5h3M176 200.5h3M180 200.5h5M189 200.5h2M192 200.5h1M194 200.5h1M38 201.5h1M47 201.5h3M52 201.5h2M56 201.5h2M59 201.5h73M133 201.5h3M137 201.5h1M142 201.5h1M144 201.5h2M147 201.5h1M149 201.5h2M154 201.5h1M158 201.5h1M164 201.5h1M166 201.5h2M169 201.5h1M171 201.5h1M173 201.5h3M177 201.5h3M189 201.5h1M36 202.5h1M39 202.5h1M41 202.5h1M45 202.5h1M50 202.5h1M53 202.5h81M135 202.5h1M140 202.5h6M148 202.5h1M151 202.5h1M157 202.5h2M160 202.5h4M166 202.5h1M170 202.5h2M173 202.5h1M175 202.5h1M178 202.5h1M180 202.5h1M183 202.5h3M187 202.5h1M189 202.5h1M191 202.5h1M29 203.5h1M32 203.5h3M40 203.5h1M44 203.5h1M46 203.5h1M48 203.5h87M136 203.5h1M139 203.5h1M142 203.5h3M147 203.5h1M149 203.5h1M151 203.5h1M154 203.5h1M159 203.5h1M163 203.5h1M165 203.5h2M169 203.5h1M172 203.5h1M175 203.5h2M179 203.5h1M181 203.5h2M186 203.5h1M188 203.5h2M193 203.5h1M24 204.5h1M36 204.5h1M38 204.5h1M41 204.5h9M51 204.5h83M136 204.5h1M138 204.5h1M140 204.5h3M147 204.5h1M150 204.5h2M153 204.5h1M155 204.5h3M159 204.5h1M161 204.5h2M164 204.5h3M170 204.5h1M172 204.5h1M175 204.5h2M179 204.5h3M186 204.5h1M191 204.5h1M193 204.5h1M195 204.5h1M29 205.5h1M31 205.5h1M33 205.5h1M36 205.5h1M40 205.5h2M43 205.5h1M45 205.5h90M139 205.5h4M145 205.5h2M151 205.5h1M154 205.5h1M156 205.5h3M160 205.5h1M162 205.5h2M167 205.5h2M171 205.5h3M175 205.5h4M181 205.5h1M183 205.5h2M186 205.5h1M192 205.5h1M27 206.5h1M32 206.5h2M38 206.5h97M139 206.5h1M141 206.5h1M144 206.5h1M147 206.5h1M150 206.5h1M153 206.5h2M158 206.5h3M163 206.5h1M165 206.5h1M167 206.5h1M171 206.5h1M173 206.5h1M176 206.5h2M179 206.5h3M183 206.5h1M185 206.5h1M188 206.5h1M191 206.5h1M28 207.5h5M35 207.5h100M136 207.5h1M139 207.5h2M143 207.5h3M147 207.5h1M149 207.5h5M158 207.5h1M160 207.5h3M164 207.5h1M167 207.5h7M178 207.5h2M182 207.5h1M185 207.5h1M187 207.5h4M192 207.5h1M195 207.5h1M19 208.5h1M30 208.5h2M33 208.5h102M137 208.5h1M140 208.5h1M142 208.5h1M148 208.5h2M151 208.5h2M160 208.5h3M166 208.5h1M168 208.5h3M173 208.5h2M177 208.5h2M182 208.5h1M185 208.5h1M188 208.5h2M19 209.5h1M27 209.5h1M32 209.5h102M135 209.5h5M141 209.5h4M147 209.5h1M153 209.5h2M156 209.5h2M159 209.5h1M161 209.5h2M167 209.5h1M171 209.5h1M174 209.5h1M178 209.5h2M181 209.5h1M184 209.5h1M186 209.5h1M20 210.5h1M26 210.5h1M29 210.5h1M31 210.5h1M33 210.5h100M134 210.5h2M137 210.5h6M146 210.5h1M149 210.5h1M151 210.5h2M159 210.5h1M161 210.5h2M164 210.5h1M166 210.5h1M169 210.5h1M175 210.5h1M178 210.5h5M189 210.5h1M191 210.5h1M20 211.5h1M24 211.5h1M30 211.5h97M128 211.5h5M134 211.5h3M141 211.5h2M145 211.5h1M151 211.5h1M154 211.5h1M158 211.5h2M161 211.5h1M166 211.5h2M172 211.5h1M174 211.5h1M176 211.5h1M181 211.5h2M190 211.5h1M20 212.5h1M22 212.5h4M28 212.5h103M132 212.5h3M136 212.5h1M138 212.5h1M145 212.5h2M148 212.5h2M152 212.5h2M155 212.5h3M159 212.5h3M163 212.5h3M169 212.5h3M173 212.5h1M175 212.5h1M177 212.5h1M13 213.5h1M21 213.5h3M26 213.5h94M121 213.5h1M123 213.5h1M126 213.5h5M133 213.5h1M137 213.5h1M140 213.5h1M143 213.5h1M148 213.5h2M156 213.5h1M158 213.5h1M163 213.5h4M169 213.5h1M172 213.5h1M179 213.5h2M186 213.5h1M189 213.5h1M192 213.5h1M17 214.5h1M19 214.5h2M23 214.5h92M116 214.5h3M120 214.5h2M123 214.5h1M126 214.5h1M131 214.5h5M137 214.5h1M143 214.5h4M155 214.5h1M158 214.5h2M164 214.5h1M173 214.5h1M175 214.5h1M12 215.5h1M14 215.5h1M18 215.5h2M21 215.5h78M100 215.5h14M115 215.5h1M117 215.5h1M122 215.5h1M124 215.5h1M129 215.5h2M132 215.5h2M136 215.5h1M139 215.5h3M145 215.5h6M152 215.5h1M156 215.5h1M160 215.5h1M14 216.5h1M20 216.5h86M108 216.5h1M110 216.5h6M117 216.5h1M122 216.5h1M125 216.5h2M130 216.5h4M135 216.5h1M137 216.5h2M141 216.5h1M143 216.5h1M145 216.5h2M148 216.5h2M152 216.5h2M155 216.5h1M169 216.5h1M172 216.5h3M11 217.5h1M17 217.5h1M20 217.5h68M89 217.5h7M97 217.5h4M103 217.5h2M106 217.5h1M108 217.5h2M113 217.5h1M115 217.5h4M122 217.5h1M127 217.5h1M130 217.5h1M132 217.5h3M137 217.5h1M139 217.5h1M148 217.5h1M172 217.5h1M12 218.5h1M14 218.5h1M16 218.5h1M18 218.5h77M97 218.5h1M99 218.5h6M106 218.5h1M113 218.5h1M118 218.5h1M120 218.5h2M123 218.5h2M126 218.5h1M131 218.5h1M135 218.5h3M140 218.5h1M12 219.5h74M87 219.5h5M95 219.5h1M105 219.5h1M109 219.5h2M157 219.5h1M160 219.5h1M10 220.5h1M12 220.5h71M95 220.5h2M107 220.5h1M117 220.5h1M124 220.5h2M131 220.5h1M140 220.5h1M159 220.5h1M8 221.5h1M10 221.5h1M12 221.5h65M80 221.5h1M85 221.5h1M87 221.5h2M90 221.5h5M98 221.5h1M103 221.5h1M106 221.5h1M10 222.5h62M77 222.5h1M80 222.5h1M82 222.5h3M87 222.5h1M89 222.5h3M100 222.5h1M118 222.5h1M126 222.5h1M150 222.5h2M155 222.5h1M7 223.5h1M13 223.5h52M66 223.5h3M72 223.5h2M76 223.5h1M79 223.5h1M82 223.5h1M90 223.5h1M114 223.5h1M8 224.5h1M10 224.5h44M55 224.5h2M58 224.5h1M60 224.5h1M62 224.5h3M67 224.5h1M69 224.5h1M71 224.5h1M74 224.5h1M78 224.5h2M81 224.5h1M83 224.5h1M97 224.5h1M100 224.5h1M6 225.5h2M9 225.5h45M55 225.5h2M58 225.5h1M60 225.5h1M62 225.5h1M65 225.5h1M71 225.5h2M95 225.5h1M8 226.5h41M50 226.5h2M54 226.5h2M57 226.5h1M60 226.5h1M69 226.5h1M87 226.5h1M3 227.5h2M6 227.5h38M45 227.5h1M49 227.5h6M57 227.5h1M62 227.5h1M68 227.5h1M70 227.5h1M6 228.5h37M44 228.5h6M60 228.5h1M63 228.5h1M65 228.5h1M4 229.5h33M39 229.5h1M41 229.5h1M43 229.5h1M45 229.5h1M47 229.5h1M55 229.5h1M63 229.5h1M73 229.5h1M4 230.5h33M39 230.5h1M45 230.5h1M52 230.5h1M61 230.5h1M4 231.5h29M34 231.5h1M36 231.5h2M40 231.5h1M42 231.5h1M48 231.5h1M52 231.5h1M56 231.5h1M66 231.5h1M3 232.5h25M29 232.5h1M31 232.5h1M36 232.5h1M4 233.5h20M25 233.5h2M32 233.5h1M48 233.5h1M3 234.5h19M23 234.5h2M3 235.5h19M23 235.5h1M26 235.5h1M32 235.5h1M2 236.5h1M4 236.5h10M15 236.5h1M20 236.5h3M42 236.5h1M4 237.5h10M16 237.5h3M2 238.5h1M4 238.5h3M8 238.5h1M10 238.5h1M12 238.5h2M15 238.5h3M20 238.5h1M32 238.5h1M2 239.5h1M7 239.5h2M10 239.5h2M9 241.5h1" stroke="#000" stroke-width="1.77" fill="none" filter="url(#b03)"/>
<clipPath id="c2"><rect x="289.5" y="871" width="155.10000000000002" height="158"/></clipPath>
<g clip-path="url(#c2)" filter="url(#b15)">
<polygon points="291.7,1025.4 296.2,1015.9 307.1,1008.7 323.3,1003.3 341.4,1000.6 357.6,999.7 359.4,1005.1 343.2,1011.4 325.1,1016.8 307.1,1022.3 296.2,1025.9" fill="#36095c" />
<polygon points="292.6,1025.0 297.1,1016.4 307.1,1010.5 320.6,1006.5 334.1,1005.6 330.5,1011.4 316.1,1016.8 302.6,1022.3" fill="#a02c5c" />
</g><g clip-path="url(#c2)" filter="url(#b1)">
<polygon points="293.1,1024.5 297.6,1016.8 306.2,1011.9 317.9,1009.2 322.4,1010.5 314.3,1015.9 302.6,1020.9" fill="#e35b2c" />
<polygon points="293.5,1024.2 297.1,1017.7 303.5,1014.1 309.8,1013.2 308.0,1016.8 300.8,1021.4" fill="#fbb318" />
<polygon points="291.3,1025.4 294.4,1019.6 299.4,1016.8 301.2,1018.6 297.1,1023.6" fill="#fcf04a" />
</g>
<polygon points="291.7,1011.0 370.7,985.3 376.1,1001.1 297.1,1026.6" fill="none" stroke="#ff1010" stroke-width="2.2" />
<rect x="289.5" y="871.0" width="155.1" height="158.0" fill="none" stroke="#6e6e6e" stroke-width="1.1"/>
<path d="M301.9 1029v5M313.5 1029v5M325.1 1029v5M336.7 1029v5M348.3 1029v5M359.9 1029v5M371.5 1029v5M383.1 1029v5M394.7 1029v5M406.3 1029v5M417.9 1029v5M429.5 1029v5M441.1 1029v5" fill="none" stroke="#6e6e6e" stroke-width="1.3"/>
<path d="M289.5 1016.4h-4.5M289.5 1004.5h-4.5M289.5 992.6h-4.5M289.5 980.7h-4.5M289.5 968.8h-4.5M289.5 956.9h-4.5M289.5 945.0h-4.5M289.5 933.1h-4.5M289.5 921.2h-4.5M289.5 909.3h-4.5M289.5 897.4h-4.5M289.5 885.5h-4.5M289.5 873.6h-4.5" fill="none" stroke="#6e6e6e" stroke-width="1.3"/>
<path transform="translate(500 869) scale(0.65)" d="M119 83.5h1M116 89.5h1M89 90.5h1M108 91.5h1M100 92.5h1M114 92.5h1M125 93.5h1M100 94.5h1M120 95.5h1M123 95.5h1M129 95.5h1M114 96.5h1M126 96.5h1M128 96.5h1M114 98.5h1M123 98.5h1M108 99.5h1M117 99.5h1M103 100.5h1M113 100.5h1M100 101.5h1M118 101.5h1M127 101.5h2M132 101.5h1M99 102.5h1M120 102.5h1M107 103.5h1M112 103.5h1M116 103.5h1M114 104.5h1M119 104.5h1M122 104.5h2M132 104.5h1M93 105.5h2M102 105.5h1M115 105.5h2M135 105.5h1M96 106.5h1M122 106.5h1M124 106.5h1M73 107.5h1M94 107.5h1M104 107.5h2M112 107.5h1M116 107.5h1M129 107.5h1M85 108.5h1M97 108.5h1M102 108.5h1M108 108.5h1M112 108.5h1M114 108.5h1M120 108.5h1M126 108.5h1M135 108.5h1M139 108.5h1M101 109.5h2M104 109.5h1M131 109.5h1M89 110.5h1M91 110.5h1M116 111.5h1M131 111.5h1M133 111.5h1M100 112.5h1M102 112.5h3M106 112.5h1M193 112.5h1M78 113.5h1M82 113.5h1M84 113.5h1M94 113.5h1M96 113.5h2M100 113.5h1M102 113.5h1M107 113.5h3M99 114.5h1M105 114.5h1M113 114.5h2M119 114.5h1M124 114.5h2M130 114.5h1M133 114.5h1M92 115.5h1M97 115.5h2M102 115.5h1M110 115.5h1M113 115.5h2M121 115.5h1M132 115.5h1M138 115.5h1M93 116.5h1M95 116.5h3M99 116.5h3M120 116.5h1M190 116.5h1M84 117.5h1M90 117.5h2M95 117.5h1M98 117.5h3M102 117.5h1M110 117.5h1M114 117.5h1M123 117.5h1M129 117.5h1M131 117.5h1M191 117.5h1M80 118.5h1M89 118.5h3M95 118.5h1M99 118.5h1M102 118.5h1M120 118.5h2M188 118.5h1M84 119.5h1M89 119.5h4M94 119.5h2M97 119.5h3M101 119.5h1M104 119.5h2M108 119.5h1M110 119.5h1M114 119.5h1M122 119.5h1M72 120.5h1M92 120.5h1M96 120.5h1M99 120.5h3M103 120.5h1M105 120.5h1M107 120.5h1M132 120.5h1M198 120.5h1M89 121.5h1M92 121.5h1M94 121.5h4M102 121.5h1M105 121.5h1M108 121.5h1M111 121.5h1M126 121.5h1M191 121.5h1M194 121.5h1M83 122.5h1M94 122.5h1M96 122.5h4M102 122.5h1M106 122.5h3M116 122.5h1M131 122.5h1M82 123.5h2M88 123.5h2M93 123.5h1M97 123.5h2M101 123.5h1M111 123.5h1M115 123.5h1M121 123.5h1M169 123.5h1M73 124.5h1M88 124.5h4M94 124.5h1M97 124.5h1M99 124.5h1M101 124.5h1M103 124.5h2M108 124.5h1M114 124.5h1M116 124.5h1M130 124.5h1M196 124.5h1M90 125.5h2M94 125.5h2M101 125.5h1M103 125.5h3M135 125.5h1M138 125.5h1M90 126.5h1M94 126.5h1M96 126.5h1M99 126.5h2M104 126.5h4M110 126.5h1M112 126.5h1M118 126.5h1M121 126.5h1M132 126.5h1M83 127.5h1M87 127.5h1M93 127.5h1M95 127.5h2M99 127.5h1M101 127.5h1M105 127.5h2M110 127.5h1M115 127.5h1M126 127.5h1M158 127.5h1M161 127.5h1M165 127.5h1M90 128.5h1M92 128.5h2M95 128.5h1M98 128.5h1M100 128.5h2M105 128.5h1M108 128.5h1M112 128.5h1M115 128.5h1M160 128.5h1M170 128.5h1M175 128.5h1M92 129.5h2M97 129.5h1M100 129.5h1M102 129.5h1M106 129.5h1M111 129.5h1M123 129.5h1M125 129.5h1M175 129.5h1M196 129.5h1M91 130.5h1M97 130.5h2M102 130.5h1M104 130.5h2M107 130.5h1M109 130.5h1M112 130.5h1M117 130.5h1M124 130.5h1M85 131.5h1M91 131.5h2M95 131.5h1M98 131.5h2M108 131.5h1M164 131.5h1M88 132.5h1M99 132.5h1M104 132.5h2M110 132.5h1M120 132.5h1M126 132.5h1M128 132.5h1M130 132.5h1M99 133.5h1M101 133.5h1M103 133.5h1M193 133.5h1M95 134.5h2M99 134.5h1M101 134.5h1M109 134.5h1M120 134.5h1M179 134.5h1M95 135.5h1M98 135.5h2M106 135.5h1M108 135.5h1M89 136.5h1M92 136.5h1M97 136.5h1M100 136.5h1M123 136.5h1M153 136.5h1M185 136.5h2M103 137.5h1M167 137.5h1M185 137.5h1M96 138.5h1M108 138.5h1M119 138.5h1M126 138.5h1M156 138.5h1M117 139.5h1M151 139.5h1M74 140.5h1M125 140.5h1M88 141.5h1M172 141.5h1M83 142.5h1M91 142.5h1M99 142.5h1M103 143.5h1M109 144.5h1M94 146.5h1M64 147.5h1M66 149.5h1M60 152.5h1M74 152.5h1M73 155.5h1M95 156.5h1M55 157.5h1M91 157.5h1M46 158.5h1M88 158.5h1M80 159.5h1M92 159.5h1M82 160.5h1M90 160.5h1M98 160.5h1M61 161.5h1M41 162.5h1M70 162.5h1M92 162.5h1M60 163.5h1M62 163.5h1M67 163.5h1M73 164.5h1M92 164.5h1M96 164.5h1M46 166.5h2M64 167.5h1M87 167.5h1M47 170.5h1M51 170.5h1M80 170.5h1M40 171.5h1M48 171.5h1M52 171.5h1M65 174.5h1M72 175.5h1M37 176.5h1M70 176.5h1M97 176.5h1M96 177.5h1M41 178.5h1M71 178.5h1M100 178.5h1M72 180.5h1M75 180.5h1M67 181.5h1M101 181.5h1M48 182.5h1M63 182.5h1M108 182.5h1M49 183.5h1M76 183.5h1M74 184.5h1M80 184.5h1M87 184.5h1M95 184.5h1M100 184.5h1M72 185.5h1M90 185.5h1M28 186.5h1M89 186.5h1M93 186.5h1M31 187.5h1M54 188.5h2M66 188.5h1M70 188.5h1M74 188.5h1M76 188.5h1M82 188.5h1M85 188.5h1M90 188.5h1M92 188.5h1M116 188.5h1M29 189.5h1M71 189.5h2M77 189.5h1M93 189.5h1M116 189.5h1M32 190.5h1M38 190.5h1M44 190.5h1M46 190.5h1M51 190.5h1M65 190.5h1M71 190.5h1M76 190.5h1M79 190.5h1M82 190.5h1M87 190.5h1M94 190.5h1M98 190.5h1M119 190.5h1M24 191.5h1M27 191.5h1M34 191.5h1M47 191.5h1M71 191.5h1M79 191.5h1M90 191.5h1M98 191.5h1M100 191.5h1M116 191.5h1M21 192.5h1M32 192.5h1M34 192.5h1M40 192.5h1M44 192.5h1M48 192.5h1M58 192.5h1M60 192.5h1M63 192.5h1M65 192.5h1M67 192.5h1M70 192.5h1M76 192.5h1M80 192.5h1M86 192.5h1M88 192.5h2M96 192.5h1M26 193.5h1M28 193.5h2M33 193.5h1M35 193.5h1M37 193.5h6M57 193.5h1M59 193.5h1M64 193.5h1M68 193.5h1M72 193.5h1M79 193.5h1M26 194.5h1M29 194.5h1M31 194.5h1M34 194.5h1M36 194.5h1M39 194.5h1M42 194.5h2M46 194.5h1M49 194.5h1M56 194.5h1M67 194.5h1M71 194.5h1M73 194.5h1M78 194.5h1M82 194.5h1M84 194.5h1M86 194.5h1M96 194.5h2M107 194.5h1M111 194.5h1M113 194.5h1M16 195.5h1M18 195.5h1M21 195.5h1M27 195.5h4M32 195.5h1M34 195.5h1M38 195.5h2M41 195.5h1M43 195.5h3M47 195.5h1M49 195.5h1M51 195.5h1M59 195.5h1M63 195.5h1M66 195.5h1M68 195.5h1M73 195.5h3M82 195.5h1M87 195.5h1M100 195.5h1M22 196.5h3M26 196.5h1M29 196.5h5M35 196.5h7M43 196.5h3M48 196.5h1M58 196.5h1M61 196.5h1M65 196.5h3M69 196.5h1M71 196.5h1M79 196.5h1M84 196.5h1M87 196.5h1M89 196.5h1M107 196.5h1M117 196.5h1M21 197.5h2M27 197.5h14M42 197.5h2M47 197.5h1M50 197.5h1M52 197.5h1M54 197.5h2M60 197.5h2M63 197.5h2M66 197.5h1M69 197.5h1M71 197.5h3M81 197.5h1M87 197.5h1M94 197.5h1M20 198.5h3M25 198.5h15M41 198.5h4M46 198.5h2M49 198.5h4M55 198.5h1M58 198.5h1M63 198.5h1M72 198.5h2M75 198.5h2M82 198.5h1M84 198.5h2M88 198.5h1M104 198.5h1M117 198.5h1M21 199.5h1M23 199.5h2M26 199.5h22M50 199.5h1M55 199.5h2M61 199.5h1M68 199.5h2M74 199.5h1M76 199.5h2M79 199.5h2M83 199.5h1M88 199.5h1M93 199.5h1M105 199.5h1M109 199.5h1M18 200.5h2M21 200.5h3M25 200.5h21M47 200.5h4M53 200.5h1M55 200.5h3M59 200.5h2M62 200.5h3M74 200.5h3M80 200.5h1M84 200.5h1M96 200.5h2M101 200.5h1M10 201.5h1M20 201.5h1M23 201.5h2M26 201.5h24M51 201.5h1M53 201.5h2M56 201.5h1M58 201.5h3M64 201.5h1M67 201.5h1M69 201.5h6M76 201.5h4M81 201.5h1M89 201.5h1M97 201.5h1M100 201.5h2M104 201.5h1M106 201.5h1M109 201.5h1M20 202.5h2M23 202.5h1M25 202.5h25M51 202.5h1M54 202.5h2M58 202.5h1M60 202.5h1M62 202.5h5M68 202.5h2M71 202.5h2M80 202.5h3M84 202.5h4M92 202.5h1M17 203.5h1M20 203.5h29M50 203.5h2M53 203.5h1M58 203.5h2M61 203.5h1M64 203.5h7M72 203.5h1M74 203.5h6M82 203.5h3M86 203.5h2M90 203.5h2M93 203.5h1M109 203.5h1M15 204.5h1M18 204.5h2M23 204.5h28M52 204.5h1M57 204.5h1M59 204.5h2M63 204.5h7M73 204.5h3M77 204.5h2M80 204.5h1M85 204.5h1M87 204.5h2M110 204.5h1M12 205.5h1M19 205.5h2M22 205.5h28M53 205.5h1M59 205.5h6M66 205.5h1M69 205.5h2M73 205.5h4M82 205.5h2M87 205.5h3M101 205.5h1M105 205.5h1M109 205.5h1M17 206.5h1M20 206.5h2M23 206.5h28M60 206.5h1M62 206.5h3M66 206.5h1M68 206.5h2M72 206.5h3M77 206.5h5M83 206.5h2M86 206.5h3M94 206.5h1M17 207.5h2M20 207.5h32M53 207.5h3M59 207.5h1M61 207.5h1M63 207.5h1M65 207.5h1M67 207.5h1M69 207.5h1M74 207.5h1M79 207.5h2M82 207.5h2M85 207.5h3M92 207.5h1M109 207.5h1M111 207.5h2M20 208.5h32M54 208.5h1M56 208.5h1M58 208.5h4M63 208.5h3M67 208.5h1M70 208.5h2M73 208.5h5M79 208.5h2M82 208.5h1M88 208.5h1M99 208.5h1M102 208.5h1M108 208.5h1M16 209.5h1M19 209.5h38M58 209.5h3M62 209.5h3M69 209.5h2M72 209.5h1M74 209.5h3M79 209.5h1M81 209.5h1M83 209.5h2M88 209.5h1M91 209.5h1M96 209.5h1M117 209.5h1M10 210.5h1M16 210.5h4M21 210.5h33M57 210.5h1M59 210.5h1M61 210.5h1M63 210.5h1M65 210.5h1M68 210.5h3M72 210.5h4M77 210.5h1M79 210.5h1M81 210.5h1M83 210.5h3M90 210.5h1M98 210.5h1M107 210.5h3M15 211.5h1M17 211.5h1M19 211.5h32M52 211.5h5M60 211.5h2M63 211.5h1M65 211.5h3M73 211.5h1M75 211.5h1M78 211.5h1M82 211.5h1M84 211.5h1M86 211.5h1M88 211.5h1M92 211.5h1M94 211.5h1M115 211.5h1M123 211.5h1M17 212.5h2M21 212.5h34M57 212.5h1M59 212.5h1M62 212.5h5M69 212.5h1M72 212.5h1M77 212.5h1M79 212.5h3M83 212.5h3M102 212.5h2M12 213.5h1M14 213.5h1M16 213.5h1M20 213.5h35M59 213.5h2M64 213.5h1M66 213.5h1M68 213.5h1M70 213.5h1M73 213.5h2M77 213.5h1M79 213.5h2M82 213.5h1M84 213.5h1M88 213.5h2M102 213.5h1M17 214.5h2M20 214.5h33M55 214.5h3M59 214.5h1M62 214.5h1M65 214.5h1M68 214.5h1M70 214.5h1M74 214.5h6M81 214.5h1M88 214.5h2M19 215.5h34M55 215.5h1M58 215.5h2M61 215.5h1M63 215.5h1M69 215.5h1M71 215.5h5M77 215.5h1M79 215.5h1M87 215.5h1M89 215.5h1M98 215.5h1M101 215.5h1M110 215.5h1M17 216.5h1M20 216.5h30M51 216.5h2M55 216.5h2M58 216.5h3M67 216.5h1M72 216.5h1M74 216.5h1M76 216.5h1M79 216.5h1M85 216.5h1M87 216.5h1M99 216.5h1M109 216.5h1M13 217.5h1M16 217.5h2M19 217.5h33M54 217.5h3M58 217.5h3M62 217.5h2M65 217.5h1M67 217.5h1M69 217.5h3M73 217.5h1M76 217.5h1M78 217.5h1M85 217.5h2M91 217.5h1M15 218.5h1M21 218.5h31M54 218.5h1M59 218.5h2M63 218.5h1M65 218.5h2M68 218.5h1M71 218.5h1M75 218.5h2M80 218.5h1M85 218.5h2M96 218.5h1M15 219.5h4M20 219.5h36M57 219.5h1M61 219.5h1M67 219.5h1M69 219.5h1M74 219.5h1M77 219.5h2M81 219.5h1M85 219.5h1M87 219.5h1M106 219.5h1M13 220.5h2M16 220.5h1M22 220.5h29M52 220.5h3M63 220.5h1M69 220.5h1M73 220.5h1M19 221.5h1M21 221.5h31M59 221.5h1M62 221.5h1M70 221.5h1M73 221.5h1M78 221.5h2M84 221.5h1M94 221.5h1M96 221.5h1M15 222.5h1M18 222.5h2M22 222.5h28M51 222.5h1M58 222.5h1M62 222.5h1M65 222.5h1M81 222.5h1M104 222.5h1M12 223.5h1M16 223.5h2M19 223.5h31M51 223.5h3M55 223.5h1M57 223.5h1M59 223.5h2M69 223.5h1M71 223.5h2M111 223.5h1M17 224.5h1M22 224.5h29M52 224.5h1M63 224.5h1M69 224.5h1M78 224.5h1M80 224.5h2M83 224.5h1M104 224.5h1M20 225.5h1M24 225.5h24M52 225.5h1M54 225.5h1M64 225.5h1M69 225.5h1M91 225.5h1M19 226.5h1M22 226.5h1M24 226.5h24M49 226.5h2M52 226.5h1M61 226.5h2M79 226.5h1M88 226.5h1M20 227.5h1M24 227.5h1M26 227.5h20M47 227.5h4M52 227.5h1M55 227.5h1M65 227.5h1M90 227.5h1M24 228.5h2M28 228.5h17M46 228.5h1M48 228.5h4M73 228.5h1M18 229.5h1M23 229.5h1M25 229.5h1M27 229.5h15M45 229.5h2M48 229.5h1M50 229.5h1M57 229.5h1M18 230.5h1M25 230.5h1M27 230.5h5M34 230.5h1M36 230.5h3M40 230.5h2M43 230.5h2M49 230.5h2M53 230.5h1M91 230.5h1M16 231.5h1M24 231.5h5M30 231.5h6M37 231.5h1M39 231.5h3M43 231.5h5M21 232.5h1M27 232.5h2M30 232.5h3M34 232.5h5M45 232.5h2M72 232.5h1M30 233.5h6M37 233.5h4M45 233.5h1M49 233.5h1M26 234.5h1M30 234.5h3M35 234.5h1M37 234.5h2M41 234.5h1M43 234.5h1M45 234.5h1M37 235.5h2M47 235.5h1M27 236.5h1M34 236.5h2M38 236.5h1M40 236.5h2M40 237.5h1M46 237.5h1M25 239.5h1M34 240.5h1M32 241.5h1M39 245.5h1" stroke="#000" stroke-width="1.77" fill="none" filter="url(#b03)"/>
<g filter="url(#b1)">
<ellipse cx="523.2" cy="1008.0" rx="8.8" ry="9.2" fill="#2d0a54" transform="rotate(0 523.2 1008.0)" />
<ellipse cx="523.2" cy="1008.0" rx="6.6" ry="6.9" fill="#8b2268" transform="rotate(0 523.2 1008.0)" />
<ellipse cx="522.9" cy="1008.0" rx="5.2" ry="5.4" fill="#e55c2a" transform="rotate(0 522.9 1008.0)" />
<ellipse cx="522.7" cy="1008.0" rx="3.7" ry="3.9" fill="#fcb216" transform="rotate(0 522.7 1008.0)" />
<ellipse cx="522.6" cy="1008.0" rx="2.2" ry="2.4" fill="#fcf26a" transform="rotate(0 522.6 1008.0)" />
</g>
<rect x="552.2" y="901.2" width="67.4" height="65.1" fill="none" stroke="#ff1010" stroke-width="2.2"/>
<rect x="537.0" y="986.3" width="107.4" height="37.2" fill="none" stroke="#1b6fc4" stroke-width="3.2"/>
<text x="556.4" y="892.5" font-size="25" textLength="58.5" lengthAdjust="spacingAndGlyphs">WBC</text>
<text x="566.2" y="1013.7" font-size="25.4" textLength="49.6" lengthAdjust="spacingAndGlyphs">RBC</text>
<rect x="500.3" y="869.4" width="155.2" height="158.9" fill="none" stroke="#6e6e6e" stroke-width="1.1"/>
<rect x="516.6" y="1028.8" width="3.4" height="4.2" fill="#4a4a4a"/>
<path d="M501.8 1028.3v4M509.0 1028.3v3.6M510.7 1028.3v3.6M512.4 1028.3v3.6M514.1 1028.3v3.6M515.8 1028.3v3.6M517.5 1028.3v3.6M519.2 1028.3v3.6M520.9 1028.3v3.6M522.6 1028.3v3.6M524.3 1028.3v3.6M526.0 1028.3v3.6M527.7 1028.3v3.6M561.1 1028.3v6M572.8 1028.3v3.4M579.6 1028.3v3.4M584.5 1028.3v3.4M588.2 1028.3v3.4M591.3 1028.3v3.4M593.9 1028.3v3.4M596.1 1028.3v3.4M598.1 1028.3v3.4M599.9 1028.3v6M611.6 1028.3v3.4M618.4 1028.3v3.4M623.3 1028.3v3.4M627.0 1028.3v3.4M630.1 1028.3v3.4M632.7 1028.3v3.4M634.9 1028.3v3.4M636.9 1028.3v3.4M638.7 1028.3v6M650.4 1028.3v3.4" fill="none" stroke="#4a4a4a" stroke-width="1.1"/>
<rect x="495.3" y="1010.5" width="4.2" height="3.2" fill="#4a4a4a"/>
<path d="M500.3 999.0h-3.6M500.3 1000.8h-3.6M500.3 1002.6h-3.6M500.3 1004.4h-3.6M500.3 1006.2h-3.6M500.3 1008.0h-3.6M500.3 1009.8h-3.6M500.3 1011.6h-3.6M500.3 1013.4h-3.6M500.3 1015.2h-3.6M500.3 1017.0h-3.6M500.3 1018.8h-3.6M500.3 1020.6h-3.6M500.3 1027.0h-5M500.3 998.7h-6M500.3 988.5h-3.4M500.3 982.5h-3.4M500.3 978.2h-3.4M500.3 974.9h-3.4M500.3 972.2h-3.4M500.3 970.0h-3.4M500.3 968.0h-3.4M500.3 966.3h-3.4M500.3 964.7h-6M500.3 953.1h-3.4M500.3 946.2h-3.4M500.3 941.4h-3.4M500.3 937.6h-3.4M500.3 934.6h-3.4M500.3 932.0h-3.4M500.3 929.8h-3.4M500.3 927.8h-3.4M500.3 926.0h-6M500.3 914.0h-3.4M500.3 907.0h-3.4M500.3 902.0h-3.4M500.3 898.2h-3.4M500.3 895.0h-3.4M500.3 892.4h-3.4M500.3 890.1h-3.4M500.3 888.0h-3.4M500.3 886.2h-6M500.3 876.0h-3.4" fill="none" stroke="#4a4a4a" stroke-width="1.1"/>
<path transform="translate(93 1113) scale(0.65)" d="M76 198.5h1M86 198.5h1M75 199.5h2M78 199.5h2M78 200.5h4M84 200.5h1M86 200.5h1M89 200.5h1M65 201.5h1M76 201.5h2M75 202.5h1M81 202.5h1M77 203.5h1M79 203.5h2M83 203.5h1M94 203.5h1M98 203.5h1M106 203.5h1M57 204.5h1M70 204.5h2M74 204.5h4M79 204.5h5M85 204.5h1M58 205.5h1M64 205.5h1M66 205.5h3M71 205.5h1M73 205.5h3M77 205.5h1M82 205.5h3M88 205.5h1M98 205.5h1M203 205.5h1M55 206.5h1M57 206.5h1M59 206.5h1M63 206.5h2M67 206.5h6M74 206.5h1M76 206.5h1M78 206.5h4M88 206.5h2M45 207.5h1M51 207.5h2M60 207.5h2M67 207.5h1M70 207.5h1M72 207.5h1M76 207.5h11M90 207.5h1M95 207.5h1M98 207.5h1M49 208.5h2M52 208.5h1M55 208.5h1M57 208.5h3M62 208.5h26M89 208.5h1M91 208.5h2M197 208.5h1M202 208.5h2M51 209.5h3M56 209.5h1M58 209.5h3M62 209.5h2M65 209.5h24M90 209.5h3M44 210.5h1M52 210.5h4M58 210.5h2M61 210.5h26M88 210.5h1M90 210.5h1M92 210.5h1M96 210.5h1M41 211.5h1M49 211.5h1M52 211.5h1M54 211.5h2M58 211.5h2M61 211.5h31M94 211.5h1M97 211.5h1M112 211.5h1M51 212.5h2M54 212.5h2M57 212.5h33M91 212.5h1M94 212.5h1M47 213.5h2M50 213.5h1M52 213.5h6M59 213.5h30M90 213.5h1M92 213.5h1M197 213.5h1M205 213.5h1M207 213.5h1M45 214.5h1M47 214.5h3M51 214.5h2M54 214.5h36M91 214.5h2M96 214.5h1M194 214.5h1M196 214.5h1M46 215.5h2M50 215.5h1M52 215.5h37M91 215.5h1M192 215.5h1M196 215.5h1M204 215.5h2M43 216.5h1M47 216.5h1M49 216.5h3M53 216.5h38M95 216.5h1M38 217.5h1M43 217.5h2M47 217.5h44M189 217.5h1M35 218.5h1M39 218.5h1M42 218.5h3M46 218.5h44M94 218.5h1M97 218.5h1M107 218.5h1M35 219.5h1M40 219.5h1M42 219.5h1M44 219.5h46M91 219.5h1M38 220.5h1M40 220.5h3M44 220.5h1M46 220.5h43M90 220.5h1M109 220.5h1M195 220.5h1M32 221.5h1M35 221.5h1M40 221.5h2M43 221.5h48M197 221.5h1M31 222.5h1M34 222.5h2M38 222.5h1M40 222.5h46M87 222.5h1M89 222.5h1M118 222.5h1M190 222.5h1M36 223.5h1M38 223.5h1M42 223.5h42M86 223.5h3M31 224.5h2M36 224.5h47M84 224.5h2M89 224.5h1M33 225.5h1M35 225.5h1M37 225.5h1M39 225.5h49M91 225.5h1M35 226.5h3M40 226.5h43M84 226.5h2M195 226.5h1M205 226.5h1M34 227.5h1M38 227.5h42M81 227.5h2M93 227.5h1M204 227.5h1M33 228.5h4M38 228.5h44M87 228.5h1M28 229.5h1M32 229.5h2M35 229.5h2M38 229.5h43M83 229.5h2M204 229.5h1M31 230.5h1M34 230.5h45M80 230.5h2M83 230.5h1M32 231.5h2M35 231.5h44M80 231.5h1M31 232.5h1M33 232.5h1M36 232.5h38M75 232.5h1M80 232.5h3M84 232.5h1M36 233.5h38M76 233.5h2M27 234.5h1M34 234.5h1M36 234.5h36M75 234.5h2M79 234.5h1M88 234.5h1M32 235.5h36M69 235.5h4M76 235.5h1M78 235.5h1M30 236.5h1M35 236.5h33M69 236.5h5M31 237.5h1M37 237.5h31M69 237.5h3M80 237.5h1M33 238.5h30M64 238.5h1M67 238.5h2M76 238.5h1M32 239.5h1M34 239.5h23M58 239.5h7M66 239.5h1M22 240.5h1M31 240.5h1M34 240.5h2M38 240.5h18M57 240.5h1M61 240.5h1M65 240.5h1M28 241.5h1M34 241.5h3M39 241.5h1M41 241.5h9M51 241.5h2M54 241.5h3M60 241.5h1M63 241.5h2M69 241.5h1M28 242.5h1M38 242.5h1M40 242.5h1M42 242.5h1M44 242.5h1M47 242.5h6M57 242.5h1M59 242.5h1M61 242.5h1M37 243.5h1M40 243.5h4M46 243.5h2M51 243.5h1M54 243.5h2M57 243.5h1M66 243.5h1M38 244.5h1M45 244.5h1M49 244.5h1M53 244.5h1M64 244.5h1M70 244.5h1M40 245.5h1M51 245.5h1M61 245.5h1M39 246.5h1M46 246.5h1M54 246.5h1M56 246.5h1M35 247.5h1M54 247.5h2M63 247.5h1M31 248.5h1M51 248.5h1M39 249.5h1M42 249.5h1" stroke="#000" stroke-width="1.77" fill="none" filter="url(#b03)"/>
<ellipse cx="134.6" cy="1259.0" rx="17.6" ry="7.4" fill="#00008f" transform="rotate(-27 134.6 1259.0)" />
<ellipse cx="133.1" cy="1260.0" rx="15.2" ry="6.3" fill="#0000ff" transform="rotate(-27 133.1 1260.0)" />
<ellipse cx="131.6" cy="1261.0" rx="11.9" ry="5.5" fill="#0070ff" transform="rotate(-27 131.6 1261.0)" />
<ellipse cx="130.6" cy="1261.5" rx="9.5" ry="4.8" fill="#00d0ff" transform="rotate(-27 130.6 1261.5)" />
<ellipse cx="130.3" cy="1261.7" rx="8.1" ry="4.1" fill="#40ffc0" transform="rotate(-27 130.3 1261.7)" />
<ellipse cx="130.2" cy="1261.8" rx="6.9" ry="3.5" fill="#b0ff50" transform="rotate(-27 130.2 1261.8)" />
<ellipse cx="130.1" cy="1261.9" rx="5.7" ry="3.0" fill="#ffe000" transform="rotate(-27 130.1 1261.9)" />
<ellipse cx="130.1" cy="1262.0" rx="4.8" ry="2.6" fill="#ff8000" transform="rotate(-27 130.1 1262.0)" />
<ellipse cx="130.1" cy="1262.0" rx="3.6" ry="1.9" fill="#ff0000" transform="rotate(-27 130.1 1262.0)" />
<rect x="147.4" y="1216.4" width="98.6" height="61.2" fill="none" stroke="#bb4040" stroke-width="2.7"/>
<rect x="93.1" y="1113.0" width="175.1" height="174.1" fill="none" stroke="#6e6e6e" stroke-width="1.1"/>
<rect x="118.5" y="1287.6" width="3.4" height="4.2" fill="#4a4a4a"/>
<path d="M94.6 1287.1v4M104.3 1287.1v3.6M106.0 1287.1v3.6M107.7 1287.1v3.6M109.4 1287.1v3.6M111.1 1287.1v3.6M112.8 1287.1v3.6M114.5 1287.1v3.6M116.2 1287.1v3.6M117.9 1287.1v3.6M119.6 1287.1v3.6M121.3 1287.1v3.6M123.0 1287.1v3.6M124.7 1287.1v3.6M126.4 1287.1v3.6M128.1 1287.1v3.6M129.8 1287.1v3.6M131.5 1287.1v3.6M133.2 1287.1v3.6M134.9 1287.1v3.6M136.6 1287.1v3.6M147.1 1287.1v3.4M154.8 1287.1v3.4M160.2 1287.1v3.4M164.5 1287.1v3.4M167.9 1287.1v3.4M170.8 1287.1v3.4M173.4 1287.1v3.4M175.6 1287.1v3.4M177.6 1287.1v6M190.7 1287.1v3.4M198.4 1287.1v3.4M203.8 1287.1v3.4M208.1 1287.1v3.4M211.5 1287.1v3.4M214.4 1287.1v3.4M217.0 1287.1v3.4M219.2 1287.1v3.4M221.2 1287.1v6M234.3 1287.1v3.4M242.0 1287.1v3.4M247.4 1287.1v3.4M251.7 1287.1v3.4M255.1 1287.1v3.4M258.0 1287.1v3.4M260.6 1287.1v3.4M262.8 1287.1v3.4M264.9 1287.1v6" fill="none" stroke="#4a4a4a" stroke-width="1.1"/>
<rect x="88.1" y="1263.5" width="4.2" height="3.2" fill="#4a4a4a"/>
<path d="M93.1 1255.0h-3.6M93.1 1256.8h-3.6M93.1 1258.6h-3.6M93.1 1260.4h-3.6M93.1 1262.2h-3.6M93.1 1264.0h-3.6M93.1 1265.8h-3.6M93.1 1267.6h-3.6M93.1 1269.4h-3.6M93.1 1277.0h-5M93.1 1254.2h-6M93.1 1243.1h-3.4M93.1 1236.6h-3.4M93.1 1232.0h-3.4M93.1 1228.5h-3.4M93.1 1225.6h-3.4M93.1 1223.1h-3.4M93.1 1221.0h-3.4M93.1 1219.1h-3.4M93.1 1217.4h-6M93.1 1204.5h-3.4M93.1 1197.0h-3.4M93.1 1191.7h-3.4M93.1 1187.6h-3.4M93.1 1184.2h-3.4M93.1 1181.3h-3.4M93.1 1178.8h-3.4M93.1 1176.7h-3.4M93.1 1174.7h-6M93.1 1161.7h-3.4M93.1 1154.0h-3.4M93.1 1148.6h-3.4M93.1 1144.4h-3.4M93.1 1141.0h-3.4M93.1 1138.1h-3.4M93.1 1135.6h-3.4M93.1 1133.4h-3.4M93.1 1131.4h-6M93.1 1120.3h-3.4" fill="none" stroke="#4a4a4a" stroke-width="1.1"/>
<text x="105.8" y="1141.5" font-size="25.5" textLength="27.5" lengthAdjust="spacingAndGlyphs">0d</text>
<text x="166.0" y="1209.0" font-size="25.5" textLength="69.0" lengthAdjust="spacingAndGlyphs">0.24%</text>
<path transform="translate(284 1112) scale(0.65)" d="M174 148.5h1M173 149.5h1M177 150.5h1M171 152.5h1M167 153.5h1M173 154.5h1M175 155.5h2M164 156.5h1M166 156.5h1M169 156.5h1M171 156.5h1M174 156.5h1M178 156.5h1M181 156.5h2M160 157.5h1M166 157.5h1M170 157.5h1M183 157.5h1M151 158.5h1M161 158.5h1M168 158.5h1M170 158.5h1M172 158.5h1M174 158.5h2M182 158.5h1M188 158.5h1M152 159.5h1M163 159.5h2M167 159.5h4M177 159.5h1M158 160.5h3M163 160.5h2M167 160.5h1M170 160.5h3M174 160.5h1M161 161.5h2M167 161.5h2M174 161.5h2M160 162.5h1M163 162.5h1M165 162.5h1M167 162.5h1M169 162.5h1M171 162.5h1M174 162.5h1M178 162.5h2M158 163.5h1M162 163.5h3M167 163.5h1M172 163.5h1M176 163.5h1M179 163.5h1M153 164.5h1M155 164.5h1M157 164.5h1M159 164.5h3M165 164.5h2M169 164.5h1M178 164.5h1M149 165.5h1M151 165.5h1M153 165.5h3M158 165.5h1M162 165.5h1M164 165.5h2M169 165.5h1M173 165.5h1M175 165.5h1M140 166.5h1M159 166.5h6M166 166.5h1M168 166.5h2M172 166.5h1M147 167.5h3M151 167.5h1M153 167.5h5M159 167.5h1M163 167.5h1M165 167.5h1M170 167.5h2M173 167.5h1M145 168.5h1M151 168.5h2M156 168.5h1M158 168.5h1M171 168.5h1M173 168.5h1M150 169.5h2M153 169.5h1M160 169.5h2M163 169.5h2M168 169.5h1M170 169.5h2M173 169.5h1M219 169.5h1M133 170.5h1M141 170.5h1M143 170.5h2M146 170.5h1M148 170.5h1M155 170.5h1M159 170.5h1M163 170.5h1M165 170.5h1M167 170.5h1M169 170.5h2M136 171.5h1M143 171.5h1M148 171.5h1M150 171.5h2M153 171.5h1M155 171.5h2M158 171.5h3M162 171.5h3M167 171.5h4M173 171.5h1M144 172.5h1M149 172.5h1M155 172.5h4M160 172.5h1M163 172.5h1M166 172.5h1M170 172.5h1M174 172.5h1M141 173.5h2M146 173.5h1M148 173.5h1M150 173.5h4M155 173.5h1M158 173.5h1M164 173.5h1M166 173.5h1M174 173.5h1M140 174.5h1M143 174.5h3M147 174.5h1M149 174.5h1M151 174.5h3M155 174.5h3M159 174.5h2M163 174.5h1M214 174.5h1M109 175.5h1M111 175.5h1M145 175.5h2M148 175.5h11M160 175.5h1M163 175.5h2M166 175.5h3M170 175.5h1M191 175.5h1M204 175.5h1M225 175.5h1M124 176.5h1M128 176.5h2M141 176.5h1M146 176.5h14M161 176.5h1M164 176.5h2M168 176.5h1M181 176.5h1M183 176.5h2M226 176.5h1M100 177.5h1M103 177.5h1M114 177.5h2M124 177.5h1M126 177.5h1M134 177.5h1M136 177.5h1M138 177.5h2M141 177.5h4M146 177.5h4M152 177.5h8M161 177.5h2M164 177.5h1M166 177.5h1M170 177.5h1M96 178.5h1M128 178.5h1M130 178.5h1M132 178.5h1M134 178.5h1M144 178.5h2M148 178.5h2M152 178.5h5M159 178.5h1M161 178.5h2M164 178.5h1M93 179.5h1M95 179.5h1M110 179.5h1M112 179.5h1M115 179.5h2M118 179.5h1M128 179.5h1M133 179.5h2M139 179.5h2M143 179.5h2M146 179.5h13M160 179.5h1M162 179.5h1M164 179.5h2M171 179.5h1M180 179.5h1M207 179.5h1M73 180.5h1M99 180.5h1M127 180.5h2M131 180.5h1M137 180.5h1M140 180.5h1M142 180.5h2M145 180.5h3M150 180.5h6M157 180.5h1M159 180.5h3M163 180.5h1M166 180.5h1M168 180.5h1M194 180.5h1M200 180.5h1M202 180.5h1M218 180.5h1M87 181.5h1M102 181.5h1M111 181.5h1M117 181.5h2M121 181.5h1M126 181.5h1M130 181.5h1M132 181.5h4M139 181.5h1M141 181.5h6M149 181.5h9M160 181.5h3M164 181.5h3M175 181.5h1M231 181.5h1M110 182.5h1M117 182.5h1M122 182.5h2M128 182.5h1M132 182.5h1M135 182.5h2M138 182.5h2M141 182.5h1M143 182.5h1M146 182.5h3M151 182.5h6M158 182.5h2M161 182.5h1M175 182.5h1M61 183.5h1M70 183.5h1M82 183.5h1M92 183.5h1M99 183.5h1M113 183.5h1M120 183.5h1M123 183.5h1M125 183.5h2M128 183.5h1M130 183.5h2M133 183.5h3M137 183.5h4M142 183.5h14M158 183.5h1M160 183.5h1M165 183.5h1M172 183.5h1M57 184.5h1M103 184.5h1M118 184.5h1M120 184.5h1M123 184.5h1M132 184.5h2M135 184.5h2M138 184.5h2M141 184.5h1M143 184.5h4M148 184.5h2M151 184.5h2M154 184.5h1M157 184.5h2M160 184.5h1M162 184.5h1M215 184.5h1M46 185.5h1M89 185.5h1M91 185.5h1M98 185.5h1M110 185.5h1M118 185.5h1M120 185.5h2M125 185.5h1M127 185.5h2M130 185.5h5M136 185.5h3M141 185.5h1M143 185.5h10M154 185.5h1M158 185.5h1M163 185.5h1M165 185.5h1M168 185.5h2M190 185.5h1M61 186.5h1M68 186.5h1M76 186.5h1M84 186.5h2M100 186.5h1M107 186.5h1M110 186.5h2M117 186.5h2M121 186.5h3M125 186.5h3M129 186.5h1M131 186.5h2M134 186.5h13M149 186.5h3M153 186.5h3M158 186.5h1M160 186.5h1M162 186.5h2M177 186.5h1M187 186.5h1M230 186.5h1M53 187.5h1M57 187.5h1M81 187.5h1M86 187.5h1M99 187.5h1M108 187.5h1M112 187.5h1M115 187.5h2M118 187.5h1M121 187.5h3M127 187.5h2M131 187.5h2M134 187.5h6M141 187.5h8M150 187.5h3M157 187.5h2M161 187.5h1M164 187.5h1M167 187.5h1M185 187.5h1M58 188.5h2M62 188.5h1M68 188.5h1M77 188.5h1M89 188.5h1M97 188.5h1M108 188.5h1M111 188.5h3M116 188.5h1M121 188.5h2M126 188.5h1M128 188.5h1M130 188.5h4M135 188.5h5M141 188.5h8M151 188.5h1M154 188.5h3M158 188.5h2M161 188.5h1M163 188.5h1M170 188.5h1M66 189.5h1M77 189.5h1M86 189.5h1M88 189.5h1M90 189.5h1M95 189.5h1M101 189.5h3M107 189.5h2M111 189.5h1M114 189.5h1M117 189.5h2M121 189.5h3M127 189.5h4M132 189.5h12M146 189.5h1M148 189.5h4M153 189.5h3M158 189.5h1M160 189.5h1M162 189.5h1M223 189.5h1M55 190.5h1M59 190.5h2M65 190.5h1M69 190.5h1M74 190.5h1M78 190.5h1M80 190.5h1M83 190.5h1M88 190.5h1M91 190.5h2M96 190.5h1M98 190.5h2M104 190.5h2M110 190.5h3M114 190.5h2M118 190.5h1M120 190.5h3M124 190.5h2M128 190.5h5M134 190.5h4M139 190.5h2M142 190.5h5M148 190.5h1M151 190.5h1M154 190.5h1M156 190.5h1M158 190.5h1M229 190.5h1M33 191.5h1M35 191.5h1M62 191.5h4M67 191.5h2M70 191.5h2M75 191.5h1M77 191.5h3M81 191.5h2M85 191.5h1M89 191.5h1M91 191.5h2M96 191.5h1M99 191.5h1M101 191.5h4M107 191.5h3M115 191.5h2M120 191.5h1M122 191.5h1M124 191.5h2M127 191.5h4M132 191.5h8M144 191.5h5M151 191.5h2M158 191.5h2M172 191.5h1M200 191.5h1M215 191.5h1M35 192.5h1M37 192.5h1M50 192.5h1M52 192.5h3M59 192.5h1M64 192.5h8M73 192.5h4M78 192.5h5M87 192.5h2M91 192.5h2M94 192.5h2M97 192.5h1M99 192.5h1M103 192.5h1M106 192.5h3M111 192.5h3M117 192.5h3M121 192.5h9M131 192.5h5M137 192.5h10M148 192.5h1M150 192.5h2M155 192.5h1M157 192.5h1M168 192.5h1M226 192.5h2M25 193.5h1M27 193.5h1M40 193.5h1M44 193.5h2M52 193.5h1M54 193.5h2M57 193.5h2M61 193.5h4M67 193.5h1M69 193.5h1M71 193.5h4M76 193.5h1M78 193.5h2M81 193.5h2M84 193.5h4M89 193.5h1M93 193.5h1M95 193.5h1M98 193.5h1M100 193.5h1M103 193.5h3M107 193.5h2M110 193.5h2M113 193.5h3M117 193.5h2M120 193.5h2M123 193.5h6M130 193.5h2M134 193.5h2M137 193.5h5M144 193.5h4M149 193.5h1M151 193.5h1M154 193.5h2M160 193.5h1M162 193.5h1M167 193.5h1M170 193.5h1M199 193.5h1M224 193.5h1M228 193.5h1M34 194.5h1M37 194.5h1M42 194.5h1M44 194.5h1M46 194.5h1M49 194.5h2M53 194.5h4M58 194.5h1M60 194.5h1M62 194.5h3M67 194.5h2M71 194.5h1M73 194.5h1M75 194.5h4M80 194.5h1M82 194.5h4M87 194.5h2M90 194.5h1M92 194.5h1M94 194.5h1M96 194.5h2M102 194.5h3M107 194.5h1M109 194.5h1M111 194.5h8M122 194.5h4M127 194.5h10M138 194.5h4M143 194.5h6M153 194.5h1M155 194.5h1M160 194.5h2M163 194.5h1M168 194.5h3M177 194.5h1M188 194.5h1M44 195.5h1M48 195.5h2M51 195.5h8M60 195.5h1M64 195.5h4M69 195.5h2M72 195.5h1M74 195.5h1M76 195.5h1M78 195.5h1M82 195.5h2M85 195.5h4M90 195.5h1M93 195.5h2M97 195.5h1M99 195.5h3M107 195.5h10M118 195.5h3M122 195.5h2M125 195.5h9M135 195.5h5M141 195.5h8M150 195.5h1M154 195.5h1M157 195.5h1M159 195.5h2M165 195.5h1M31 196.5h1M34 196.5h1M39 196.5h1M41 196.5h2M49 196.5h2M52 196.5h2M55 196.5h11M67 196.5h4M72 196.5h3M76 196.5h7M84 196.5h2M87 196.5h4M92 196.5h2M95 196.5h2M98 196.5h3M102 196.5h2M106 196.5h2M109 196.5h1M111 196.5h1M113 196.5h2M116 196.5h5M122 196.5h3M127 196.5h12M140 196.5h1M142 196.5h1M145 196.5h4M156 196.5h2M163 196.5h1M167 196.5h2M223 196.5h1M226 196.5h1M26 197.5h1M32 197.5h1M37 197.5h1M43 197.5h7M51 197.5h7M59 197.5h3M63 197.5h30M94 197.5h3M98 197.5h4M103 197.5h3M107 197.5h6M114 197.5h10M125 197.5h14M142 197.5h4M147 197.5h7M155 197.5h1M157 197.5h2M160 197.5h1M165 197.5h1M30 198.5h1M35 198.5h4M40 198.5h4M45 198.5h2M48 198.5h4M55 198.5h3M59 198.5h38M98 198.5h7M106 198.5h7M114 198.5h1M116 198.5h4M121 198.5h3M125 198.5h1M127 198.5h4M132 198.5h6M139 198.5h3M143 198.5h2M146 198.5h5M152 198.5h1M155 198.5h2M159 198.5h1M163 198.5h1M174 198.5h1M194 198.5h1M213 198.5h1M230 198.5h1M29 199.5h1M34 199.5h1M36 199.5h1M38 199.5h2M41 199.5h1M44 199.5h4M49 199.5h3M53 199.5h1M55 199.5h46M102 199.5h3M106 199.5h6M113 199.5h2M116 199.5h2M122 199.5h4M127 199.5h6M136 199.5h4M142 199.5h3M148 199.5h1M153 199.5h2M156 199.5h1M191 199.5h1M220 199.5h1M223 199.5h1M34 200.5h1M36 200.5h4M41 200.5h1M44 200.5h60M105 200.5h3M109 200.5h7M117 200.5h2M120 200.5h1M122 200.5h1M124 200.5h7M132 200.5h3M136 200.5h2M139 200.5h2M142 200.5h2M145 200.5h1M148 200.5h1M151 200.5h1M155 200.5h1M157 200.5h1M159 200.5h2M163 200.5h1M23 201.5h1M32 201.5h1M34 201.5h1M36 201.5h1M39 201.5h2M42 201.5h60M103 201.5h7M111 201.5h2M114 201.5h8M124 201.5h11M136 201.5h1M139 201.5h5M145 201.5h3M149 201.5h1M152 201.5h1M155 201.5h1M157 201.5h1M190 201.5h1M199 201.5h1M24 202.5h2M30 202.5h2M33 202.5h1M35 202.5h4M41 202.5h1M43 202.5h71M115 202.5h6M122 202.5h9M132 202.5h4M137 202.5h8M147 202.5h1M149 202.5h2M153 202.5h3M159 202.5h1M222 202.5h1M225 202.5h1M25 203.5h1M27 203.5h5M35 203.5h2M39 203.5h2M42 203.5h68M111 203.5h14M126 203.5h11M139 203.5h2M142 203.5h3M147 203.5h2M150 203.5h1M153 203.5h1M184 203.5h1M223 203.5h1M15 204.5h1M20 204.5h1M26 204.5h3M30 204.5h4M35 204.5h1M38 204.5h71M111 204.5h11M123 204.5h8M132 204.5h4M137 204.5h5M143 204.5h4M149 204.5h1M152 204.5h4M158 204.5h1M174 204.5h1M183 204.5h1M191 204.5h1M196 204.5h1M212 204.5h1M17 205.5h1M22 205.5h2M26 205.5h4M31 205.5h77M109 205.5h6M116 205.5h1M118 205.5h2M121 205.5h2M124 205.5h5M130 205.5h1M132 205.5h3M136 205.5h1M138 205.5h4M150 205.5h5M156 205.5h1M164 205.5h1M176 205.5h1M196 205.5h1M209 205.5h1M213 205.5h1M14 206.5h1M20 206.5h3M25 206.5h2M28 206.5h3M32 206.5h85M118 206.5h11M130 206.5h10M141 206.5h2M144 206.5h1M150 206.5h2M154 206.5h1M162 206.5h1M173 206.5h1M179 206.5h1M193 206.5h1M229 206.5h1M18 207.5h1M22 207.5h1M24 207.5h1M28 207.5h3M32 207.5h80M113 207.5h7M121 207.5h10M134 207.5h1M140 207.5h2M146 207.5h1M149 207.5h1M151 207.5h1M154 207.5h1M21 208.5h2M25 208.5h2M28 208.5h84M113 208.5h1M115 208.5h1M117 208.5h2M120 208.5h2M123 208.5h5M129 208.5h4M134 208.5h1M136 208.5h4M141 208.5h1M143 208.5h2M152 208.5h1M154 208.5h1M158 208.5h1M160 208.5h1M174 208.5h1M184 208.5h1M16 209.5h1M18 209.5h1M21 209.5h1M23 209.5h4M28 209.5h83M112 209.5h4M117 209.5h3M121 209.5h1M123 209.5h7M132 209.5h2M135 209.5h5M141 209.5h3M150 209.5h1M152 209.5h3M156 209.5h1M177 209.5h1M194 209.5h1M201 209.5h1M225 209.5h1M18 210.5h1M20 210.5h2M23 210.5h89M113 210.5h2M116 210.5h1M118 210.5h3M123 210.5h13M137 210.5h5M143 210.5h3M147 210.5h1M149 210.5h3M155 210.5h1M160 210.5h1M163 210.5h1M198 210.5h1M220 210.5h1M7 211.5h2M10 211.5h1M14 211.5h1M16 211.5h1M18 211.5h1M20 211.5h96M117 211.5h3M121 211.5h2M124 211.5h2M129 211.5h4M136 211.5h1M138 211.5h1M140 211.5h2M143 211.5h1M145 211.5h1M150 211.5h1M154 211.5h1M165 211.5h1M167 211.5h1M181 211.5h1M230 211.5h1M12 212.5h1M15 212.5h6M22 212.5h89M112 212.5h1M114 212.5h1M116 212.5h7M125 212.5h7M133 212.5h1M135 212.5h4M140 212.5h1M142 212.5h2M146 212.5h3M173 212.5h1M175 212.5h1M189 212.5h1M203 212.5h1M5 213.5h1M7 213.5h1M14 213.5h2M17 213.5h3M21 213.5h93M115 213.5h3M119 213.5h4M124 213.5h7M132 213.5h1M134 213.5h3M138 213.5h2M141 213.5h2M144 213.5h1M148 213.5h1M154 213.5h1M159 213.5h1M161 213.5h1M181 213.5h1M185 213.5h1M11 214.5h1M13 214.5h2M16 214.5h4M21 214.5h98M120 214.5h5M127 214.5h6M134 214.5h2M137 214.5h1M142 214.5h1M146 214.5h1M148 214.5h1M161 214.5h1M172 214.5h1M1 215.5h1M4 215.5h1M13 215.5h3M17 215.5h3M21 215.5h96M118 215.5h1M120 215.5h4M125 215.5h2M128 215.5h8M137 215.5h1M139 215.5h1M148 215.5h1M153 215.5h1M156 215.5h1M159 215.5h1M173 215.5h1M198 215.5h1M216 215.5h1M14 216.5h1M16 216.5h1M18 216.5h92M112 216.5h2M115 216.5h3M119 216.5h13M133 216.5h1M139 216.5h2M143 216.5h2M146 216.5h1M149 216.5h2M156 216.5h1M162 216.5h1M9 217.5h6M16 217.5h94M111 217.5h4M116 217.5h6M123 217.5h1M125 217.5h7M133 217.5h1M135 217.5h2M139 217.5h2M142 217.5h1M145 217.5h1M148 217.5h2M152 217.5h1M155 217.5h1M175 217.5h1M177 217.5h1M191 217.5h1M7 218.5h2M11 218.5h6M18 218.5h95M114 218.5h6M121 218.5h7M129 218.5h4M136 218.5h1M142 218.5h1M145 218.5h1M147 218.5h1M221 218.5h1M2 219.5h1M5 219.5h1M8 219.5h1M10 219.5h112M124 219.5h2M127 219.5h4M132 219.5h3M137 219.5h1M139 219.5h2M147 219.5h1M149 219.5h1M157 219.5h1M210 219.5h1M6 220.5h1M8 220.5h2M11 220.5h1M13 220.5h1M15 220.5h95M111 220.5h16M128 220.5h5M134 220.5h3M140 220.5h2M145 220.5h1M148 220.5h1M154 220.5h1M216 220.5h1M219 220.5h1M3 221.5h1M9 221.5h1M11 221.5h103M115 221.5h6M122 221.5h9M133 221.5h1M136 221.5h1M139 221.5h1M151 221.5h1M1 222.5h1M4 222.5h1M6 222.5h6M13 222.5h97M111 222.5h2M114 222.5h7M124 222.5h5M131 222.5h4M136 222.5h1M139 222.5h1M141 222.5h2M144 222.5h1M148 222.5h1M154 222.5h1M170 222.5h1M228 222.5h1M1 223.5h1M7 223.5h100M108 223.5h5M115 223.5h8M124 223.5h3M130 223.5h2M136 223.5h1M138 223.5h2M142 223.5h1M145 223.5h1M148 223.5h1M154 223.5h2M157 223.5h1M229 223.5h1M5 224.5h1M7 224.5h5M13 224.5h95M109 224.5h4M114 224.5h8M123 224.5h3M127 224.5h2M130 224.5h1M136 224.5h1M142 224.5h1M144 224.5h2M148 224.5h1M170 224.5h1M4 225.5h3M8 225.5h2M11 225.5h95M107 225.5h1M109 225.5h10M120 225.5h4M125 225.5h1M129 225.5h2M132 225.5h1M137 225.5h1M139 225.5h4M144 225.5h2M159 225.5h1M216 225.5h2M4 226.5h2M10 226.5h97M108 226.5h2M111 226.5h3M115 226.5h1M117 226.5h2M120 226.5h5M126 226.5h1M128 226.5h2M132 226.5h4M137 226.5h2M141 226.5h1M143 226.5h1M145 226.5h1M150 226.5h1M158 226.5h1M224 226.5h1M5 227.5h1M7 227.5h105M113 227.5h1M116 227.5h1M118 227.5h7M127 227.5h3M140 227.5h3M144 227.5h2M147 227.5h1M171 227.5h1M189 227.5h1M4 228.5h1M6 228.5h2M9 228.5h93M103 228.5h1M105 228.5h3M109 228.5h3M113 228.5h1M115 228.5h1M118 228.5h4M129 228.5h1M132 228.5h7M140 228.5h1M142 228.5h2M146 228.5h2M181 228.5h1M2 229.5h1M4 229.5h1M6 229.5h1M8 229.5h1M10 229.5h101M112 229.5h4M118 229.5h1M123 229.5h3M128 229.5h1M132 229.5h1M136 229.5h2M140 229.5h1M4 230.5h3M8 230.5h3M12 230.5h89M102 230.5h2M105 230.5h9M115 230.5h2M118 230.5h3M129 230.5h2M134 230.5h1M136 230.5h1M139 230.5h1M150 230.5h1M173 230.5h1M186 230.5h1M193 230.5h1M0 231.5h1M3 231.5h1M6 231.5h99M107 231.5h11M119 231.5h1M121 231.5h4M126 231.5h1M128 231.5h1M131 231.5h1M133 231.5h1M136 231.5h1M138 231.5h4M144 231.5h1M151 231.5h1M162 231.5h1M205 231.5h1M216 231.5h1M0 232.5h1M4 232.5h1M7 232.5h1M9 232.5h93M103 232.5h3M107 232.5h1M111 232.5h2M115 232.5h2M120 232.5h5M126 232.5h2M132 232.5h3M138 232.5h1M145 232.5h1M148 232.5h1M196 232.5h1M213 232.5h1M2 233.5h1M5 233.5h93M99 233.5h1M101 233.5h4M106 233.5h4M111 233.5h3M115 233.5h1M119 233.5h2M127 233.5h1M132 233.5h2M138 233.5h1M146 233.5h1M149 233.5h1M4 234.5h4M9 234.5h88M98 234.5h1M100 234.5h1M102 234.5h4M107 234.5h2M111 234.5h4M119 234.5h1M127 234.5h1M129 234.5h1M131 234.5h1M135 234.5h1M137 234.5h1M145 234.5h1M167 234.5h1M185 234.5h1M1 235.5h4M8 235.5h3M12 235.5h82M95 235.5h1M97 235.5h3M102 235.5h1M104 235.5h1M107 235.5h1M109 235.5h4M118 235.5h1M120 235.5h1M122 235.5h2M125 235.5h1M127 235.5h1M129 235.5h1M131 235.5h1M133 235.5h1M150 235.5h1M213 235.5h1M2 236.5h2M6 236.5h4M11 236.5h85M100 236.5h1M103 236.5h2M112 236.5h2M121 236.5h3M128 236.5h2M132 236.5h2M136 236.5h1M145 236.5h1M149 236.5h1M178 236.5h1M224 236.5h1M2 237.5h1M5 237.5h3M9 237.5h1M11 237.5h80M92 237.5h6M100 237.5h2M106 237.5h1M111 237.5h5M118 237.5h2M123 237.5h1M127 237.5h1M130 237.5h1M139 237.5h1M142 237.5h1M146 237.5h1M148 237.5h1M155 237.5h1M181 237.5h1M183 237.5h1M2 238.5h3M6 238.5h1M8 238.5h3M12 238.5h77M90 238.5h1M92 238.5h1M94 238.5h1M96 238.5h1M98 238.5h1M100 238.5h1M104 238.5h2M107 238.5h2M114 238.5h1M128 238.5h2M131 238.5h1M135 238.5h1M138 238.5h1M140 238.5h2M149 238.5h1M174 238.5h1M5 239.5h1M7 239.5h2M11 239.5h77M89 239.5h1M91 239.5h3M95 239.5h1M97 239.5h1M100 239.5h1M102 239.5h1M105 239.5h3M113 239.5h1M115 239.5h2M118 239.5h2M121 239.5h1M123 239.5h2M126 239.5h2M131 239.5h1M135 239.5h1M145 239.5h1M203 239.5h1M224 239.5h1M2 240.5h1M7 240.5h3M12 240.5h2M15 240.5h75M91 240.5h2M95 240.5h1M97 240.5h1M99 240.5h1M102 240.5h1M104 240.5h1M106 240.5h1M109 240.5h1M114 240.5h3M118 240.5h3M122 240.5h5M145 240.5h1M151 240.5h1M11 241.5h3M15 241.5h67M83 241.5h1M85 241.5h7M93 241.5h1M102 241.5h1M107 241.5h2M111 241.5h1M113 241.5h1M115 241.5h2M119 241.5h1M121 241.5h3M127 241.5h1M143 241.5h2M153 241.5h1M8 242.5h1M12 242.5h1M14 242.5h1M16 242.5h68M85 242.5h1M87 242.5h3M91 242.5h1M100 242.5h9M110 242.5h1M119 242.5h1M122 242.5h1M124 242.5h1M126 242.5h1M139 242.5h1M141 242.5h2M147 242.5h1M166 242.5h1M188 242.5h1M5 243.5h1M9 243.5h6M16 243.5h1M18 243.5h58M77 243.5h2M81 243.5h3M85 243.5h4M91 243.5h1M93 243.5h1M96 243.5h3M101 243.5h1M103 243.5h2M116 243.5h1M119 243.5h2M123 243.5h1M129 243.5h1M140 243.5h1M143 243.5h1M204 243.5h1M216 243.5h1M11 244.5h5M18 244.5h1M20 244.5h53M74 244.5h1M78 244.5h3M82 244.5h3M86 244.5h1M92 244.5h2M102 244.5h1M107 244.5h1M112 244.5h2M115 244.5h1M119 244.5h2M142 244.5h1M9 245.5h3M14 245.5h4M20 245.5h1M22 245.5h53M76 245.5h5M82 245.5h1M84 245.5h1M86 245.5h1M95 245.5h1M97 245.5h1M101 245.5h1M104 245.5h1M107 245.5h1M110 245.5h1M126 245.5h1M132 245.5h1M138 245.5h1M140 245.5h1M229 245.5h1M9 246.5h1M11 246.5h1M14 246.5h3M19 246.5h1M23 246.5h1M25 246.5h41M68 246.5h1M71 246.5h4M78 246.5h1M81 246.5h2M87 246.5h1M91 246.5h1M96 246.5h1M102 246.5h1M115 246.5h1M128 246.5h2M131 246.5h1M5 247.5h1M7 247.5h1M13 247.5h2M16 247.5h1M20 247.5h8M29 247.5h2M32 247.5h22M55 247.5h9M66 247.5h1M68 247.5h1M71 247.5h5M77 247.5h1M79 247.5h1M85 247.5h1M90 247.5h1M100 247.5h1M102 247.5h1M117 247.5h1M136 247.5h1M141 247.5h1M144 247.5h1M7 248.5h1M9 248.5h1M17 248.5h1M20 248.5h2M24 248.5h5M32 248.5h1M34 248.5h15M50 248.5h8M60 248.5h1M62 248.5h1M64 248.5h1M66 248.5h5M75 248.5h2M78 248.5h1M82 248.5h1M102 248.5h1M108 248.5h1M111 248.5h2M115 248.5h1M129 248.5h1M7 249.5h1M15 249.5h1M21 249.5h1M23 249.5h4M28 249.5h2M31 249.5h6M38 249.5h4M43 249.5h8M52 249.5h4M58 249.5h2M61 249.5h1M63 249.5h1M65 249.5h1M68 249.5h2M71 249.5h1M76 249.5h1M84 249.5h1M86 249.5h1M100 249.5h1M106 249.5h1M122 249.5h1M129 249.5h1M135 249.5h1M9 250.5h1M14 250.5h1M18 250.5h1M20 250.5h2M23 250.5h1M25 250.5h1M27 250.5h1M31 250.5h2M34 250.5h3M38 250.5h8M48 250.5h2M52 250.5h6M59 250.5h2M62 250.5h1M65 250.5h1M67 250.5h1M70 250.5h1M74 250.5h1M97 250.5h1M99 250.5h1M113 250.5h1M118 250.5h1M120 250.5h1M130 250.5h1M18 251.5h1M24 251.5h1M26 251.5h1M28 251.5h6M35 251.5h1M37 251.5h3M41 251.5h1M43 251.5h1M45 251.5h2M48 251.5h1M50 251.5h1M52 251.5h2M55 251.5h2M58 251.5h1M60 251.5h6M68 251.5h2M71 251.5h1M74 251.5h2M77 251.5h1M87 251.5h1M108 251.5h1M132 251.5h1M24 252.5h2M29 252.5h2M32 252.5h1M34 252.5h2M37 252.5h7M45 252.5h2M49 252.5h1M53 252.5h3M58 252.5h1M60 252.5h1M62 252.5h2M65 252.5h1M67 252.5h1M74 252.5h1M99 252.5h1M106 252.5h1M20 253.5h1M24 253.5h1M28 253.5h1M33 253.5h1M36 253.5h1M38 253.5h1M41 253.5h1M43 253.5h1M45 253.5h2M52 253.5h1M55 253.5h1M69 253.5h2M109 253.5h2M114 253.5h1M125 253.5h1M19 254.5h1M24 254.5h1M29 254.5h2M33 254.5h1M41 254.5h1M48 254.5h2M55 254.5h2M58 254.5h1M68 254.5h1M127 254.5h1M27 255.5h1M31 255.5h1M33 255.5h1M40 255.5h1M42 255.5h1M46 255.5h1M49 255.5h1M51 255.5h1M53 255.5h1M61 255.5h1M63 255.5h2M66 255.5h1M82 255.5h1M31 256.5h1M42 256.5h2M69 256.5h1M46 257.5h2M49 257.5h1M57 257.5h1M59 257.5h1M113 257.5h1M42 259.5h1M44 259.5h1M48 259.5h2M59 259.5h1M62 260.5h1M41 261.5h1M44 261.5h1" stroke="#000" stroke-width="1.77" fill="none" filter="url(#b03)"/>
<polygon points="331.3,1244.8 352.3,1242.9 358.0,1249.5 355.1,1256.2 344.7,1264.8 331.3,1266.7" fill="#00008f" />
<ellipse cx="323.8" cy="1257.1" rx="28.6" ry="12.9" fill="#00008f" transform="rotate(-13 323.8 1257.1)" />
<ellipse cx="322.8" cy="1257.4" rx="23.8" ry="10.7" fill="#0000ff" transform="rotate(-13 322.8 1257.4)" />
<ellipse cx="320.8" cy="1258.3" rx="19.0" ry="8.8" fill="#0070ff" transform="rotate(-13 320.8 1258.3)" />
<ellipse cx="319.8" cy="1258.9" rx="15.7" ry="7.2" fill="#00d0ff" transform="rotate(-13 319.8 1258.9)" />
<ellipse cx="319.0" cy="1259.6" rx="12.9" ry="5.9" fill="#40ffc0" transform="rotate(-13 319.0 1259.6)" />
<ellipse cx="318.6" cy="1260.1" rx="11.0" ry="5.0" fill="#b0ff50" transform="rotate(-13 318.6 1260.1)" />
<ellipse cx="318.2" cy="1260.6" rx="9.0" ry="4.3" fill="#ffe000" transform="rotate(-13 318.2 1260.6)" />
<ellipse cx="318.0" cy="1260.9" rx="7.1" ry="3.5" fill="#ff8000" transform="rotate(-13 318.0 1260.9)" />
<ellipse cx="317.8" cy="1261.1" rx="4.6" ry="2.5" fill="#ff0000" transform="rotate(-13 317.8 1261.1)" />
<rect x="336.6" y="1216.2" width="99.0" height="61.7" fill="none" stroke="#bb4040" stroke-width="2.7"/>
<rect x="284.6" y="1112.7" width="174.9" height="174.4" fill="none" stroke="#6e6e6e" stroke-width="1.1"/>
<rect x="310.0" y="1287.6" width="3.4" height="4.2" fill="#4a4a4a"/>
<path d="M286.1 1287.1v4M295.8 1287.1v3.6M297.5 1287.1v3.6M299.2 1287.1v3.6M300.9 1287.1v3.6M302.6 1287.1v3.6M304.3 1287.1v3.6M306.0 1287.1v3.6M307.7 1287.1v3.6M309.4 1287.1v3.6M311.1 1287.1v3.6M312.8 1287.1v3.6M314.5 1287.1v3.6M316.2 1287.1v3.6M317.9 1287.1v3.6M319.6 1287.1v3.6M321.3 1287.1v3.6M323.0 1287.1v3.6M324.7 1287.1v3.6M326.4 1287.1v3.6M328.1 1287.1v3.6M338.6 1287.1v3.4M346.3 1287.1v3.4M351.7 1287.1v3.4M356.0 1287.1v3.4M359.4 1287.1v3.4M362.3 1287.1v3.4M364.9 1287.1v3.4M367.1 1287.1v3.4M369.1 1287.1v6M382.2 1287.1v3.4M389.9 1287.1v3.4M395.3 1287.1v3.4M399.6 1287.1v3.4M403.0 1287.1v3.4M405.9 1287.1v3.4M408.5 1287.1v3.4M410.7 1287.1v3.4M412.7 1287.1v6M425.8 1287.1v3.4M433.5 1287.1v3.4M438.9 1287.1v3.4M443.2 1287.1v3.4M446.6 1287.1v3.4M449.5 1287.1v3.4M452.1 1287.1v3.4M454.3 1287.1v3.4M456.4 1287.1v6" fill="none" stroke="#4a4a4a" stroke-width="1.1"/>
<rect x="279.6" y="1263.5" width="4.2" height="3.2" fill="#4a4a4a"/>
<path d="M284.6 1255.0h-3.6M284.6 1256.8h-3.6M284.6 1258.6h-3.6M284.6 1260.4h-3.6M284.6 1262.2h-3.6M284.6 1264.0h-3.6M284.6 1265.8h-3.6M284.6 1267.6h-3.6M284.6 1269.4h-3.6M284.6 1277.0h-5M284.6 1254.2h-6M284.6 1243.1h-3.4M284.6 1236.6h-3.4M284.6 1232.0h-3.4M284.6 1228.5h-3.4M284.6 1225.6h-3.4M284.6 1223.1h-3.4M284.6 1221.0h-3.4M284.6 1219.1h-3.4M284.6 1217.4h-6M284.6 1204.5h-3.4M284.6 1197.0h-3.4M284.6 1191.7h-3.4M284.6 1187.6h-3.4M284.6 1184.2h-3.4M284.6 1181.3h-3.4M284.6 1178.8h-3.4M284.6 1176.7h-3.4M284.6 1174.7h-6M284.6 1161.7h-3.4M284.6 1154.0h-3.4M284.6 1148.6h-3.4M284.6 1144.4h-3.4M284.6 1141.0h-3.4M284.6 1138.1h-3.4M284.6 1135.6h-3.4M284.6 1133.4h-3.4M284.6 1131.4h-6M284.6 1120.3h-3.4M284.6 1113.8h-3.4" fill="none" stroke="#4a4a4a" stroke-width="1.1"/>
<text x="290.5" y="1140.0" font-size="25.5" textLength="41.5" lengthAdjust="spacingAndGlyphs">10d</text>
<text x="355.0" y="1209.0" font-size="25.5" textLength="71.0" lengthAdjust="spacingAndGlyphs">22.1%</text>
<path transform="translate(478 1112) scale(0.65)" d="M119 166.5h2M115 169.5h1M146 169.5h1M79 170.5h1M113 170.5h1M129 170.5h1M131 170.5h2M120 171.5h1M127 171.5h1M129 171.5h1M136 171.5h1M143 171.5h1M80 172.5h1M94 172.5h1M96 172.5h1M102 172.5h1M118 172.5h1M132 172.5h1M75 173.5h1M89 173.5h1M94 173.5h1M97 173.5h1M103 173.5h1M117 173.5h1M119 173.5h1M126 173.5h1M129 173.5h1M132 173.5h1M137 173.5h1M149 173.5h1M18 174.5h1M28 174.5h1M95 174.5h1M102 174.5h1M125 174.5h2M137 174.5h1M140 174.5h1M145 174.5h1M229 174.5h1M75 175.5h1M83 175.5h2M97 175.5h1M104 175.5h1M109 175.5h3M116 175.5h2M119 175.5h1M121 175.5h1M123 175.5h1M125 175.5h3M130 175.5h1M144 175.5h1M148 175.5h1M31 176.5h1M38 176.5h1M48 176.5h1M66 176.5h1M80 176.5h1M86 176.5h1M96 176.5h1M100 176.5h1M104 176.5h1M110 176.5h1M113 176.5h5M119 176.5h2M123 176.5h1M126 176.5h2M129 176.5h2M132 176.5h1M134 176.5h3M142 176.5h1M150 176.5h2M3 177.5h1M20 177.5h1M29 177.5h1M52 177.5h1M56 177.5h1M75 177.5h1M86 177.5h1M94 177.5h4M105 177.5h2M111 177.5h2M115 177.5h4M120 177.5h1M122 177.5h1M124 177.5h1M126 177.5h2M129 177.5h5M135 177.5h1M137 177.5h4M144 177.5h1M18 178.5h1M27 178.5h1M29 178.5h2M42 178.5h2M56 178.5h1M72 178.5h1M74 178.5h1M79 178.5h1M86 178.5h1M89 178.5h1M91 178.5h1M93 178.5h1M98 178.5h2M104 178.5h1M106 178.5h3M111 178.5h1M115 178.5h1M117 178.5h1M119 178.5h4M124 178.5h4M129 178.5h3M133 178.5h3M137 178.5h1M142 178.5h1M16 179.5h1M31 179.5h1M37 179.5h1M46 179.5h1M49 179.5h1M56 179.5h2M65 179.5h2M68 179.5h1M70 179.5h1M89 179.5h2M93 179.5h2M96 179.5h4M102 179.5h1M104 179.5h1M107 179.5h2M110 179.5h2M113 179.5h3M117 179.5h1M119 179.5h5M125 179.5h2M128 179.5h2M132 179.5h3M136 179.5h2M139 179.5h2M142 179.5h1M144 179.5h3M0 180.5h1M15 180.5h1M29 180.5h1M35 180.5h1M53 180.5h2M59 180.5h1M62 180.5h1M65 180.5h1M74 180.5h1M78 180.5h1M80 180.5h3M84 180.5h3M88 180.5h4M94 180.5h1M96 180.5h10M109 180.5h2M112 180.5h2M118 180.5h4M123 180.5h6M130 180.5h1M134 180.5h6M141 180.5h4M148 180.5h1M151 180.5h1M191 180.5h1M4 181.5h1M6 181.5h1M14 181.5h1M24 181.5h2M27 181.5h3M35 181.5h1M40 181.5h3M49 181.5h2M55 181.5h1M70 181.5h1M72 181.5h1M76 181.5h2M79 181.5h1M82 181.5h3M86 181.5h2M89 181.5h3M93 181.5h1M96 181.5h1M98 181.5h1M100 181.5h1M102 181.5h2M105 181.5h3M109 181.5h1M112 181.5h1M114 181.5h3M119 181.5h2M125 181.5h3M131 181.5h2M135 181.5h2M138 181.5h2M141 181.5h1M143 181.5h1M145 181.5h1M170 181.5h1M10 182.5h2M14 182.5h1M23 182.5h2M26 182.5h1M31 182.5h2M34 182.5h1M36 182.5h1M41 182.5h5M48 182.5h1M51 182.5h1M55 182.5h1M62 182.5h4M67 182.5h1M72 182.5h3M78 182.5h3M82 182.5h1M87 182.5h3M92 182.5h4M98 182.5h3M102 182.5h9M112 182.5h1M114 182.5h12M129 182.5h1M131 182.5h1M133 182.5h2M137 182.5h2M140 182.5h1M143 182.5h7M151 182.5h2M156 182.5h1M3 183.5h1M5 183.5h2M11 183.5h2M16 183.5h1M20 183.5h2M23 183.5h4M28 183.5h4M35 183.5h2M38 183.5h2M41 183.5h2M44 183.5h5M51 183.5h2M54 183.5h1M58 183.5h1M61 183.5h4M66 183.5h1M68 183.5h2M71 183.5h1M73 183.5h1M76 183.5h1M78 183.5h3M84 183.5h1M86 183.5h2M91 183.5h1M93 183.5h4M98 183.5h4M103 183.5h4M108 183.5h22M132 183.5h4M138 183.5h6M145 183.5h4M151 183.5h1M157 183.5h1M162 183.5h1M2 184.5h1M6 184.5h1M8 184.5h1M10 184.5h3M14 184.5h3M19 184.5h3M23 184.5h4M28 184.5h3M32 184.5h3M37 184.5h2M40 184.5h1M45 184.5h1M47 184.5h1M49 184.5h1M51 184.5h2M54 184.5h1M56 184.5h2M60 184.5h1M63 184.5h1M65 184.5h4M71 184.5h2M74 184.5h1M76 184.5h1M78 184.5h1M81 184.5h1M83 184.5h6M90 184.5h1M93 184.5h1M95 184.5h47M145 184.5h1M147 184.5h2M150 184.5h2M0 185.5h1M5 185.5h6M13 185.5h1M20 185.5h1M22 185.5h2M26 185.5h1M31 185.5h4M37 185.5h2M45 185.5h1M48 185.5h6M61 185.5h1M64 185.5h3M69 185.5h3M73 185.5h1M75 185.5h1M77 185.5h3M81 185.5h1M85 185.5h10M97 185.5h43M142 185.5h1M145 185.5h2M148 185.5h1M150 185.5h2M162 185.5h1M4 186.5h3M9 186.5h4M15 186.5h3M19 186.5h2M22 186.5h2M25 186.5h3M29 186.5h2M33 186.5h1M36 186.5h3M40 186.5h3M44 186.5h3M48 186.5h5M55 186.5h1M57 186.5h3M63 186.5h1M67 186.5h6M74 186.5h14M89 186.5h53M143 186.5h1M145 186.5h5M151 186.5h1M156 186.5h1M0 187.5h2M6 187.5h2M10 187.5h1M13 187.5h12M26 187.5h3M30 187.5h5M36 187.5h8M45 187.5h8M54 187.5h1M57 187.5h5M63 187.5h1M66 187.5h2M71 187.5h4M76 187.5h9M86 187.5h56M144 187.5h2M147 187.5h2M150 187.5h3M0 188.5h1M4 188.5h2M9 188.5h3M13 188.5h1M17 188.5h1M19 188.5h2M22 188.5h1M24 188.5h3M28 188.5h2M33 188.5h4M38 188.5h4M46 188.5h2M52 188.5h4M59 188.5h2M63 188.5h1M68 188.5h1M71 188.5h2M74 188.5h5M80 188.5h71M153 188.5h2M157 188.5h1M160 188.5h1M2 189.5h4M8 189.5h3M12 189.5h16M29 189.5h22M53 189.5h5M59 189.5h1M62 189.5h85M148 189.5h2M156 189.5h1M174 189.5h1M2 190.5h55M58 190.5h90M149 190.5h1M151 190.5h6M2 191.5h151M155 191.5h1M157 191.5h1M2 192.5h148M151 192.5h2M154 192.5h1M158 192.5h1M160 192.5h1M0 193.5h1M2 193.5h150M153 193.5h2M158 193.5h1M160 193.5h1M2 194.5h148M152 194.5h1M154 194.5h1M156 194.5h3M162 194.5h1M179 194.5h1M189 194.5h1M195 194.5h1M1 195.5h151M153 195.5h1M155 195.5h1M157 195.5h1M159 195.5h2M164 195.5h1M168 195.5h1M220 195.5h1M0 196.5h156M157 196.5h1M159 196.5h2M164 196.5h1M170 196.5h1M0 197.5h153M154 197.5h1M156 197.5h1M158 197.5h2M2 198.5h155M158 198.5h1M162 198.5h1M1 199.5h151M153 199.5h1M155 199.5h2M159 199.5h3M164 199.5h1M1 200.5h155M157 200.5h2M160 200.5h2M166 200.5h2M2 201.5h152M161 201.5h2M1 202.5h155M159 202.5h4M164 202.5h1M2 203.5h155M158 203.5h1M160 203.5h2M164 203.5h1M2 204.5h153M161 204.5h2M1 205.5h155M157 205.5h1M160 205.5h3M169 205.5h1M217 205.5h1M2 206.5h154M157 206.5h5M164 206.5h1M2 207.5h153M156 207.5h3M161 207.5h1M171 207.5h1M193 207.5h1M0 208.5h158M159 208.5h1M163 208.5h2M166 208.5h1M171 208.5h1M200 208.5h1M218 208.5h1M3 209.5h155M159 209.5h1M164 209.5h1M1 210.5h154M156 210.5h1M159 210.5h2M162 210.5h1M164 210.5h3M168 210.5h1M0 211.5h153M154 211.5h1M156 211.5h1M158 211.5h6M169 211.5h1M1 212.5h152M159 212.5h1M161 212.5h5M169 212.5h1M1 213.5h153M155 213.5h1M157 213.5h2M160 213.5h2M163 213.5h1M1 214.5h155M157 214.5h2M160 214.5h1M162 214.5h1M195 214.5h1M224 214.5h1M1 215.5h151M154 215.5h6M161 215.5h1M2 216.5h150M153 216.5h2M156 216.5h2M159 216.5h1M162 216.5h1M1 217.5h151M154 217.5h6M161 217.5h1M166 217.5h1M217 217.5h1M231 217.5h1M1 218.5h150M152 218.5h1M155 218.5h5M162 218.5h2M1 219.5h153M155 219.5h3M162 219.5h1M168 219.5h1M1 220.5h152M154 220.5h4M160 220.5h1M0 221.5h1M2 221.5h148M151 221.5h1M153 221.5h1M156 221.5h2M163 221.5h1M1 222.5h149M151 222.5h1M154 222.5h1M156 222.5h2M159 222.5h1M0 223.5h148M150 223.5h1M153 223.5h2M159 223.5h1M161 223.5h1M164 223.5h1M2 224.5h148M152 224.5h1M154 224.5h2M157 224.5h3M162 224.5h1M167 224.5h1M1 225.5h147M149 225.5h2M152 225.5h1M154 225.5h2M164 225.5h1M2 226.5h146M149 226.5h4M154 226.5h1M157 226.5h1M0 227.5h144M145 227.5h6M152 227.5h4M157 227.5h2M1 228.5h142M144 228.5h6M151 228.5h3M155 228.5h2M0 229.5h145M147 229.5h3M152 229.5h7M0 230.5h141M142 230.5h7M150 230.5h2M176 230.5h1M188 230.5h1M1 231.5h140M142 231.5h3M146 231.5h5M152 231.5h1M225 231.5h1M0 232.5h1M2 232.5h139M142 232.5h2M146 232.5h1M150 232.5h1M152 232.5h1M159 232.5h1M2 233.5h136M140 233.5h3M144 233.5h2M147 233.5h2M151 233.5h1M216 233.5h1M0 234.5h136M138 234.5h2M141 234.5h7M211 234.5h1M2 235.5h132M135 235.5h1M140 235.5h1M142 235.5h5M149 235.5h1M155 235.5h1M0 236.5h132M134 236.5h2M138 236.5h7M146 236.5h1M149 236.5h1M156 236.5h1M160 236.5h1M193 236.5h1M1 237.5h131M133 237.5h8M142 237.5h4M183 237.5h1M210 237.5h1M0 238.5h131M132 238.5h4M140 238.5h3M144 238.5h1M2 239.5h124M127 239.5h1M129 239.5h2M135 239.5h6M142 239.5h2M1 240.5h117M119 240.5h5M128 240.5h1M130 240.5h2M133 240.5h1M138 240.5h2M143 240.5h1M148 240.5h1M153 240.5h1M1 241.5h119M121 241.5h3M125 241.5h4M131 241.5h1M133 241.5h3M138 241.5h2M144 241.5h1M148 241.5h1M0 242.5h19M21 242.5h95M117 242.5h3M123 242.5h1M125 242.5h2M130 242.5h2M133 242.5h4M138 242.5h1M147 242.5h1M0 243.5h1M2 243.5h11M14 243.5h12M27 243.5h1M29 243.5h8M38 243.5h74M113 243.5h5M120 243.5h5M130 243.5h4M135 243.5h2M148 243.5h1M0 244.5h4M6 244.5h2M9 244.5h3M13 244.5h3M17 244.5h2M21 244.5h3M25 244.5h5M31 244.5h1M33 244.5h77M114 244.5h1M116 244.5h2M119 244.5h1M121 244.5h3M126 244.5h5M134 244.5h3M150 244.5h1M2 245.5h1M4 245.5h1M7 245.5h3M12 245.5h2M16 245.5h1M18 245.5h1M20 245.5h5M26 245.5h2M29 245.5h2M36 245.5h3M41 245.5h33M75 245.5h15M91 245.5h2M94 245.5h2M97 245.5h4M105 245.5h1M107 245.5h1M111 245.5h3M115 245.5h3M119 245.5h1M121 245.5h1M123 245.5h1M125 245.5h1M127 245.5h1M133 245.5h1M141 245.5h1M3 246.5h1M5 246.5h1M8 246.5h1M12 246.5h1M15 246.5h1M18 246.5h1M20 246.5h1M23 246.5h3M27 246.5h2M30 246.5h1M34 246.5h7M45 246.5h2M48 246.5h3M52 246.5h5M58 246.5h1M61 246.5h1M65 246.5h1M67 246.5h3M71 246.5h1M73 246.5h1M75 246.5h1M77 246.5h3M82 246.5h2M85 246.5h2M88 246.5h3M92 246.5h3M97 246.5h2M101 246.5h2M105 246.5h3M109 246.5h1M112 246.5h1M116 246.5h1M119 246.5h1M122 246.5h1M127 246.5h1M3 247.5h4M10 247.5h1M13 247.5h1M15 247.5h2M18 247.5h1M21 247.5h3M28 247.5h1M31 247.5h1M33 247.5h1M35 247.5h4M40 247.5h3M44 247.5h1M50 247.5h1M52 247.5h2M56 247.5h4M61 247.5h2M64 247.5h1M72 247.5h8M82 247.5h2M85 247.5h5M91 247.5h1M94 247.5h2M97 247.5h3M101 247.5h3M106 247.5h1M108 247.5h4M116 247.5h1M119 247.5h1M123 247.5h1M132 247.5h1M1 248.5h2M5 248.5h1M8 248.5h1M10 248.5h1M14 248.5h1M17 248.5h2M23 248.5h1M27 248.5h3M31 248.5h3M35 248.5h4M40 248.5h4M45 248.5h3M51 248.5h2M54 248.5h2M57 248.5h1M60 248.5h5M66 248.5h1M68 248.5h2M71 248.5h1M73 248.5h6M81 248.5h1M84 248.5h2M88 248.5h6M95 248.5h2M98 248.5h1M101 248.5h1M103 248.5h2M107 248.5h2M110 248.5h2M113 248.5h1M119 248.5h1M121 248.5h1M123 248.5h3M133 248.5h1M2 249.5h3M9 249.5h1M11 249.5h1M13 249.5h1M18 249.5h1M24 249.5h1M26 249.5h3M34 249.5h6M43 249.5h2M48 249.5h4M53 249.5h5M60 249.5h1M64 249.5h2M67 249.5h3M72 249.5h3M77 249.5h3M82 249.5h1M84 249.5h1M87 249.5h3M91 249.5h1M95 249.5h4M101 249.5h1M104 249.5h1M106 249.5h4M112 249.5h3M130 249.5h1M133 249.5h1M138 249.5h1M2 250.5h1M5 250.5h1M8 250.5h1M16 250.5h1M18 250.5h1M23 250.5h1M28 250.5h1M30 250.5h2M38 250.5h1M40 250.5h1M43 250.5h2M47 250.5h1M49 250.5h2M52 250.5h2M55 250.5h1M61 250.5h1M63 250.5h1M65 250.5h2M68 250.5h3M75 250.5h1M79 250.5h4M85 250.5h2M90 250.5h1M93 250.5h1M96 250.5h3M100 250.5h1M102 250.5h1M105 250.5h1M107 250.5h2M110 250.5h1M113 250.5h5M123 250.5h1M133 250.5h1M135 250.5h1M140 250.5h1M3 251.5h2M8 251.5h1M12 251.5h1M25 251.5h1M46 251.5h9M60 251.5h1M65 251.5h1M72 251.5h1M75 251.5h1M77 251.5h1M80 251.5h2M84 251.5h2M87 251.5h1M92 251.5h2M95 251.5h2M98 251.5h1M100 251.5h3M105 251.5h3M113 251.5h2M117 251.5h1M135 251.5h1M15 252.5h1M23 252.5h1M26 252.5h2M32 252.5h1M34 252.5h1M43 252.5h1M56 252.5h1M65 252.5h1M71 252.5h1M74 252.5h1M76 252.5h1M81 252.5h1M83 252.5h1M85 252.5h1M98 252.5h1M102 252.5h1M104 252.5h1M129 252.5h2M5 253.5h1M8 253.5h1M22 253.5h1M27 253.5h1M46 253.5h1M58 253.5h1M68 253.5h3M72 253.5h1M88 253.5h1M94 253.5h1M102 253.5h1M114 253.5h1M125 253.5h1M130 253.5h1M22 254.5h1M41 254.5h1M48 254.5h1M51 254.5h1M54 254.5h2M66 254.5h1M72 254.5h1M78 254.5h1M89 254.5h1M93 254.5h1M99 254.5h1M16 255.5h1M42 255.5h1M53 255.5h1M61 255.5h1M70 255.5h1M85 255.5h1M92 255.5h1M94 255.5h1M102 255.5h1M123 255.5h1M0 256.5h1M4 256.5h1M43 256.5h2M52 256.5h1M58 256.5h1M61 256.5h1M86 256.5h1M88 256.5h1M102 256.5h1M81 257.5h1M15 258.5h1M96 258.5h1M107 258.5h1M23 259.5h1M82 260.5h1M93 260.5h1" stroke="#000" stroke-width="1.77" fill="none" filter="url(#b03)"/>
<clipPath id="c6"><rect x="479.5" y="1112.7" width="175.2" height="174.39999999999986"/></clipPath><g clip-path="url(#c6)">
<polygon points="477.7,1239.0 500.6,1243.3 514.9,1241.9 531.0,1236.7 553.0,1233.8 565.3,1236.7 569.6,1244.8 563.4,1257.1 548.2,1265.2 531.0,1268.1 519.6,1266.7 515.8,1271.4 510.1,1273.8 502.5,1273.3 496.8,1268.6 486.3,1262.4 477.7,1266.7" fill="#00008f" />
<polygon points="477.7,1241.9 491.0,1245.7 503.4,1249.5 514.9,1247.6 529.1,1241.0 548.2,1237.1 560.6,1239.0 564.9,1245.7 559.6,1255.2 546.3,1261.9 531.0,1264.8 521.5,1262.9 516.8,1268.6 510.1,1271.4 502.5,1271.0 497.7,1266.7 491.0,1259.0 477.7,1262.9" fill="#0000ff" />
<ellipse cx="480.1" cy="1251.4" rx="11.9" ry="11.0" fill="#0070ff" transform="rotate(0 480.1 1251.4)" />
<ellipse cx="480.1" cy="1251.4" rx="8.1" ry="10.0" fill="#00d0ff" transform="rotate(0 480.1 1251.4)" />
<ellipse cx="480.1" cy="1251.4" rx="6.5" ry="8.6" fill="#60ffa0" transform="rotate(0 480.1 1251.4)" />
<ellipse cx="480.1" cy="1251.4" rx="5.2" ry="7.1" fill="#c0ff40" transform="rotate(0 480.1 1251.4)" />
<ellipse cx="480.1" cy="1251.4" rx="3.3" ry="4.8" fill="#ffe000" transform="rotate(0 480.1 1251.4)" />
<ellipse cx="480.1" cy="1251.4" rx="1.9" ry="2.9" fill="#ffb000" transform="rotate(0 480.1 1251.4)" />
<ellipse cx="507.7" cy="1263.8" rx="12.2" ry="11.4" fill="#0070ff" transform="rotate(0 507.7 1263.8)" />
<ellipse cx="507.7" cy="1263.8" rx="11.2" ry="10.3" fill="#00d0ff" transform="rotate(0 507.7 1263.8)" />
<ellipse cx="507.7" cy="1263.8" rx="10.3" ry="9.3" fill="#80ff80" transform="rotate(0 507.7 1263.8)" />
<ellipse cx="507.7" cy="1263.8" rx="9.3" ry="8.4" fill="#ffe000" transform="rotate(0 507.7 1263.8)" />
<ellipse cx="507.7" cy="1263.8" rx="7.8" ry="6.9" fill="#ff9000" transform="rotate(0 507.7 1263.8)" />
<ellipse cx="507.7" cy="1263.8" rx="5.9" ry="4.8" fill="#ff3000" transform="rotate(0 507.7 1263.8)" />
<ellipse cx="507.7" cy="1263.8" rx="4.3" ry="3.0" fill="#ee0000" transform="rotate(0 507.7 1263.8)" />
<polygon points="519.6,1253.3 529.1,1244.8 533.0,1253.3 529.1,1261.0 521.5,1257.1" fill="#0070ff" />
<ellipse cx="545.3" cy="1250.5" rx="21.0" ry="14.3" fill="#0070ff" transform="rotate(-18 545.3 1250.5)" />
<ellipse cx="544.9" cy="1251.0" rx="18.1" ry="11.9" fill="#00d0ff" transform="rotate(-18 544.9 1251.0)" />
<ellipse cx="546.8" cy="1248.6" rx="14.3" ry="7.6" fill="#40ffc0" transform="rotate(-18 546.8 1248.6)" />
<ellipse cx="547.2" cy="1247.4" rx="8.1" ry="4.3" fill="#c8f030" transform="rotate(-18 547.2 1247.4)" />
</g>
<rect x="529.9" y="1216.2" width="98.8" height="61.7" fill="none" stroke="#bb4040" stroke-width="2.7"/>
<rect x="478.7" y="1112.7" width="175.2" height="174.4" fill="none" stroke="#6e6e6e" stroke-width="1.1"/>
<rect x="504.1" y="1287.6" width="3.4" height="4.2" fill="#4a4a4a"/>
<path d="M480.2 1287.1v4M489.9 1287.1v3.6M491.6 1287.1v3.6M493.3 1287.1v3.6M495.0 1287.1v3.6M496.7 1287.1v3.6M498.4 1287.1v3.6M500.1 1287.1v3.6M501.8 1287.1v3.6M503.5 1287.1v3.6M505.2 1287.1v3.6M506.9 1287.1v3.6M508.6 1287.1v3.6M510.3 1287.1v3.6M512.0 1287.1v3.6M513.7 1287.1v3.6M515.4 1287.1v3.6M517.1 1287.1v3.6M518.8 1287.1v3.6M520.5 1287.1v3.6M522.2 1287.1v3.6M532.7 1287.1v3.4M540.4 1287.1v3.4M545.8 1287.1v3.4M550.1 1287.1v3.4M553.5 1287.1v3.4M556.4 1287.1v3.4M559.0 1287.1v3.4M561.2 1287.1v3.4M563.2 1287.1v6M576.3 1287.1v3.4M584.0 1287.1v3.4M589.4 1287.1v3.4M593.7 1287.1v3.4M597.1 1287.1v3.4M600.0 1287.1v3.4M602.6 1287.1v3.4M604.8 1287.1v3.4M606.8 1287.1v6M619.9 1287.1v3.4M627.6 1287.1v3.4M633.0 1287.1v3.4M637.3 1287.1v3.4M640.7 1287.1v3.4M643.6 1287.1v3.4M646.2 1287.1v3.4M648.4 1287.1v3.4M650.5 1287.1v6" fill="none" stroke="#4a4a4a" stroke-width="1.1"/>
<rect x="473.7" y="1263.5" width="4.2" height="3.2" fill="#4a4a4a"/>
<path d="M478.7 1255.0h-3.6M478.7 1256.8h-3.6M478.7 1258.6h-3.6M478.7 1260.4h-3.6M478.7 1262.2h-3.6M478.7 1264.0h-3.6M478.7 1265.8h-3.6M478.7 1267.6h-3.6M478.7 1269.4h-3.6M478.7 1277.0h-5M478.7 1254.2h-6M478.7 1243.1h-3.4M478.7 1236.6h-3.4M478.7 1232.0h-3.4M478.7 1228.5h-3.4M478.7 1225.6h-3.4M478.7 1223.1h-3.4M478.7 1221.0h-3.4M478.7 1219.1h-3.4M478.7 1217.4h-6M478.7 1204.5h-3.4M478.7 1197.0h-3.4M478.7 1191.7h-3.4M478.7 1187.6h-3.4M478.7 1184.2h-3.4M478.7 1181.3h-3.4M478.7 1178.8h-3.4M478.7 1176.7h-3.4M478.7 1174.7h-6M478.7 1161.7h-3.4M478.7 1154.0h-3.4M478.7 1148.6h-3.4M478.7 1144.4h-3.4M478.7 1141.0h-3.4M478.7 1138.1h-3.4M478.7 1135.6h-3.4M478.7 1133.4h-3.4M478.7 1131.4h-6M478.7 1120.3h-3.4M478.7 1113.8h-3.4" fill="none" stroke="#4a4a4a" stroke-width="1.1"/>
<text x="485.0" y="1140.0" font-size="25.5" textLength="41.5" lengthAdjust="spacingAndGlyphs">10d</text>
<text x="546.0" y="1209.0" font-size="25.5" textLength="71.0" lengthAdjust="spacingAndGlyphs">48.7%</text>
<path d="M221.5 996.7V999.3H251.5V1002.0L259.5 998.0L251.5 994.0V996.7Z" fill="#000"/>
<path d="M374.3 989.3V992.1H450.2V994.7L458.2 990.7L450.2 986.7V989.3Z" fill="#000"/>
<path d="M576.3 1027.1L376 1077.2" stroke="#000" stroke-width="3" fill="none"/>
<path d="M370 1078.8L378.6 1072.6L380.6 1080.4Z" fill="#000"/>
<text x="74.0" y="985.0" font-size="25.5" textLength="72.0" lengthAdjust="spacingAndGlyphs" transform="rotate(-90 74.0 985.0)">FSC A</text>
<text x="278.0" y="983.5" font-size="25.5" textLength="73.0" lengthAdjust="spacingAndGlyphs" transform="rotate(-90 278.0 983.5)">FSC H</text>
<text x="485.5" y="1011.0" font-size="25.5" textLength="128.0" lengthAdjust="spacingAndGlyphs" transform="rotate(-90 485.5 1011.0)">CD45-FITC</text>
<text x="138.5" y="1065.5" font-size="25.5" textLength="74.0" lengthAdjust="spacingAndGlyphs">SSC A</text>
<text x="342.0" y="1065.5" font-size="25.5" textLength="73.0" lengthAdjust="spacingAndGlyphs">FSC A</text>
<text x="532.0" y="1065.5" font-size="25.5" textLength="92.0" lengthAdjust="spacingAndGlyphs">Hoechst</text>
<text x="154.5" y="1107.5" font-size="25.5" textLength="35.0" lengthAdjust="spacingAndGlyphs">NC</text>
<text x="353.0" y="1105.5" font-size="25.5" textLength="39.0" lengthAdjust="spacingAndGlyphs">WT</text>
<text x="518.0" y="1105.5" font-size="25.5" font-style="italic" textLength="67.0" lengthAdjust="spacingAndGlyphs">Gpr37</text>
<text x="593.0" y="1097.0" font-size="17" textLength="25.0" lengthAdjust="spacingAndGlyphs">−/−</text>
<text x="60.0" y="1297.0" font-size="26" fill="#7030a0" textLength="201.0" lengthAdjust="spacingAndGlyphs" transform="rotate(-90 60.0 1297.0)">NO dye (650/670)</text>
<text x="295.0" y="1331.5" font-size="26" fill="#0f70c0" textLength="139.0" lengthAdjust="spacingAndGlyphs">Hoechst dye</text>
<rect x="272.5" y="1291.0" width="5.0" height="2.5" fill="#000"/>
<rect x="463.5" y="1290.5" width="8.5" height="2.8" fill="#000"/>
<rect x="776.5" y="921.0" width="11.5" height="19.0" fill="none" stroke="#0000ff" stroke-width="2.6"/>
<rect x="776.5" y="953.5" width="11.5" height="20.0" fill="none" stroke="#ff0000" stroke-width="2.6"/>
<text x="797.3" y="940.3" font-size="25.5" textLength="117.6" lengthAdjust="spacingAndGlyphs">WT (n = 5)</text>
<text x="798.1" y="976.4" font-size="25.5" font-style="italic" textLength="67.9" lengthAdjust="spacingAndGlyphs">Gpr37</text>
<text x="875.5" y="964.5" font-size="16" fill="#666" font-style="italic" textLength="24.4" lengthAdjust="spacingAndGlyphs">−/−</text>
<text x="908.1" y="976.4" font-size="25.5" textLength="71.9" lengthAdjust="spacingAndGlyphs">(n = 5)</text>
<text x="1008.0" y="969.6" font-size="25.5" textLength="120.0" lengthAdjust="spacingAndGlyphs"><tspan font-style="italic">P</tspan> = 0.0014</text>
<path d="M1022 1119.5V978.2H1055.7V985.9" fill="none" stroke="#000" stroke-width="2.8"/>
<path d="M1009.5 1201.3V1154.7H1038.9V1201.3" fill="none" stroke="#0000ff" stroke-width="2.6"/>
<path d="M1044.7 1201.3V1071.2M1042.6 1071.2H1076.8M1074.3 1071.2V1201.3" fill="none" stroke="#ff0000" stroke-width="2.6"/>
<path d="M1015.3 1144.9H1031.9M1015.3 1159.8H1031.9M1023.6 1144.9V1159.8" fill="none" stroke="#0000ff" stroke-width="2.6"/>
<path d="M1050.2 1037.7H1068.2M1059.2 1037.7V1071" fill="none" stroke="#ff0000" stroke-width="2.6"/>
<path d="M771.3 984.4V1201.3H1096.5" fill="none" stroke="#000" stroke-width="3"/>
<g fill="#0000ff"><circle cx="795.6" cy="1201.3" r="5.3"/><circle cx="803.5" cy="1198.1" r="5.3"/><circle cx="811.4" cy="1201.3" r="5.3"/><circle cx="820.1" cy="1199.8" r="5.3"/><circle cx="903.9" cy="1201.3" r="5.3"/><circle cx="910.1" cy="1199.2" r="5.3"/><circle cx="916.3" cy="1200.6" r="5.3"/><circle cx="922.6" cy="1200.6" r="5.3"/><circle cx="928.8" cy="1201.5" r="5.3"/><circle cx="1023.6" cy="1128.2" r="5.3"/><circle cx="1011.6" cy="1152.6" r="5.3"/><circle cx="1023.6" cy="1156.3" r="5.3"/><circle cx="1036.5" cy="1153.6" r="5.3"/><circle cx="1023.6" cy="1168.1" r="5.3"/></g>
<g fill="#ff0000"><circle cx="830.0" cy="1199.8" r="5.3"/><circle cx="836.2" cy="1199.6" r="5.3"/><circle cx="842.4" cy="1199.8" r="5.3"/><circle cx="848.6" cy="1199.2" r="5.3"/><circle cx="854.8" cy="1200.8" r="5.3"/><circle cx="938.5" cy="1200.6" r="5.3"/><circle cx="947.0" cy="1196.1" r="5.3"/><circle cx="955.1" cy="1199.2" r="5.3"/><circle cx="962.9" cy="1198.6" r="5.3"/><circle cx="1058.8" cy="992.7" r="5.3"/><circle cx="1058.8" cy="1018.4" r="5.3"/><circle cx="1058.8" cy="1063.5" r="5.3"/><circle cx="1058.8" cy="1096.1" r="5.3"/><circle cx="1058.8" cy="1177.9" r="5.3"/></g>
<line x1="765.3" y1="1201.3" x2="771.3" y2="1201.3" stroke="#000" stroke-width="3" />
<text x="764.5" y="1210.3" font-size="25" text-anchor="end">0</text>
<line x1="765.3" y1="1157.9" x2="771.3" y2="1157.9" stroke="#000" stroke-width="3" />
<text x="764.5" y="1166.9" font-size="25" text-anchor="end">20</text>
<line x1="765.3" y1="1114.5" x2="771.3" y2="1114.5" stroke="#000" stroke-width="3" />
<text x="764.5" y="1123.5" font-size="25" text-anchor="end">40</text>
<line x1="765.3" y1="1071.2" x2="771.3" y2="1071.2" stroke="#000" stroke-width="3" />
<text x="764.5" y="1080.2" font-size="25" text-anchor="end">60</text>
<line x1="765.3" y1="1027.8" x2="771.3" y2="1027.8" stroke="#000" stroke-width="3" />
<text x="764.5" y="1036.8" font-size="25" text-anchor="end">80</text>
<line x1="765.3" y1="984.4" x2="771.3" y2="984.4" stroke="#000" stroke-width="3" />
<text x="764.5" y="993.4" font-size="25" text-anchor="end">100</text>
<line x1="824.2" y1="1201.3" x2="824.2" y2="1206.3" stroke="#000" stroke-width="3" />
<line x1="933.5" y1="1201.3" x2="933.5" y2="1206.3" stroke="#000" stroke-width="3" />
<line x1="1041.0" y1="1201.3" x2="1041.0" y2="1206.3" stroke="#000" stroke-width="3" />
<text x="811.8" y="1230.2" font-size="25.5" textLength="33.1" lengthAdjust="spacingAndGlyphs">0 d</text>
<text x="920.5" y="1230.2" font-size="25.5" textLength="32.5" lengthAdjust="spacingAndGlyphs">5 d</text>
<text x="1022.6" y="1230.2" font-size="25.5" textLength="46.0" lengthAdjust="spacingAndGlyphs">10 d</text>
<text x="818.6" y="1173.3" font-size="25" textLength="52.8" lengthAdjust="spacingAndGlyphs" transform="rotate(-90 818.6 1173.3)">n = 4</text>
<text x="953.2" y="1173.3" font-size="25" textLength="52.8" lengthAdjust="spacingAndGlyphs" transform="rotate(-90 953.2 1173.3)">n = 4</text>
<text x="711.2" y="1141.2" font-size="25.5" textLength="112.4" lengthAdjust="spacingAndGlyphs" transform="rotate(-90 711.2 1141.2)">% of iRBC</text>
<text x="1133.5" y="836.0" font-size="40" font-weight="bold">f</text>
<text x="1294.0" y="825.5" font-size="25.5" textLength="53.5" lengthAdjust="spacingAndGlyphs">10 d</text>
<text x="1173.0" y="996.3" font-size="25.5" textLength="40.0" lengthAdjust="spacingAndGlyphs" transform="rotate(-90 1173.0 996.3)">WT</text>
<text x="1173.0" y="1313.5" font-size="25.5" font-style="italic" textLength="67.0" lengthAdjust="spacingAndGlyphs" transform="rotate(-90 1173.0 1313.5)">Gpr37</text>
<text x="1166.0" y="1239.5" font-size="17" fill="#8a4a6a" textLength="24.0" lengthAdjust="spacingAndGlyphs" transform="rotate(-90 1166.0 1239.5)">−/−</text>
<defs>
<radialGradient id="gA"><stop offset="0" stop-color="#fff"/><stop offset=".22" stop-color="#fdf6fa"/><stop offset=".32" stop-color="#d6a8c8"/><stop offset=".41" stop-color="#898477"/><stop offset=".56" stop-color="#87866f"/><stop offset=".76" stop-color="#8f8e68"/><stop offset=".92" stop-color="#9e9e62"/><stop offset="1" stop-color="#a2a266"/></radialGradient>
<radialGradient id="gB"><stop offset="0" stop-color="#dcb8b0"/><stop offset=".45" stop-color="#d2ac9c"/><stop offset=".7" stop-color="#bfb07c"/><stop offset=".88" stop-color="#aeb365"/><stop offset="1" stop-color="#a6ab5e"/></radialGradient>
<radialGradient id="gBw"><stop offset="0" stop-color="#f6ecee"/><stop offset=".18" stop-color="#e2bfc4"/><stop offset=".45" stop-color="#ceae98"/><stop offset=".7" stop-color="#bab278"/><stop offset="1" stop-color="#a6ab5e"/></radialGradient>
<radialGradient id="gS"><stop offset="0" stop-color="#bcc4ce"/><stop offset=".35" stop-color="#8e9cba"/><stop offset=".65" stop-color="#7482a8"/><stop offset=".85" stop-color="#6f9890"/><stop offset="1" stop-color="#8cb091"/></radialGradient>
<radialGradient id="gS2"><stop offset="0" stop-color="#c8cecb"/><stop offset=".5" stop-color="#a2b4ac"/><stop offset=".8" stop-color="#819d8e"/><stop offset="1" stop-color="#76977f"/></radialGradient>
<radialGradient id="gG"><stop offset="0" stop-color="#c9cfd0"/><stop offset=".6" stop-color="#b9c4c0"/><stop offset=".9" stop-color="#8fb09a"/><stop offset="1" stop-color="#7fa088"/></radialGradient>
<filter id="fb" x="-10%" y="-10%" width="120%" height="120%"><feGaussianBlur stdDeviation="0.45"/></filter>
<filter id="fb1" x="-20%" y="-20%" width="140%" height="140%"><feGaussianBlur stdDeviation="1"/></filter>
<g id="cA"><circle r="13.4" fill="#e6ebdf" opacity=".75"/><circle r="11.6" fill="url(#gA)" stroke="#1c1020" stroke-width="1.8"/></g>
<g id="cB"><circle r="12.9" fill="#f2f3ec" opacity=".8"/><circle r="10.9" fill="url(#gB)" stroke="#2a0f24" stroke-width="1.7"/></g>
<g id="cBw"><circle r="12.9" fill="#f2f3ec" opacity=".8"/><circle r="10.9" fill="url(#gBw)" stroke="#2a0f24" stroke-width="1.8"/></g>
<g id="cS"><circle r="14" fill="#eef0ea" opacity=".7"/><circle r="12.4" fill="url(#gS)" stroke="#2a3340" stroke-width="1.5"/><path d="M-6 -3q4 -5 9 -2M-4 5q5 3 8 -2" stroke="#dfe4ee" stroke-width="1.6" fill="none" opacity=".8"/></g>
<g id="cS2"><circle r="12.5" fill="#eef0ea" opacity=".7"/><circle r="11" fill="url(#gS2)" stroke="#2a2832" stroke-width="1.6"/></g>
</defs>
<clipPath id="f1"><rect x="1195" y="846" width="292" height="267.4000000000001"/></clipPath>
<g clip-path="url(#f1)">
<linearGradient id="bg1" x1="0" y1="0" x2="1" y2="0.3"><stop offset="0" stop-color="#c2c8bb"/><stop offset=".45" stop-color="#d2d7cc"/><stop offset="1" stop-color="#d3d8ce"/></linearGradient>
<rect x="1195.0" y="846.0" width="292.0" height="267.4" fill="url(#bg1)"/>
<circle cx="1379.3" cy="900.8" r="14.5" fill="url(#gG)" stroke="#6f8f7c" stroke-width="1.2"/>
<circle cx="1382.3" cy="897.8" r="4" fill="#7c86a8" opacity=".6" filter="url(#fb1)"/>
<ellipse cx="1444.1" cy="866.6" rx="11" ry="14.5" fill="url(#gG)" stroke="#6f8f7c" stroke-width="1.2"/>
<circle cx="1444.1" cy="860.6" r="3.5" fill="#7c86a8" opacity=".6" filter="url(#fb1)"/>
<circle cx="1455.9" cy="961.6" r="11.5" fill="#c9bfb6" stroke="#a8a294" stroke-width="1" filter="url(#fb)"/>
<circle cx="1471.2" cy="1002.1" r="11" fill="#d0d0c6" opacity=".9" filter="url(#fb1)"/>
<g filter="url(#fb)">
<use href="#cA" x="1223.0" y="850.8"/>
<use href="#cA" x="1281.5" y="854.8"/>
<use href="#cA" x="1307.9" y="857.2"/>
<use href="#cA" x="1347.5" y="858.8"/>
<use href="#cA" x="1386.4" y="840.7"/>
<use href="#cA" x="1410.4" y="860.7"/>
<use href="#cA" x="1466.0" y="843.0"/>
<use href="#cA" x="1475.5" y="867.8"/>
<use href="#cA" x="1195.0" y="860.7"/>
<use href="#cA" x="1215.5" y="869.7"/>
<use href="#cA" x="1231.3" y="881.5"/>
<use href="#cA" x="1265.7" y="873.7"/>
<use href="#cA" x="1290.9" y="876.0"/>
<use href="#cA" x="1256.2" y="894.9"/>
<use href="#cA" x="1341.1" y="893.2"/>
<use href="#cA" x="1414.2" y="884.3"/>
<use href="#cA" x="1434.7" y="896.5"/>
<use href="#cA" x="1457.1" y="890.2"/>
<use href="#cA" x="1473.1" y="907.9"/>
<use href="#cA" x="1199.0" y="906.7"/>
<use href="#cA" x="1234.8" y="903.1"/>
<use href="#cA" x="1249.2" y="918.5"/>
<use href="#cA" x="1298.0" y="905.5"/>
<use href="#cA" x="1318.7" y="916.1"/>
<use href="#cA" x="1207.2" y="931.4"/>
<use href="#cA" x="1348.6" y="937.3"/>
<use href="#cA" x="1483.5" y="932.6"/>
<use href="#cA" x="1195.0" y="951.5"/>
<use href="#cA" x="1234.3" y="946.7"/>
<use href="#cA" x="1260.7" y="950.3"/>
<use href="#cA" x="1289.7" y="947.5"/>
<use href="#cA" x="1215.5" y="959.7"/>
<use href="#cA" x="1411.1" y="960.9"/>
<use href="#cA" x="1434.7" y="968.0"/>
<use href="#cA" x="1490.1" y="963.2"/>
<use href="#cA" x="1247.3" y="973.9"/>
<use href="#cA" x="1294.0" y="978.1"/>
<use href="#cA" x="1325.1" y="979.0"/>
<use href="#cA" x="1356.9" y="973.4"/>
<use href="#cA" x="1270.9" y="985.2"/>
<use href="#cA" x="1228.0" y="986.8"/>
<use href="#cA" x="1372.2" y="992.0"/>
<use href="#cA" x="1450.0" y="984.5"/>
<use href="#cA" x="1429.5" y="993.9"/>
<use href="#cA" x="1475.9" y="983.8"/>
<use href="#cA" x="1202.5" y="1008.0"/>
<use href="#cA" x="1227.2" y="1012.0"/>
<use href="#cA" x="1359.2" y="1012.0"/>
<use href="#cA" x="1422.9" y="1019.8"/>
<use href="#cA" x="1447.6" y="1030.9"/>
<use href="#cA" x="1483.0" y="1018.2"/>
<use href="#cA" x="1243.0" y="1030.4"/>
<use href="#cA" x="1315.2" y="1035.1"/>
<use href="#cA" x="1354.5" y="1032.8"/>
<use href="#cA" x="1293.2" y="1043.4"/>
<use href="#cA" x="1199.0" y="1045.7"/>
<use href="#cA" x="1223.7" y="1049.3"/>
<use href="#cA" x="1358.8" y="1055.2"/>
<use href="#cA" x="1394.6" y="1058.7"/>
<use href="#cA" x="1428.3" y="1051.6"/>
<use href="#cA" x="1269.7" y="1067.0"/>
<use href="#cA" x="1233.1" y="1070.0"/>
<use href="#cA" x="1335.0" y="1070.5"/>
<use href="#cA" x="1202.5" y="1076.4"/>
<use href="#cA" x="1308.6" y="1077.6"/>
<use href="#cA" x="1385.2" y="1082.3"/>
<use href="#cA" x="1490.5" y="1075.2"/>
<use href="#cA" x="1276.7" y="1094.1"/>
<use href="#cA" x="1404.0" y="1100.0"/>
<use href="#cA" x="1223.7" y="1105.9"/>
<use href="#cA" x="1248.5" y="1103.5"/>
<use href="#cA" x="1438.2" y="1105.9"/>
<use href="#cA" x="1316.8" y="1116.5"/>
<use href="#cA" x="1273.2" y="1118.8"/>
<use href="#cA" x="1373.4" y="1119.5"/>
</g>
<circle cx="1424.1" cy="939.0" r="12.2" fill="#4f7f7a" stroke="#1d2a33" stroke-width="1.6" filter="url(#fb)"/>
<circle cx="1424.1" cy="939.0" r="7" fill="#3f6f73" filter="url(#fb1)"/>
<circle cx="1264.3" cy="1011.1" r="13.6" fill="#b9cdb8" stroke="#5f9a72" stroke-width="1.6" filter="url(#fb)"/>
<circle cx="1260.8" cy="1013.6" r="5.5" fill="#4a5a86" filter="url(#fb1)"/>
<path d="M1262.3 1007.1q6 -2 8 4" stroke="#f4f6f2" stroke-width="2" fill="none" filter="url(#fb)"/>
<circle cx="1336.4" cy="1003.3" r="10.8" fill="#5d6f6c" stroke="#1c2326" stroke-width="1.5" filter="url(#fb)"/>
<path d="M1331.4 1000.3l3 2M1338.4 998.3l2 3M1334.4 1006.3l4 1M1340.4 1005.3l1 3" stroke="#dfe6e0" stroke-width="2" fill="none" filter="url(#fb)"/>
<path d="M1277 919q5 4 12 2M1399 1005l2 5M1232 1083l3 3M1473 882l2 6" stroke="#6f9a82" stroke-width="1.6" fill="none" opacity=".8"/>
<path d="M1203 852h9M1207.5 848v9" stroke="#fff" stroke-width="1" opacity=".9"/>
</g>
<clipPath id="f2"><rect x="1195" y="1132" width="292.20000000000005" height="268"/></clipPath>
<g clip-path="url(#f2)">
<rect x="1195.0" y="1132.0" width="292.2" height="268.0" fill="#d6d8cf"/>
<circle cx="1263.5" cy="1314.2" r="12" fill="#c4c9d2" filter="url(#fb1)"/>
<ellipse cx="1335.3" cy="1391.4" rx="17" ry="10" fill="#d8c8c4" filter="url(#fb1)"/>
<g filter="url(#fb)">
<use href="#cS2" transform="translate(1235.7 1198.6) scale(1.11)"/>
<use href="#cS2" transform="translate(1298.3 1186.8) scale(0.98)"/>
<use href="#cS2" transform="translate(1251.1 1222.1) scale(1.05)"/>
<use href="#cS2" transform="translate(1436.7 1297.1) scale(0.95)"/>
<use href="#cS2" transform="translate(1278.5 1378.5) scale(0.95)"/>
<use href="#cB" x="1205.7" y="1139.6"/>
<use href="#cB" x="1298.9" y="1151.4"/>
<use href="#cB" x="1312.8" y="1132.1"/>
<use href="#cB" x="1328.9" y="1148.2"/>
<use href="#cB" x="1350.3" y="1154.6"/>
<use href="#cB" x="1355.7" y="1132.1"/>
<use href="#cB" x="1396.4" y="1148.2"/>
<use href="#cB" x="1416.7" y="1156.1"/>
<use href="#cB" x="1476.7" y="1158.9"/>
<use href="#cBw" x="1207.8" y="1164.3"/>
<use href="#cB" x="1332.1" y="1182.5"/>
<use href="#cB" x="1354.6" y="1178.2"/>
<use href="#cBw" x="1377.1" y="1191.1"/>
<use href="#cB" x="1421.0" y="1187.8"/>
<use href="#cB" x="1403.9" y="1195.3"/>
<use href="#cB" x="1449.9" y="1196.4"/>
<use href="#cB" x="1472.4" y="1183.6"/>
<use href="#cB" x="1199.7" y="1192.1"/>
<use href="#cBw" x="1273.2" y="1190.0"/>
<use href="#cBw" x="1347.1" y="1206.5"/>
<use href="#cB" x="1388.2" y="1215.1"/>
<use href="#cB" x="1212.1" y="1210.3"/>
<use href="#cB" x="1290.3" y="1215.7"/>
<use href="#cB" x="1226.5" y="1225.3"/>
<use href="#cB" x="1484.2" y="1230.7"/>
<use href="#cB" x="1235.7" y="1252.5"/>
<use href="#cB" x="1357.4" y="1246.8"/>
<use href="#cB" x="1399.0" y="1247.8"/>
<use href="#cB" x="1440.9" y="1253.2"/>
<use href="#cB" x="1470.3" y="1256.4"/>
<use href="#cB" x="1342.8" y="1267.1"/>
<use href="#cB" x="1197.6" y="1269.3"/>
<use href="#cB" x="1242.1" y="1276.8"/>
<use href="#cB" x="1273.2" y="1282.1"/>
<use href="#cB" x="1296.8" y="1277.8"/>
<use href="#cBw" x="1315.4" y="1290.7"/>
<use href="#cB" x="1364.2" y="1295.4"/>
<use href="#cB" x="1401.7" y="1283.2"/>
<use href="#cB" x="1474.6" y="1290.7"/>
<use href="#cBw" x="1216.4" y="1298.2"/>
<use href="#cB" x="1458.5" y="1307.4"/>
<use href="#cBw" x="1394.9" y="1319.6"/>
<use href="#cB" x="1430.7" y="1332.5"/>
<use href="#cBw" x="1460.7" y="1332.5"/>
<use href="#cB" x="1240.0" y="1335.7"/>
<use href="#cB" x="1269.3" y="1336.7"/>
<use href="#cBw" x="1336.4" y="1338.9"/>
<use href="#cB" x="1357.4" y="1345.3"/>
<use href="#cB" x="1390.4" y="1342.1"/>
<use href="#cB" x="1414.6" y="1345.3"/>
<use href="#cB" x="1446.7" y="1350.7"/>
<use href="#cB" x="1202.5" y="1348.5"/>
<use href="#cB" x="1225.6" y="1346.4"/>
<use href="#cBw" x="1261.4" y="1358.2"/>
<use href="#cBw" x="1288.8" y="1360.3"/>
<use href="#cB" x="1311.3" y="1359.2"/>
<use href="#cB" x="1326.7" y="1374.2"/>
<use href="#cBw" x="1231.4" y="1375.3"/>
<use href="#cB" x="1301.0" y="1382.8"/>
<use href="#cB" x="1257.1" y="1398.9"/>
<use href="#cB" x="1193.9" y="1314.2"/>
<use href="#cB" x="1486.4" y="1384.9"/>
<use href="#cBw" transform="translate(1240.4 1310.0) scale(.85)"/>
<use href="#cS" transform="translate(1265.7 1141.8) scale(1.06)"/>
<use href="#cS" transform="translate(1377.1 1162.1) scale(1.11)"/>
<use href="#cS" transform="translate(1318.2 1207.1) scale(1.17)"/>
<use href="#cS" transform="translate(1426.4 1213.6) scale(1.17)"/>
<use href="#cS" transform="translate(1423.2 1238.2) scale(1.06)"/>
<use href="#cS" transform="translate(1260.3 1245.7) scale(1.03)"/>
<use href="#cS" transform="translate(1313.9 1253.2) scale(1.11)"/>
<use href="#cS" transform="translate(1295.3 1335.7) scale(1.03)"/>
<use href="#cS" transform="translate(1473.1 1357.1) scale(1.06)"/>
<use href="#cS" transform="translate(1390.4 1368.9) scale(1.29)"/>
<use href="#cS" transform="translate(1362.1 1381.7) scale(1.21)"/>
<use href="#cS" transform="translate(1458.5 1376.4) scale(1.01)"/>
<use href="#cS" transform="translate(1484.2 1209.3) scale(0.89)"/>
<use href="#cS" transform="translate(1320.3 1160.0) scale(0.93)"/>
</g>
<circle cx="1379.9" cy="1250.8" r="5" fill="#39448a" filter="url(#fb)"/>
<circle cx="1385.0" cy="1260.3" r="5" fill="#39448a" filter="url(#fb)"/>
<circle cx="1376.0" cy="1254.7" r="2.5" fill="#39448a" filter="url(#fb)"/>
<circle cx="1355.7" cy="1271.4" r="1.5" fill="#39448a" filter="url(#fb)"/>
<circle cx="1445.7" cy="1270.3" r="1.5" fill="#39448a" filter="url(#fb)"/>
<circle cx="1201.0" cy="1226.8" r="2" fill="#39448a" filter="url(#fb)"/>
<circle cx="1446.1" cy="1325.0" r="2.2" fill="#39448a" filter="url(#fb)"/>
<path d="M1431 1164q6 -3 12 1M1442 1174q5 4 9 0M1335 1137l2 10M1480 1280q-4 12 -8 22M1450 1372q-6 6 -3 12 5 3 8 -4" stroke="#1f2a2a" stroke-width="1.5" fill="none" opacity=".8" filter="url(#fb)"/>
<rect x="1393.2" y="1388.4" width="75.0" height="4.8" fill="#000"/>
</g>
<rect x="1610.5" y="901.5" width="14.5" height="22.5" fill="none" stroke="#0000ff" stroke-width="2.6"/>
<rect x="1611.5" y="936.5" width="14.5" height="23.0" fill="none" stroke="#ff0000" stroke-width="2.6"/>
<text x="1633.0" y="922.5" font-size="25.5" textLength="132.0" lengthAdjust="spacingAndGlyphs">WT (n = 13)</text>
<text x="1636.0" y="961.5" font-size="25.5" font-style="italic" textLength="66.0" lengthAdjust="spacingAndGlyphs">Gpr37</text>
<text x="1712.0" y="949.0" font-size="16" fill="#666" font-style="italic" textLength="24.0" lengthAdjust="spacingAndGlyphs">−/−</text>
<text x="1743.0" y="961.5" font-size="25.5" textLength="87.0" lengthAdjust="spacingAndGlyphs">(n = 13)</text>
<text x="1712.5" y="1020.0" font-size="25.5" textLength="120.0" lengthAdjust="spacingAndGlyphs"><tspan font-style="italic">P</tspan> = 0.0323</text>
<path d="M1689.2 1071.9V1035.7H1852.1V1047.4" fill="none" stroke="#000" stroke-width="2.8"/>
<path d="M1619 1183.4V1161.1H1755.5V1183.4" fill="none" stroke="#0000ff" stroke-width="2.6"/>
<path d="M1781 1183.4V1128.5H1917V1183.4" fill="none" stroke="#ff0000" stroke-width="2.6"/>
<path d="M1653.8 1152.7H1721.8M1653.8 1168.9H1721.8M1687.8 1152.7V1168.9" fill="none" stroke="#0000ff" stroke-width="2.6"/>
<path d="M1815.9 1117.1H1883.9M1815.9 1139.6H1883.9M1849.9 1117.1V1139.6" fill="none" stroke="#ff0000" stroke-width="2.6"/>
<g fill="#0000ff"><circle cx="1687.8" cy="1092.8" r="5.2"/><circle cx="1687.8" cy="1114.6" r="5.2"/><circle cx="1687.8" cy="1131.8" r="5.2"/><circle cx="1681.6" cy="1151.3" r="5.2"/><circle cx="1693.3" cy="1161.1" r="5.2"/><circle cx="1646.0" cy="1177.2" r="5.2"/><circle cx="1658.0" cy="1179.2" r="5.2"/><circle cx="1669.7" cy="1181.4" r="5.2"/><circle cx="1681.6" cy="1182.0" r="5.2"/><circle cx="1693.3" cy="1181.4" r="5.2"/><circle cx="1705.0" cy="1179.7" r="5.2"/><circle cx="1717.0" cy="1178.6" r="5.2"/><circle cx="1728.7" cy="1177.0" r="5.2"/></g>
<g fill="#ff0000"><circle cx="1838.2" cy="1070.0" r="5.2"/><circle cx="1849.3" cy="1075.6" r="5.2"/><circle cx="1861.9" cy="1066.4" r="5.2"/><circle cx="1849.3" cy="1090.1" r="5.2"/><circle cx="1849.3" cy="1110.1" r="5.2"/><circle cx="1854.9" cy="1134.6" r="5.2"/><circle cx="1843.2" cy="1139.4" r="5.2"/><circle cx="1861.0" cy="1147.7" r="5.2"/><circle cx="1837.4" cy="1152.7" r="5.2"/><circle cx="1849.3" cy="1158.3" r="5.2"/><circle cx="1837.4" cy="1170.8" r="5.2"/><circle cx="1849.3" cy="1177.8" r="5.2"/><circle cx="1861.0" cy="1177.8" r="5.2"/></g>
<path d="M1605.6 967.5V1183.4H1931.5" fill="none" stroke="#000" stroke-width="3"/>
<line x1="1599.6" y1="1183.4" x2="1605.6" y2="1183.4" stroke="#000" stroke-width="3" />
<text x="1599.5" y="1192.4" font-size="25" text-anchor="end">0</text>
<line x1="1599.6" y1="1140.2" x2="1605.6" y2="1140.2" stroke="#000" stroke-width="3" />
<text x="1599.5" y="1149.2" font-size="25" text-anchor="end">20</text>
<line x1="1599.6" y1="1097.0" x2="1605.6" y2="1097.0" stroke="#000" stroke-width="3" />
<text x="1599.5" y="1106.0" font-size="25" text-anchor="end">40</text>
<line x1="1599.6" y1="1053.9" x2="1605.6" y2="1053.9" stroke="#000" stroke-width="3" />
<text x="1599.5" y="1062.9" font-size="25" text-anchor="end">60</text>
<line x1="1599.6" y1="1010.7" x2="1605.6" y2="1010.7" stroke="#000" stroke-width="3" />
<text x="1599.5" y="1019.7" font-size="25" text-anchor="end">80</text>
<line x1="1599.6" y1="967.5" x2="1605.6" y2="967.5" stroke="#000" stroke-width="3" />
<text x="1599.5" y="976.5" font-size="25" text-anchor="end">100</text>
<line x1="1768.0" y1="1183.4" x2="1768.0" y2="1188.4" stroke="#000" stroke-width="3" />
<text x="1740.7" y="1219.5" font-size="25.5" textLength="46.0" lengthAdjust="spacingAndGlyphs">10 d</text>
<text x="1530.0" y="1157.0" font-size="25.5" textLength="181.0" lengthAdjust="spacingAndGlyphs" transform="rotate(-90 1530.0 1157.0)">Giemsa Stained</text>
<text x="1559.0" y="1122.0" font-size="25.5" textLength="112.0" lengthAdjust="spacingAndGlyphs" transform="rotate(-90 1559.0 1122.0)">RBCs (%)</text>
</svg></body></html>
